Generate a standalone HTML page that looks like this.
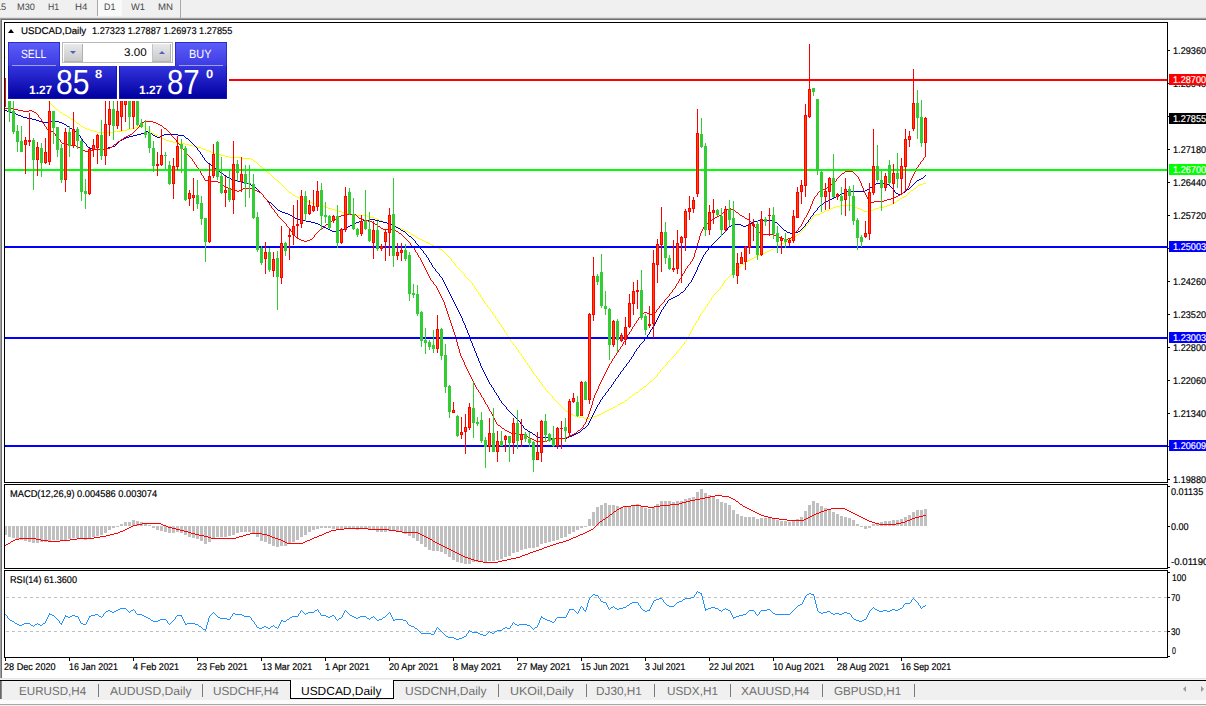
<!DOCTYPE html>
<html><head><meta charset="utf-8"><title>USDCAD,Daily</title>
<style>
html,body{margin:0;padding:0;background:#fff;}
body{width:1206px;height:706px;position:relative;overflow:hidden;font-family:"Liberation Sans",sans-serif;text-rendering:geometricPrecision;}
.t{position:absolute;white-space:nowrap;}
#toolbar{position:absolute;left:0;top:0;width:1206px;height:22px;background:#f0f0f0;}
#tabbar{position:absolute;left:0;top:681px;width:1206px;height:19px;background:#f0f0f0;}
svg{position:absolute;left:0;top:0;}
.a{position:absolute;}
</style></head><body>
<div id="toolbar"></div>
<div class="a" style="left:0;top:17px;width:1206px;height:1px;background:#dedede"></div>
<div class="a" style="left:0;top:18px;width:1206px;height:1px;background:#a0a0a0"></div>
<div class="a" style="left:1px;top:19px;width:1206px;height:1px;background:#6e6e6e"></div>
<div class="a" style="left:2px;top:20px;width:1206px;height:2px;background:#fff"></div>
<div class="a" style="left:98px;top:0;width:24px;height:16px;background:#f9f9f9"></div>
<div class="a" style="left:97px;top:0;width:1px;height:16px;background:#a8a8a8"></div>
<div class="a" style="left:180px;top:0;width:1px;height:18px;background:#a8a8a8"></div>
<div class="a" style="left:0;top:18px;width:1px;height:661px;background:#a0a0a0"></div>
<div class="a" style="left:1px;top:19px;width:1px;height:660px;background:#6e6e6e"></div>
<div class="a" style="left:2px;top:20px;width:2px;height:659px;background:#fff"></div>
<svg width="1206" height="706" viewBox="0 0 1206 706">
<defs><clipPath id="cmain"><rect x="5" y="23" width="1162" height="459"/></clipPath></defs>
<g clip-path="url(#cmain)">
<path d="M5 57h1v1h-1zM6 58h1v1h-1zM7 59h1v1h-1zM8 60h1v1h-1zM9 61h1v1h-1zM10 62h1v1h-1zM11 63h1v1h-1zM12 64h1v1h-1zM13 65h1v1h-1zM14 66h1v1h-1zM15 67h1v1h-1zM16 68h1v1h-1zM17 69h1v1h-1zM18 70h1v1h-1zM19 71h1v1h-1zM20 72h1v1h-1zM21 73h1v1h-1zM22 74h1v1h-1zM23 75h1v1h-1zM24 76h1v1h-1zM25 77h1v1h-1zM26 78h1v1h-1zM27 79h1v1h-1zM28 80h1v1h-1zM29 81h1v1h-1zM30 82h1v1h-1zM31 83h1v1h-1zM32 84h1v1h-1zM33 85h1v1h-1zM34 86h1v1h-1zM35 87h1v1h-1zM36 88h1v1h-1zM37 89h1v1h-1zM38 90h1v1h-1zM39 91h1v1h-1zM40 92h1v1h-1zM41 93h1v1h-1zM42 94h1v1h-1zM43 95h1v1h-1zM44 96h1v1h-1zM44 97h1v1h-1zM45 98h1v1h-1zM46 99h1v1h-1zM47 100h1v1h-1zM48 101h1v1h-1zM49 102h1v1h-1zM50 103h1v1h-1zM51 104h1v1h-1zM52 105h1v1h-1zM53 106h1v1h-1zM54 107h1v1h-1zM55 108h1v1h-1zM56 109h2v1h-2zM58 110h1v1h-1zM59 111h1v1h-1zM60 112h2v1h-2zM62 113h1v1h-1zM63 114h2v1h-2zM65 115h2v1h-2zM67 116h1v1h-1zM68 117h2v1h-2zM70 118h1v1h-1zM71 119h2v1h-2zM73 120h2v1h-2zM75 121h1v1h-1zM76 122h1v1h-1zM77 123h2v1h-2zM79 124h1v1h-1zM142 124h1v1h-1zM80 125h1v1h-1zM140 125h2v1h-2zM143 125h1v1h-1zM81 126h2v1h-2zM138 126h2v1h-2zM144 126h1v1h-1zM83 127h2v1h-2zM135 127h3v1h-3zM145 127h1v1h-1zM85 128h2v1h-2zM131 128h4v1h-4zM146 128h1v1h-1zM87 129h3v1h-3zM127 129h4v1h-4zM147 129h1v1h-1zM90 130h3v1h-3zM122 130h5v1h-5zM148 130h2v1h-2zM93 131h4v1h-4zM114 131h8v1h-8zM150 131h1v1h-1zM97 132h17v1h-17zM151 132h1v1h-1zM152 133h2v1h-2zM154 134h2v1h-2zM156 135h2v1h-2zM158 136h2v1h-2zM160 137h2v1h-2zM162 138h2v1h-2zM164 139h2v1h-2zM166 140h3v1h-3zM169 141h4v1h-4zM173 142h6v1h-6zM179 143h6v1h-6zM185 144h4v1h-4zM189 145h4v1h-4zM193 146h4v1h-4zM197 147h4v1h-4zM201 148h2v1h-2zM203 149h3v1h-3zM206 150h3v1h-3zM209 151h2v1h-2zM211 152h3v1h-3zM214 153h3v1h-3zM217 154h4v1h-4zM221 155h4v1h-4zM225 156h4v1h-4zM229 157h12v1h-12zM241 158h10v1h-10zM251 159h2v1h-2zM253 160h1v1h-1zM254 161h2v1h-2zM256 162h1v1h-1zM257 163h1v1h-1zM258 164h1v1h-1zM259 165h1v1h-1zM260 166h2v1h-2zM262 167h1v1h-1zM263 168h1v1h-1zM264 169h1v1h-1zM265 170h1v1h-1zM266 171h1v1h-1zM267 172h1v1h-1zM268 173h2v1h-2zM270 174h1v1h-1zM271 175h1v1h-1zM272 176h1v1h-1zM273 177h1v1h-1zM274 178h1v1h-1zM275 179h1v1h-1zM276 180h2v1h-2zM278 181h1v1h-1zM279 182h1v1h-1zM280 183h1v1h-1zM923 183h3v1h-3zM281 184h1v1h-1zM920 184h3v1h-3zM282 185h1v1h-1zM918 185h2v1h-2zM283 186h1v1h-1zM917 186h1v1h-1zM284 187h1v1h-1zM916 187h1v1h-1zM285 188h1v1h-1zM914 188h2v1h-2zM286 189h1v1h-1zM913 189h1v1h-1zM287 190h1v1h-1zM911 190h2v1h-2zM288 191h1v1h-1zM910 191h1v1h-1zM289 192h2v1h-2zM909 192h1v1h-1zM291 193h1v1h-1zM908 193h1v1h-1zM292 194h1v1h-1zM907 194h1v1h-1zM293 195h2v1h-2zM906 195h1v1h-1zM295 196h2v1h-2zM904 196h2v1h-2zM297 197h2v1h-2zM902 197h2v1h-2zM299 198h3v1h-3zM900 198h2v1h-2zM302 199h3v1h-3zM899 199h1v1h-1zM305 200h2v1h-2zM897 200h2v1h-2zM307 201h3v1h-3zM896 201h1v1h-1zM310 202h2v1h-2zM894 202h2v1h-2zM312 203h3v1h-3zM892 203h2v1h-2zM315 204h3v1h-3zM890 204h2v1h-2zM318 205h4v1h-4zM840 205h13v1h-13zM887 205h3v1h-3zM322 206h3v1h-3zM836 206h4v1h-4zM853 206h2v1h-2zM884 206h3v1h-3zM325 207h3v1h-3zM833 207h3v1h-3zM855 207h2v1h-2zM879 207h5v1h-5zM328 208h4v1h-4zM831 208h2v1h-2zM857 208h3v1h-3zM875 208h4v1h-4zM332 209h3v1h-3zM829 209h2v1h-2zM860 209h2v1h-2zM873 209h2v1h-2zM335 210h3v1h-3zM826 210h3v1h-3zM862 210h2v1h-2zM868 210h5v1h-5zM338 211h4v1h-4zM824 211h2v1h-2zM864 211h4v1h-4zM342 212h3v1h-3zM822 212h2v1h-2zM345 213h3v1h-3zM820 213h2v1h-2zM348 214h4v1h-4zM816 214h4v1h-4zM352 215h15v1h-15zM814 215h2v1h-2zM367 216h3v1h-3zM813 216h1v1h-1zM370 217h4v1h-4zM812 217h1v1h-1zM374 218h3v1h-3zM812 218h1v1h-1zM377 219h2v1h-2zM811 219h1v1h-1zM379 220h3v1h-3zM810 220h1v1h-1zM382 221h2v1h-2zM809 221h1v1h-1zM384 222h3v1h-3zM808 222h1v1h-1zM387 223h2v1h-2zM808 223h1v1h-1zM389 224h3v1h-3zM807 224h1v1h-1zM392 225h2v1h-2zM806 225h1v1h-1zM394 226h3v1h-3zM805 226h1v1h-1zM397 227h2v1h-2zM805 227h1v1h-1zM399 228h3v1h-3zM804 228h1v1h-1zM402 229h2v1h-2zM803 229h1v1h-1zM404 230h2v1h-2zM802 230h1v1h-1zM406 231h2v1h-2zM801 231h1v1h-1zM408 232h2v1h-2zM800 232h1v1h-1zM410 233h1v1h-1zM799 233h1v1h-1zM411 234h2v1h-2zM797 234h2v1h-2zM413 235h2v1h-2zM796 235h1v1h-1zM415 236h1v1h-1zM795 236h1v1h-1zM416 237h2v1h-2zM793 237h2v1h-2zM418 238h2v1h-2zM792 238h1v1h-1zM420 239h2v1h-2zM790 239h2v1h-2zM422 240h2v1h-2zM788 240h2v1h-2zM424 241h2v1h-2zM786 241h2v1h-2zM426 242h2v1h-2zM784 242h2v1h-2zM428 243h2v1h-2zM782 243h2v1h-2zM430 244h2v1h-2zM780 244h2v1h-2zM432 245h2v1h-2zM778 245h2v1h-2zM434 246h2v1h-2zM776 246h2v1h-2zM436 247h2v1h-2zM774 247h2v1h-2zM438 248h2v1h-2zM773 248h1v1h-1zM440 249h2v1h-2zM771 249h2v1h-2zM442 250h1v1h-1zM769 250h2v1h-2zM443 251h1v1h-1zM767 251h2v1h-2zM444 252h1v1h-1zM765 252h2v1h-2zM445 253h1v1h-1zM763 253h2v1h-2zM446 254h1v1h-1zM761 254h2v1h-2zM447 255h1v1h-1zM758 255h3v1h-3zM448 256h1v1h-1zM756 256h2v1h-2zM449 257h1v1h-1zM754 257h2v1h-2zM450 258h1v1h-1zM752 258h2v1h-2zM451 259h1v1h-1zM750 259h2v1h-2zM451 260h1v1h-1zM748 260h2v1h-2zM452 261h1v1h-1zM746 261h2v1h-2zM453 262h1v1h-1zM745 262h1v1h-1zM454 263h1v1h-1zM744 263h1v1h-1zM455 264h1v1h-1zM742 264h2v1h-2zM455 265h1v1h-1zM741 265h1v1h-1zM456 266h1v1h-1zM740 266h1v1h-1zM457 267h1v1h-1zM739 267h1v1h-1zM458 268h1v1h-1zM738 268h1v1h-1zM459 269h1v1h-1zM737 269h1v1h-1zM460 270h1v1h-1zM735 270h2v1h-2zM461 271h1v1h-1zM734 271h1v1h-1zM462 272h1v1h-1zM733 272h1v1h-1zM463 273h1v1h-1zM732 273h1v1h-1zM464 274h1v1h-1zM731 274h1v1h-1zM464 275h1v1h-1zM730 275h1v1h-1zM465 276h1v1h-1zM729 276h1v1h-1zM466 277h1v1h-1zM728 277h1v1h-1zM467 278h1v1h-1zM727 278h1v1h-1zM468 279h1v1h-1zM726 279h1v1h-1zM469 280h1v1h-1zM725 280h1v1h-1zM470 281h1v1h-1zM724 281h1v1h-1zM471 282h1v1h-1zM724 282h1v1h-1zM472 283h1v1h-1zM723 283h1v1h-1zM472 284h1v1h-1zM722 284h1v1h-1zM473 285h1v1h-1zM722 285h1v1h-1zM474 286h1v1h-1zM721 286h1v1h-1zM474 287h1v1h-1zM720 287h1v1h-1zM475 288h1v1h-1zM720 288h1v1h-1zM476 289h1v1h-1zM719 289h1v1h-1zM476 290h1v1h-1zM718 290h1v1h-1zM477 291h1v1h-1zM717 291h1v1h-1zM478 292h1v1h-1zM716 292h1v1h-1zM478 293h1v1h-1zM715 293h1v1h-1zM479 294h1v1h-1zM714 294h1v1h-1zM480 295h1v1h-1zM713 295h1v1h-1zM480 296h1v1h-1zM713 296h1v1h-1zM481 297h1v1h-1zM712 297h1v1h-1zM482 298h1v1h-1zM711 298h1v1h-1zM482 299h1v1h-1zM711 299h1v1h-1zM483 300h1v1h-1zM710 300h1v1h-1zM484 301h1v1h-1zM709 301h1v1h-1zM484 302h1v1h-1zM709 302h1v1h-1zM485 303h1v1h-1zM708 303h1v1h-1zM486 304h1v1h-1zM707 304h1v1h-1zM487 305h1v1h-1zM707 305h1v1h-1zM487 306h1v1h-1zM706 306h1v1h-1zM488 307h1v1h-1zM705 307h1v1h-1zM489 308h1v1h-1zM705 308h1v1h-1zM490 309h1v1h-1zM704 309h1v1h-1zM490 310h1v1h-1zM703 310h1v1h-1zM491 311h1v1h-1zM702 311h1v1h-1zM492 312h1v1h-1zM702 312h1v1h-1zM492 313h1v1h-1zM701 313h1v1h-1zM493 314h1v1h-1zM700 314h1v1h-1zM494 315h1v1h-1zM700 315h1v1h-1zM495 316h1v1h-1zM699 316h1v1h-1zM495 317h1v1h-1zM699 317h1v1h-1zM496 318h1v1h-1zM698 318h1v1h-1zM497 319h1v1h-1zM698 319h1v1h-1zM497 320h1v1h-1zM697 320h1v1h-1zM498 321h1v1h-1zM696 321h1v1h-1zM499 322h1v1h-1zM696 322h1v1h-1zM499 323h1v1h-1zM695 323h1v1h-1zM500 324h1v1h-1zM695 324h1v1h-1zM501 325h1v1h-1zM694 325h1v1h-1zM501 326h1v1h-1zM693 326h1v1h-1zM502 327h1v1h-1zM693 327h1v1h-1zM503 328h1v1h-1zM692 328h1v1h-1zM503 329h1v1h-1zM692 329h1v1h-1zM504 330h1v1h-1zM691 330h1v1h-1zM504 331h1v1h-1zM691 331h1v1h-1zM505 332h1v1h-1zM690 332h1v1h-1zM506 333h1v1h-1zM690 333h1v1h-1zM506 334h1v1h-1zM689 334h1v1h-1zM507 335h1v1h-1zM689 335h1v1h-1zM508 336h1v1h-1zM688 336h1v1h-1zM508 337h1v1h-1zM688 337h1v1h-1zM509 338h1v1h-1zM687 338h1v1h-1zM510 339h1v1h-1zM686 339h1v1h-1zM510 340h1v1h-1zM686 340h1v1h-1zM511 341h1v1h-1zM685 341h1v1h-1zM512 342h1v1h-1zM684 342h1v1h-1zM513 343h1v1h-1zM684 343h1v1h-1zM513 344h1v1h-1zM683 344h1v1h-1zM514 345h1v1h-1zM682 345h1v1h-1zM515 346h1v1h-1zM681 346h1v1h-1zM516 347h1v1h-1zM681 347h1v1h-1zM516 348h1v1h-1zM680 348h1v1h-1zM517 349h1v1h-1zM679 349h1v1h-1zM518 350h1v1h-1zM678 350h1v1h-1zM518 351h1v1h-1zM677 351h1v1h-1zM519 352h1v1h-1zM676 352h1v1h-1zM520 353h1v1h-1zM676 353h1v1h-1zM521 354h1v1h-1zM675 354h1v1h-1zM521 355h1v1h-1zM674 355h1v1h-1zM522 356h1v1h-1zM673 356h1v1h-1zM523 357h1v1h-1zM672 357h1v1h-1zM523 358h1v1h-1zM671 358h1v1h-1zM524 359h1v1h-1zM670 359h1v1h-1zM525 360h1v1h-1zM669 360h1v1h-1zM525 361h1v1h-1zM668 361h1v1h-1zM526 362h1v1h-1zM667 362h1v1h-1zM527 363h1v1h-1zM667 363h1v1h-1zM527 364h1v1h-1zM666 364h1v1h-1zM528 365h1v1h-1zM665 365h1v1h-1zM529 366h1v1h-1zM664 366h1v1h-1zM529 367h1v1h-1zM663 367h1v1h-1zM530 368h1v1h-1zM662 368h1v1h-1zM531 369h1v1h-1zM661 369h1v1h-1zM531 370h1v1h-1zM660 370h1v1h-1zM532 371h1v1h-1zM660 371h1v1h-1zM533 372h1v1h-1zM659 372h1v1h-1zM533 373h1v1h-1zM658 373h1v1h-1zM534 374h1v1h-1zM657 374h1v1h-1zM535 375h1v1h-1zM657 375h1v1h-1zM536 376h1v1h-1zM656 376h1v1h-1zM536 377h1v1h-1zM655 377h1v1h-1zM537 378h1v1h-1zM654 378h1v1h-1zM538 379h1v1h-1zM653 379h1v1h-1zM539 380h1v1h-1zM652 380h1v1h-1zM539 381h1v1h-1zM650 381h2v1h-2zM540 382h1v1h-1zM649 382h1v1h-1zM541 383h1v1h-1zM648 383h1v1h-1zM542 384h1v1h-1zM647 384h1v1h-1zM542 385h1v1h-1zM646 385h1v1h-1zM543 386h1v1h-1zM644 386h2v1h-2zM544 387h1v1h-1zM643 387h1v1h-1zM545 388h1v1h-1zM642 388h1v1h-1zM545 389h1v1h-1zM640 389h2v1h-2zM546 390h1v1h-1zM639 390h1v1h-1zM547 391h1v1h-1zM638 391h1v1h-1zM548 392h1v1h-1zM636 392h2v1h-2zM549 393h1v1h-1zM635 393h1v1h-1zM550 394h1v1h-1zM633 394h2v1h-2zM551 395h1v1h-1zM632 395h1v1h-1zM552 396h1v1h-1zM631 396h1v1h-1zM552 397h1v1h-1zM629 397h2v1h-2zM553 398h1v1h-1zM628 398h1v1h-1zM554 399h1v1h-1zM627 399h1v1h-1zM555 400h1v1h-1zM625 400h2v1h-2zM556 401h1v1h-1zM624 401h1v1h-1zM557 402h1v1h-1zM622 402h2v1h-2zM558 403h1v1h-1zM620 403h2v1h-2zM559 404h1v1h-1zM618 404h2v1h-2zM560 405h1v1h-1zM617 405h1v1h-1zM561 406h1v1h-1zM615 406h2v1h-2zM562 407h1v1h-1zM613 407h2v1h-2zM563 408h1v1h-1zM611 408h2v1h-2zM564 409h1v1h-1zM609 409h2v1h-2zM565 410h1v1h-1zM607 410h2v1h-2zM566 411h2v1h-2zM605 411h2v1h-2zM568 412h1v1h-1zM603 412h2v1h-2zM569 413h2v1h-2zM601 413h2v1h-2zM571 414h2v1h-2zM599 414h2v1h-2zM573 415h2v1h-2zM597 415h2v1h-2zM575 416h4v1h-4zM594 416h3v1h-3zM579 417h5v1h-5zM590 417h4v1h-4zM584 418h6v1h-6z" fill="#FFFF00" shape-rendering="crispEdges"/>
<path d="M5 110h2v1h-2zM7 111h3v1h-3zM10 112h3v1h-3zM13 113h3v1h-3zM16 114h2v1h-2zM18 115h3v1h-3zM21 116h2v1h-2zM23 117h4v1h-4zM27 118h5v1h-5zM32 119h4v1h-4zM36 120h3v1h-3zM39 121h4v1h-4zM48 121h11v1h-11zM43 122h5v1h-5zM59 122h3v1h-3zM62 123h2v1h-2zM64 124h2v1h-2zM66 125h1v1h-1zM67 126h2v1h-2zM69 127h1v1h-1zM70 128h2v1h-2zM72 129h1v1h-1zM73 130h2v1h-2zM75 131h1v1h-1zM146 131h2v1h-2zM76 132h1v1h-1zM144 132h2v1h-2zM148 132h2v1h-2zM77 133h1v1h-1zM141 133h3v1h-3zM150 133h2v1h-2zM78 134h1v1h-1zM137 134h4v1h-4zM152 134h1v1h-1zM164 134h14v1h-14zM79 135h1v1h-1zM133 135h4v1h-4zM153 135h2v1h-2zM162 135h2v1h-2zM178 135h6v1h-6zM80 136h1v1h-1zM129 136h4v1h-4zM155 136h2v1h-2zM160 136h2v1h-2zM184 136h1v1h-1zM80 137h1v1h-1zM126 137h3v1h-3zM157 137h3v1h-3zM185 137h1v1h-1zM81 138h1v1h-1zM124 138h2v1h-2zM186 138h2v1h-2zM82 139h1v1h-1zM122 139h2v1h-2zM188 139h1v1h-1zM82 140h1v1h-1zM120 140h2v1h-2zM189 140h1v1h-1zM83 141h1v1h-1zM119 141h1v1h-1zM190 141h1v1h-1zM84 142h1v1h-1zM118 142h1v1h-1zM191 142h1v1h-1zM85 143h1v1h-1zM117 143h1v1h-1zM192 143h1v1h-1zM86 144h1v1h-1zM116 144h1v1h-1zM193 144h1v1h-1zM86 145h1v1h-1zM115 145h1v1h-1zM194 145h1v1h-1zM87 146h1v1h-1zM112 146h3v1h-3zM195 146h1v1h-1zM88 147h2v1h-2zM108 147h4v1h-4zM196 147h1v1h-1zM90 148h4v1h-4zM105 148h3v1h-3zM197 148h1v1h-1zM94 149h11v1h-11zM197 149h1v1h-1zM198 150h1v1h-1zM199 151h1v1h-1zM200 152h1v1h-1zM200 153h1v1h-1zM201 154h1v1h-1zM202 155h1v1h-1zM202 156h1v1h-1zM203 157h1v1h-1zM204 158h1v1h-1zM204 159h1v1h-1zM205 160h1v1h-1zM206 161h1v1h-1zM207 162h1v1h-1zM208 163h2v1h-2zM210 164h1v1h-1zM211 165h1v1h-1zM212 166h1v1h-1zM213 167h1v1h-1zM214 168h2v1h-2zM216 169h1v1h-1zM217 170h1v1h-1zM218 171h2v1h-2zM220 172h1v1h-1zM221 173h2v1h-2zM223 174h1v1h-1zM224 175h2v1h-2zM925 175h1v1h-1zM226 176h1v1h-1zM924 176h1v1h-1zM227 177h2v1h-2zM923 177h1v1h-1zM229 178h2v1h-2zM921 178h2v1h-2zM231 179h3v1h-3zM919 179h2v1h-2zM234 180h3v1h-3zM917 180h2v1h-2zM237 181h4v1h-4zM916 181h1v1h-1zM241 182h5v1h-5zM915 182h1v1h-1zM246 183h3v1h-3zM876 183h9v1h-9zM914 183h1v1h-1zM249 184h2v1h-2zM874 184h2v1h-2zM885 184h4v1h-4zM913 184h1v1h-1zM251 185h2v1h-2zM873 185h1v1h-1zM889 185h1v1h-1zM912 185h1v1h-1zM253 186h2v1h-2zM872 186h1v1h-1zM890 186h1v1h-1zM911 186h1v1h-1zM255 187h1v1h-1zM870 187h2v1h-2zM891 187h1v1h-1zM910 187h1v1h-1zM256 188h1v1h-1zM869 188h1v1h-1zM892 188h1v1h-1zM909 188h1v1h-1zM257 189h1v1h-1zM867 189h2v1h-2zM893 189h1v1h-1zM907 189h2v1h-2zM258 190h1v1h-1zM865 190h2v1h-2zM894 190h1v1h-1zM906 190h1v1h-1zM259 191h1v1h-1zM846 191h19v1h-19zM894 191h1v1h-1zM905 191h1v1h-1zM260 192h1v1h-1zM844 192h2v1h-2zM895 192h1v1h-1zM903 192h2v1h-2zM261 193h1v1h-1zM842 193h2v1h-2zM896 193h2v1h-2zM901 193h2v1h-2zM262 194h1v1h-1zM840 194h2v1h-2zM898 194h3v1h-3zM263 195h1v1h-1zM838 195h2v1h-2zM263 196h1v1h-1zM836 196h2v1h-2zM264 197h1v1h-1zM834 197h2v1h-2zM265 198h1v1h-1zM832 198h2v1h-2zM266 199h1v1h-1zM830 199h2v1h-2zM267 200h1v1h-1zM828 200h2v1h-2zM268 201h1v1h-1zM826 201h2v1h-2zM269 202h2v1h-2zM824 202h2v1h-2zM271 203h1v1h-1zM823 203h1v1h-1zM272 204h1v1h-1zM822 204h1v1h-1zM273 205h1v1h-1zM820 205h2v1h-2zM274 206h1v1h-1zM819 206h1v1h-1zM275 207h1v1h-1zM818 207h1v1h-1zM276 208h1v1h-1zM817 208h1v1h-1zM277 209h1v1h-1zM817 209h1v1h-1zM278 210h2v1h-2zM816 210h1v1h-1zM280 211h2v1h-2zM815 211h1v1h-1zM282 212h3v1h-3zM814 212h1v1h-1zM285 213h3v1h-3zM813 213h1v1h-1zM288 214h2v1h-2zM813 214h1v1h-1zM290 215h2v1h-2zM812 215h1v1h-1zM292 216h1v1h-1zM811 216h1v1h-1zM293 217h2v1h-2zM810 217h1v1h-1zM295 218h2v1h-2zM810 218h1v1h-1zM297 219h4v1h-4zM369 219h6v1h-6zM809 219h1v1h-1zM301 220h5v1h-5zM363 220h6v1h-6zM375 220h4v1h-4zM758 220h15v1h-15zM808 220h1v1h-1zM306 221h5v1h-5zM359 221h4v1h-4zM379 221h4v1h-4zM754 221h4v1h-4zM773 221h2v1h-2zM808 221h1v1h-1zM311 222h4v1h-4zM356 222h3v1h-3zM383 222h4v1h-4zM752 222h2v1h-2zM775 222h2v1h-2zM807 222h1v1h-1zM315 223h3v1h-3zM354 223h2v1h-2zM387 223h3v1h-3zM750 223h2v1h-2zM777 223h1v1h-1zM806 223h1v1h-1zM318 224h2v1h-2zM352 224h2v1h-2zM390 224h2v1h-2zM733 224h8v1h-8zM748 224h2v1h-2zM778 224h1v1h-1zM805 224h1v1h-1zM320 225h2v1h-2zM350 225h2v1h-2zM392 225h2v1h-2zM731 225h2v1h-2zM741 225h2v1h-2zM746 225h2v1h-2zM779 225h1v1h-1zM805 225h1v1h-1zM322 226h2v1h-2zM348 226h2v1h-2zM394 226h2v1h-2zM729 226h2v1h-2zM743 226h3v1h-3zM780 226h1v1h-1zM804 226h1v1h-1zM324 227h2v1h-2zM346 227h2v1h-2zM396 227h2v1h-2zM728 227h1v1h-1zM781 227h1v1h-1zM803 227h1v1h-1zM326 228h2v1h-2zM344 228h2v1h-2zM398 228h2v1h-2zM727 228h1v1h-1zM782 228h1v1h-1zM802 228h1v1h-1zM328 229h2v1h-2zM342 229h2v1h-2zM400 229h1v1h-1zM727 229h1v1h-1zM783 229h1v1h-1zM801 229h1v1h-1zM330 230h2v1h-2zM337 230h5v1h-5zM401 230h2v1h-2zM726 230h1v1h-1zM784 230h2v1h-2zM800 230h1v1h-1zM332 231h5v1h-5zM403 231h2v1h-2zM725 231h1v1h-1zM786 231h1v1h-1zM798 231h2v1h-2zM405 232h1v1h-1zM724 232h1v1h-1zM787 232h3v1h-3zM794 232h4v1h-4zM406 233h1v1h-1zM723 233h1v1h-1zM790 233h4v1h-4zM407 234h1v1h-1zM722 234h1v1h-1zM408 235h1v1h-1zM721 235h1v1h-1zM409 236h2v1h-2zM720 236h1v1h-1zM411 237h1v1h-1zM719 237h1v1h-1zM412 238h1v1h-1zM718 238h1v1h-1zM413 239h1v1h-1zM717 239h1v1h-1zM414 240h1v1h-1zM716 240h1v1h-1zM415 241h1v1h-1zM715 241h1v1h-1zM415 242h1v1h-1zM714 242h1v1h-1zM416 243h1v1h-1zM713 243h1v1h-1zM417 244h1v1h-1zM712 244h1v1h-1zM418 245h1v1h-1zM711 245h1v1h-1zM419 246h1v1h-1zM710 246h1v1h-1zM419 247h1v1h-1zM709 247h1v1h-1zM420 248h1v1h-1zM708 248h1v1h-1zM421 249h1v1h-1zM708 249h1v1h-1zM422 250h1v1h-1zM707 250h1v1h-1zM423 251h1v1h-1zM706 251h1v1h-1zM423 252h1v1h-1zM705 252h1v1h-1zM424 253h1v1h-1zM705 253h1v1h-1zM425 254h1v1h-1zM704 254h1v1h-1zM426 255h1v1h-1zM703 255h1v1h-1zM426 256h1v1h-1zM703 256h1v1h-1zM427 257h1v1h-1zM702 257h1v1h-1zM428 258h1v1h-1zM702 258h1v1h-1zM428 259h1v1h-1zM701 259h1v1h-1zM429 260h1v1h-1zM701 260h1v1h-1zM429 261h1v1h-1zM700 261h1v1h-1zM430 262h1v1h-1zM700 262h1v1h-1zM431 263h1v1h-1zM699 263h1v1h-1zM431 264h1v1h-1zM699 264h1v1h-1zM432 265h1v1h-1zM698 265h1v1h-1zM432 266h1v1h-1zM698 266h1v1h-1zM433 267h1v1h-1zM697 267h1v1h-1zM434 268h1v1h-1zM697 268h1v1h-1zM435 269h1v1h-1zM697 269h1v1h-1zM435 270h1v1h-1zM696 270h1v1h-1zM436 271h1v1h-1zM696 271h1v1h-1zM437 272h1v1h-1zM695 272h1v1h-1zM438 273h1v1h-1zM695 273h1v1h-1zM439 274h1v1h-1zM694 274h1v1h-1zM439 275h1v1h-1zM694 275h1v1h-1zM440 276h1v1h-1zM693 276h1v1h-1zM441 277h1v1h-1zM693 277h1v1h-1zM442 278h1v1h-1zM692 278h1v1h-1zM442 279h1v1h-1zM692 279h1v1h-1zM443 280h1v1h-1zM691 280h1v1h-1zM443 281h1v1h-1zM691 281h1v1h-1zM444 282h1v1h-1zM690 282h1v1h-1zM444 283h1v1h-1zM689 283h1v1h-1zM445 284h1v1h-1zM688 284h1v1h-1zM445 285h1v1h-1zM688 285h1v1h-1zM446 286h1v1h-1zM687 286h1v1h-1zM446 287h1v1h-1zM686 287h1v1h-1zM447 288h1v1h-1zM685 288h1v1h-1zM447 289h1v1h-1zM685 289h1v1h-1zM448 290h1v1h-1zM684 290h1v1h-1zM448 291h1v1h-1zM683 291h1v1h-1zM449 292h1v1h-1zM681 292h2v1h-2zM449 293h1v1h-1zM680 293h1v1h-1zM450 294h1v1h-1zM679 294h1v1h-1zM450 295h1v1h-1zM677 295h2v1h-2zM451 296h1v1h-1zM675 296h2v1h-2zM451 297h1v1h-1zM673 297h2v1h-2zM452 298h1v1h-1zM671 298h2v1h-2zM452 299h1v1h-1zM669 299h2v1h-2zM453 300h1v1h-1zM668 300h1v1h-1zM453 301h1v1h-1zM667 301h1v1h-1zM454 302h1v1h-1zM667 302h1v1h-1zM454 303h1v1h-1zM666 303h1v1h-1zM455 304h1v1h-1zM665 304h1v1h-1zM455 305h1v1h-1zM665 305h1v1h-1zM456 306h1v1h-1zM664 306h1v1h-1zM456 307h1v1h-1zM663 307h1v1h-1zM457 308h1v1h-1zM663 308h1v1h-1zM457 309h1v1h-1zM662 309h1v1h-1zM458 310h1v1h-1zM661 310h1v1h-1zM458 311h1v1h-1zM661 311h1v1h-1zM459 312h1v1h-1zM660 312h1v1h-1zM459 313h1v1h-1zM660 313h1v1h-1zM460 314h1v1h-1zM659 314h1v1h-1zM460 315h1v1h-1zM659 315h1v1h-1zM461 316h1v1h-1zM658 316h1v1h-1zM461 317h1v1h-1zM658 317h1v1h-1zM462 318h1v1h-1zM657 318h1v1h-1zM462 319h1v1h-1zM657 319h1v1h-1zM462 320h1v1h-1zM656 320h1v1h-1zM463 321h1v1h-1zM656 321h1v1h-1zM463 322h1v1h-1zM655 322h1v1h-1zM464 323h1v1h-1zM655 323h1v1h-1zM464 324h1v1h-1zM654 324h1v1h-1zM465 325h1v1h-1zM654 325h1v1h-1zM465 326h1v1h-1zM653 326h1v1h-1zM465 327h1v1h-1zM652 327h1v1h-1zM466 328h1v1h-1zM652 328h1v1h-1zM466 329h1v1h-1zM651 329h1v1h-1zM467 330h1v1h-1zM650 330h1v1h-1zM467 331h1v1h-1zM650 331h1v1h-1zM467 332h1v1h-1zM649 332h1v1h-1zM468 333h1v1h-1zM649 333h1v1h-1zM468 334h1v1h-1zM648 334h1v1h-1zM469 335h1v1h-1zM647 335h1v1h-1zM469 336h1v1h-1zM647 336h1v1h-1zM469 337h1v1h-1zM646 337h1v1h-1zM470 338h1v1h-1zM645 338h1v1h-1zM470 339h1v1h-1zM644 339h1v1h-1zM470 340h1v1h-1zM644 340h1v1h-1zM471 341h1v1h-1zM643 341h1v1h-1zM471 342h1v1h-1zM642 342h1v1h-1zM472 343h1v1h-1zM641 343h1v1h-1zM472 344h1v1h-1zM640 344h1v1h-1zM472 345h1v1h-1zM639 345h1v1h-1zM473 346h1v1h-1zM639 346h1v1h-1zM473 347h1v1h-1zM638 347h1v1h-1zM474 348h1v1h-1zM637 348h1v1h-1zM474 349h1v1h-1zM636 349h1v1h-1zM474 350h1v1h-1zM636 350h1v1h-1zM475 351h1v1h-1zM635 351h1v1h-1zM475 352h1v1h-1zM634 352h1v1h-1zM476 353h1v1h-1zM634 353h1v1h-1zM476 354h1v1h-1zM633 354h1v1h-1zM476 355h1v1h-1zM633 355h1v1h-1zM477 356h1v1h-1zM632 356h1v1h-1zM477 357h1v1h-1zM631 357h1v1h-1zM478 358h1v1h-1zM631 358h1v1h-1zM478 359h1v1h-1zM630 359h1v1h-1zM478 360h1v1h-1zM629 360h1v1h-1zM479 361h1v1h-1zM629 361h1v1h-1zM479 362h1v1h-1zM628 362h1v1h-1zM480 363h1v1h-1zM627 363h1v1h-1zM480 364h1v1h-1zM626 364h1v1h-1zM480 365h1v1h-1zM626 365h1v1h-1zM481 366h1v1h-1zM625 366h1v1h-1zM481 367h1v1h-1zM624 367h1v1h-1zM482 368h1v1h-1zM623 368h1v1h-1zM482 369h1v1h-1zM623 369h1v1h-1zM483 370h1v1h-1zM622 370h1v1h-1zM483 371h1v1h-1zM621 371h1v1h-1zM484 372h1v1h-1zM620 372h1v1h-1zM484 373h1v1h-1zM620 373h1v1h-1zM485 374h1v1h-1zM619 374h1v1h-1zM485 375h1v1h-1zM618 375h1v1h-1zM486 376h1v1h-1zM618 376h1v1h-1zM486 377h1v1h-1zM617 377h1v1h-1zM487 378h1v1h-1zM616 378h1v1h-1zM487 379h1v1h-1zM615 379h1v1h-1zM488 380h1v1h-1zM615 380h1v1h-1zM488 381h1v1h-1zM614 381h1v1h-1zM489 382h1v1h-1zM613 382h1v1h-1zM489 383h1v1h-1zM613 383h1v1h-1zM490 384h1v1h-1zM612 384h1v1h-1zM491 385h1v1h-1zM611 385h1v1h-1zM491 386h1v1h-1zM611 386h1v1h-1zM492 387h1v1h-1zM610 387h1v1h-1zM493 388h1v1h-1zM609 388h1v1h-1zM493 389h1v1h-1zM608 389h1v1h-1zM494 390h1v1h-1zM608 390h1v1h-1zM494 391h1v1h-1zM607 391h1v1h-1zM495 392h1v1h-1zM606 392h1v1h-1zM496 393h1v1h-1zM605 393h1v1h-1zM496 394h1v1h-1zM605 394h1v1h-1zM497 395h1v1h-1zM604 395h1v1h-1zM498 396h1v1h-1zM603 396h1v1h-1zM498 397h1v1h-1zM602 397h1v1h-1zM499 398h1v1h-1zM602 398h1v1h-1zM499 399h1v1h-1zM601 399h1v1h-1zM500 400h1v1h-1zM600 400h1v1h-1zM501 401h1v1h-1zM600 401h1v1h-1zM501 402h1v1h-1zM599 402h1v1h-1zM502 403h1v1h-1zM599 403h1v1h-1zM503 404h1v1h-1zM598 404h1v1h-1zM504 405h1v1h-1zM597 405h1v1h-1zM505 406h1v1h-1zM597 406h1v1h-1zM506 407h1v1h-1zM596 407h1v1h-1zM506 408h1v1h-1zM596 408h1v1h-1zM507 409h1v1h-1zM595 409h1v1h-1zM508 410h1v1h-1zM595 410h1v1h-1zM509 411h1v1h-1zM594 411h1v1h-1zM510 412h1v1h-1zM594 412h1v1h-1zM511 413h1v1h-1zM593 413h1v1h-1zM512 414h1v1h-1zM593 414h1v1h-1zM513 415h1v1h-1zM592 415h1v1h-1zM514 416h1v1h-1zM592 416h1v1h-1zM515 417h1v1h-1zM591 417h1v1h-1zM516 418h1v1h-1zM591 418h1v1h-1zM517 419h1v1h-1zM590 419h1v1h-1zM518 420h1v1h-1zM590 420h1v1h-1zM519 421h1v1h-1zM589 421h1v1h-1zM520 422h1v1h-1zM589 422h1v1h-1zM520 423h1v1h-1zM588 423h1v1h-1zM521 424h1v1h-1zM588 424h1v1h-1zM522 425h1v1h-1zM587 425h1v1h-1zM523 426h1v1h-1zM586 426h1v1h-1zM523 427h1v1h-1zM585 427h1v1h-1zM524 428h1v1h-1zM583 428h2v1h-2zM525 429h2v1h-2zM582 429h1v1h-1zM527 430h1v1h-1zM581 430h1v1h-1zM528 431h2v1h-2zM580 431h1v1h-1zM530 432h2v1h-2zM578 432h2v1h-2zM532 433h1v1h-1zM576 433h2v1h-2zM533 434h2v1h-2zM574 434h2v1h-2zM535 435h1v1h-1zM572 435h2v1h-2zM536 436h2v1h-2zM569 436h3v1h-3zM538 437h13v1h-13zM567 437h2v1h-2zM551 438h16v1h-16z" fill="#0000CD" shape-rendering="crispEdges"/>
<path d="M5 108h9v1h-9zM14 109h4v1h-4zM18 110h5v1h-5zM29 110h3v1h-3zM23 111h6v1h-6zM32 111h2v1h-2zM34 112h2v1h-2zM36 113h1v1h-1zM37 114h1v1h-1zM38 115h1v1h-1zM38 116h1v1h-1zM39 117h1v1h-1zM40 118h1v1h-1zM41 119h1v1h-1zM41 120h1v1h-1zM42 121h1v1h-1zM144 121h9v1h-9zM42 122h1v1h-1zM142 122h2v1h-2zM153 122h3v1h-3zM43 123h1v1h-1zM141 123h1v1h-1zM156 123h2v1h-2zM44 124h1v1h-1zM140 124h1v1h-1zM158 124h2v1h-2zM44 125h1v1h-1zM139 125h1v1h-1zM160 125h2v1h-2zM45 126h1v1h-1zM139 126h1v1h-1zM162 126h1v1h-1zM46 127h1v1h-1zM138 127h1v1h-1zM163 127h1v1h-1zM46 128h1v1h-1zM137 128h1v1h-1zM164 128h2v1h-2zM47 129h2v1h-2zM136 129h1v1h-1zM166 129h1v1h-1zM49 130h2v1h-2zM135 130h1v1h-1zM167 130h1v1h-1zM51 131h2v1h-2zM134 131h1v1h-1zM168 131h1v1h-1zM53 132h1v1h-1zM133 132h1v1h-1zM169 132h1v1h-1zM54 133h1v1h-1zM132 133h1v1h-1zM170 133h1v1h-1zM55 134h1v1h-1zM130 134h2v1h-2zM170 134h1v1h-1zM55 135h1v1h-1zM128 135h2v1h-2zM171 135h1v1h-1zM56 136h1v1h-1zM126 136h2v1h-2zM172 136h1v1h-1zM57 137h1v1h-1zM124 137h2v1h-2zM173 137h1v1h-1zM58 138h1v1h-1zM123 138h1v1h-1zM174 138h1v1h-1zM59 139h1v1h-1zM121 139h2v1h-2zM175 139h1v1h-1zM60 140h1v1h-1zM120 140h1v1h-1zM176 140h1v1h-1zM60 141h1v1h-1zM118 141h2v1h-2zM176 141h1v1h-1zM61 142h1v1h-1zM117 142h1v1h-1zM177 142h1v1h-1zM62 143h3v1h-3zM116 143h1v1h-1zM178 143h1v1h-1zM65 144h6v1h-6zM114 144h2v1h-2zM179 144h1v1h-1zM71 145h5v1h-5zM113 145h1v1h-1zM180 145h1v1h-1zM76 146h2v1h-2zM112 146h1v1h-1zM181 146h1v1h-1zM78 147h2v1h-2zM110 147h2v1h-2zM181 147h1v1h-1zM80 148h2v1h-2zM107 148h3v1h-3zM182 148h1v1h-1zM82 149h1v1h-1zM94 149h13v1h-13zM183 149h1v1h-1zM83 150h2v1h-2zM88 150h6v1h-6zM184 150h1v1h-1zM85 151h3v1h-3zM184 151h1v1h-1zM185 152h1v1h-1zM186 153h1v1h-1zM187 154h1v1h-1zM188 155h1v1h-1zM189 156h1v1h-1zM925 156h1v1h-1zM190 157h1v1h-1zM924 157h1v1h-1zM191 158h1v1h-1zM923 158h1v1h-1zM192 159h1v1h-1zM923 159h1v1h-1zM192 160h1v1h-1zM922 160h1v1h-1zM193 161h1v1h-1zM921 161h1v1h-1zM194 162h1v1h-1zM920 162h1v1h-1zM194 163h1v1h-1zM920 163h1v1h-1zM195 164h1v1h-1zM919 164h1v1h-1zM196 165h1v1h-1zM918 165h1v1h-1zM196 166h1v1h-1zM918 166h1v1h-1zM197 167h1v1h-1zM917 167h1v1h-1zM198 168h1v1h-1zM916 168h1v1h-1zM198 169h1v1h-1zM916 169h1v1h-1zM199 170h1v1h-1zM915 170h1v1h-1zM200 171h1v1h-1zM845 171h8v1h-8zM915 171h1v1h-1zM200 172h1v1h-1zM844 172h1v1h-1zM853 172h1v1h-1zM914 172h1v1h-1zM201 173h1v1h-1zM842 173h2v1h-2zM854 173h1v1h-1zM914 173h1v1h-1zM201 174h1v1h-1zM841 174h1v1h-1zM855 174h1v1h-1zM913 174h1v1h-1zM202 175h1v1h-1zM840 175h1v1h-1zM856 175h1v1h-1zM913 175h1v1h-1zM203 176h1v1h-1zM839 176h1v1h-1zM857 176h1v1h-1zM912 176h1v1h-1zM203 177h1v1h-1zM838 177h1v1h-1zM858 177h1v1h-1zM912 177h1v1h-1zM204 178h1v1h-1zM837 178h1v1h-1zM858 178h1v1h-1zM911 178h1v1h-1zM204 179h1v1h-1zM836 179h1v1h-1zM859 179h1v1h-1zM911 179h1v1h-1zM205 180h3v1h-3zM836 180h1v1h-1zM859 180h1v1h-1zM910 180h1v1h-1zM208 181h10v1h-10zM835 181h1v1h-1zM860 181h1v1h-1zM910 181h1v1h-1zM218 182h2v1h-2zM834 182h1v1h-1zM860 182h1v1h-1zM910 182h1v1h-1zM220 183h1v1h-1zM833 183h1v1h-1zM861 183h1v1h-1zM909 183h1v1h-1zM221 184h2v1h-2zM831 184h2v1h-2zM861 184h1v1h-1zM909 184h1v1h-1zM223 185h1v1h-1zM830 185h1v1h-1zM861 185h1v1h-1zM909 185h1v1h-1zM224 186h2v1h-2zM829 186h1v1h-1zM862 186h1v1h-1zM908 186h1v1h-1zM226 187h2v1h-2zM827 187h2v1h-2zM862 187h1v1h-1zM908 187h1v1h-1zM228 188h3v1h-3zM243 188h10v1h-10zM825 188h2v1h-2zM863 188h1v1h-1zM907 188h1v1h-1zM231 189h3v1h-3zM241 189h2v1h-2zM253 189h2v1h-2zM823 189h2v1h-2zM863 189h1v1h-1zM906 189h1v1h-1zM234 190h3v1h-3zM239 190h2v1h-2zM255 190h2v1h-2zM821 190h2v1h-2zM863 190h1v1h-1zM905 190h1v1h-1zM237 191h2v1h-2zM257 191h2v1h-2zM819 191h2v1h-2zM864 191h1v1h-1zM904 191h1v1h-1zM259 192h2v1h-2zM818 192h1v1h-1zM864 192h1v1h-1zM903 192h1v1h-1zM261 193h1v1h-1zM817 193h1v1h-1zM865 193h1v1h-1zM901 193h2v1h-2zM262 194h1v1h-1zM817 194h1v1h-1zM865 194h1v1h-1zM900 194h1v1h-1zM263 195h1v1h-1zM816 195h1v1h-1zM866 195h1v1h-1zM898 195h2v1h-2zM263 196h1v1h-1zM815 196h1v1h-1zM866 196h1v1h-1zM896 196h2v1h-2zM264 197h1v1h-1zM814 197h1v1h-1zM867 197h1v1h-1zM894 197h2v1h-2zM265 198h1v1h-1zM814 198h1v1h-1zM867 198h1v1h-1zM891 198h3v1h-3zM266 199h1v1h-1zM813 199h1v1h-1zM868 199h1v1h-1zM887 199h4v1h-4zM267 200h1v1h-1zM813 200h1v1h-1zM868 200h1v1h-1zM884 200h3v1h-3zM267 201h1v1h-1zM812 201h1v1h-1zM869 201h2v1h-2zM874 201h10v1h-10zM268 202h1v1h-1zM812 202h1v1h-1zM871 202h3v1h-3zM269 203h1v1h-1zM812 203h1v1h-1zM269 204h1v1h-1zM811 204h1v1h-1zM270 205h1v1h-1zM811 205h1v1h-1zM271 206h1v1h-1zM810 206h1v1h-1zM271 207h1v1h-1zM810 207h1v1h-1zM272 208h1v1h-1zM729 208h2v1h-2zM810 208h1v1h-1zM273 209h1v1h-1zM727 209h2v1h-2zM731 209h2v1h-2zM809 209h1v1h-1zM274 210h1v1h-1zM725 210h2v1h-2zM733 210h2v1h-2zM809 210h1v1h-1zM274 211h1v1h-1zM724 211h1v1h-1zM735 211h1v1h-1zM808 211h1v1h-1zM275 212h1v1h-1zM723 212h1v1h-1zM736 212h2v1h-2zM808 212h1v1h-1zM276 213h1v1h-1zM722 213h1v1h-1zM738 213h1v1h-1zM807 213h1v1h-1zM277 214h1v1h-1zM345 214h11v1h-11zM721 214h1v1h-1zM739 214h1v1h-1zM807 214h1v1h-1zM277 215h1v1h-1zM341 215h4v1h-4zM356 215h1v1h-1zM719 215h2v1h-2zM740 215h2v1h-2zM806 215h1v1h-1zM278 216h1v1h-1zM339 216h2v1h-2zM357 216h1v1h-1zM717 216h2v1h-2zM742 216h2v1h-2zM806 216h1v1h-1zM279 217h1v1h-1zM338 217h1v1h-1zM358 217h1v1h-1zM715 217h2v1h-2zM744 217h1v1h-1zM805 217h1v1h-1zM280 218h1v1h-1zM336 218h2v1h-2zM359 218h2v1h-2zM714 218h1v1h-1zM745 218h2v1h-2zM804 218h1v1h-1zM281 219h1v1h-1zM334 219h2v1h-2zM361 219h3v1h-3zM712 219h2v1h-2zM747 219h2v1h-2zM804 219h1v1h-1zM282 220h1v1h-1zM332 220h2v1h-2zM364 220h4v1h-4zM711 220h1v1h-1zM749 220h1v1h-1zM803 220h1v1h-1zM283 221h1v1h-1zM330 221h2v1h-2zM368 221h4v1h-4zM709 221h2v1h-2zM750 221h1v1h-1zM803 221h1v1h-1zM284 222h1v1h-1zM329 222h1v1h-1zM372 222h2v1h-2zM708 222h1v1h-1zM751 222h1v1h-1zM802 222h1v1h-1zM285 223h1v1h-1zM328 223h1v1h-1zM374 223h1v1h-1zM707 223h1v1h-1zM752 223h1v1h-1zM802 223h1v1h-1zM286 224h1v1h-1zM326 224h2v1h-2zM375 224h2v1h-2zM706 224h1v1h-1zM753 224h1v1h-1zM801 224h1v1h-1zM286 225h1v1h-1zM325 225h1v1h-1zM377 225h1v1h-1zM705 225h1v1h-1zM754 225h1v1h-1zM801 225h1v1h-1zM287 226h1v1h-1zM324 226h1v1h-1zM378 226h2v1h-2zM704 226h1v1h-1zM754 226h1v1h-1zM800 226h1v1h-1zM288 227h1v1h-1zM323 227h1v1h-1zM380 227h1v1h-1zM703 227h1v1h-1zM755 227h1v1h-1zM799 227h1v1h-1zM289 228h1v1h-1zM322 228h1v1h-1zM381 228h2v1h-2zM703 228h1v1h-1zM756 228h1v1h-1zM798 228h1v1h-1zM290 229h1v1h-1zM320 229h2v1h-2zM383 229h9v1h-9zM702 229h1v1h-1zM757 229h1v1h-1zM798 229h1v1h-1zM290 230h1v1h-1zM319 230h1v1h-1zM392 230h4v1h-4zM702 230h1v1h-1zM757 230h1v1h-1zM797 230h1v1h-1zM291 231h1v1h-1zM318 231h1v1h-1zM396 231h2v1h-2zM701 231h1v1h-1zM758 231h1v1h-1zM796 231h1v1h-1zM292 232h1v1h-1zM317 232h1v1h-1zM398 232h1v1h-1zM701 232h1v1h-1zM759 232h2v1h-2zM795 232h1v1h-1zM292 233h1v1h-1zM316 233h1v1h-1zM399 233h2v1h-2zM700 233h1v1h-1zM761 233h2v1h-2zM794 233h1v1h-1zM293 234h1v1h-1zM315 234h1v1h-1zM401 234h1v1h-1zM700 234h1v1h-1zM763 234h10v1h-10zM793 234h1v1h-1zM294 235h1v1h-1zM314 235h1v1h-1zM402 235h1v1h-1zM700 235h1v1h-1zM773 235h4v1h-4zM793 235h1v1h-1zM295 236h1v1h-1zM314 236h1v1h-1zM403 236h1v1h-1zM699 236h1v1h-1zM777 236h2v1h-2zM792 236h1v1h-1zM296 237h1v1h-1zM313 237h1v1h-1zM404 237h1v1h-1zM699 237h1v1h-1zM779 237h3v1h-3zM791 237h1v1h-1zM297 238h2v1h-2zM312 238h1v1h-1zM405 238h1v1h-1zM699 238h1v1h-1zM782 238h2v1h-2zM788 238h3v1h-3zM299 239h2v1h-2zM310 239h2v1h-2zM406 239h1v1h-1zM699 239h1v1h-1zM784 239h4v1h-4zM301 240h3v1h-3zM307 240h3v1h-3zM407 240h1v1h-1zM698 240h1v1h-1zM304 241h3v1h-3zM408 241h1v1h-1zM698 241h1v1h-1zM409 242h1v1h-1zM698 242h1v1h-1zM410 243h1v1h-1zM697 243h1v1h-1zM410 244h1v1h-1zM697 244h1v1h-1zM411 245h1v1h-1zM697 245h1v1h-1zM412 246h1v1h-1zM696 246h1v1h-1zM413 247h1v1h-1zM696 247h1v1h-1zM414 248h1v1h-1zM696 248h1v1h-1zM414 249h1v1h-1zM696 249h1v1h-1zM415 250h1v1h-1zM695 250h1v1h-1zM415 251h1v1h-1zM695 251h1v1h-1zM416 252h1v1h-1zM695 252h1v1h-1zM417 253h1v1h-1zM694 253h1v1h-1zM417 254h1v1h-1zM694 254h1v1h-1zM418 255h1v1h-1zM694 255h1v1h-1zM418 256h1v1h-1zM694 256h1v1h-1zM419 257h1v1h-1zM693 257h1v1h-1zM420 258h1v1h-1zM693 258h1v1h-1zM420 259h1v1h-1zM692 259h1v1h-1zM421 260h1v1h-1zM692 260h1v1h-1zM421 261h1v1h-1zM691 261h1v1h-1zM422 262h1v1h-1zM690 262h1v1h-1zM422 263h1v1h-1zM690 263h1v1h-1zM423 264h1v1h-1zM689 264h1v1h-1zM423 265h1v1h-1zM688 265h1v1h-1zM424 266h1v1h-1zM687 266h1v1h-1zM424 267h1v1h-1zM687 267h1v1h-1zM425 268h1v1h-1zM686 268h1v1h-1zM425 269h1v1h-1zM685 269h1v1h-1zM426 270h1v1h-1zM685 270h1v1h-1zM426 271h1v1h-1zM684 271h1v1h-1zM427 272h1v1h-1zM684 272h1v1h-1zM427 273h1v1h-1zM683 273h1v1h-1zM428 274h1v1h-1zM682 274h1v1h-1zM428 275h1v1h-1zM682 275h1v1h-1zM429 276h1v1h-1zM681 276h1v1h-1zM429 277h1v1h-1zM681 277h1v1h-1zM430 278h1v1h-1zM680 278h1v1h-1zM430 279h1v1h-1zM679 279h1v1h-1zM431 280h1v1h-1zM679 280h1v1h-1zM432 281h1v1h-1zM678 281h1v1h-1zM433 282h1v1h-1zM678 282h1v1h-1zM433 283h1v1h-1zM677 283h1v1h-1zM434 284h1v1h-1zM676 284h1v1h-1zM435 285h1v1h-1zM676 285h1v1h-1zM436 286h1v1h-1zM675 286h1v1h-1zM436 287h1v1h-1zM675 287h1v1h-1zM437 288h1v1h-1zM674 288h1v1h-1zM437 289h1v1h-1zM673 289h1v1h-1zM438 290h1v1h-1zM672 290h1v1h-1zM438 291h1v1h-1zM672 291h1v1h-1zM439 292h1v1h-1zM671 292h1v1h-1zM439 293h1v1h-1zM670 293h1v1h-1zM440 294h1v1h-1zM669 294h1v1h-1zM440 295h1v1h-1zM669 295h1v1h-1zM441 296h1v1h-1zM668 296h1v1h-1zM441 297h1v1h-1zM667 297h1v1h-1zM442 298h1v1h-1zM666 298h1v1h-1zM442 299h1v1h-1zM665 299h1v1h-1zM443 300h1v1h-1zM664 300h1v1h-1zM443 301h1v1h-1zM664 301h1v1h-1zM444 302h1v1h-1zM663 302h1v1h-1zM444 303h1v1h-1zM662 303h1v1h-1zM444 304h1v1h-1zM661 304h1v1h-1zM445 305h1v1h-1zM660 305h1v1h-1zM445 306h1v1h-1zM659 306h1v1h-1zM445 307h1v1h-1zM659 307h1v1h-1zM446 308h1v1h-1zM658 308h1v1h-1zM446 309h1v1h-1zM657 309h1v1h-1zM446 310h1v1h-1zM656 310h1v1h-1zM447 311h1v1h-1zM656 311h1v1h-1zM447 312h1v1h-1zM644 312h3v1h-3zM655 312h1v1h-1zM447 313h1v1h-1zM642 313h2v1h-2zM647 313h2v1h-2zM652 313h3v1h-3zM448 314h1v1h-1zM641 314h1v1h-1zM649 314h3v1h-3zM448 315h1v1h-1zM640 315h1v1h-1zM448 316h1v1h-1zM640 316h1v1h-1zM449 317h1v1h-1zM639 317h1v1h-1zM449 318h1v1h-1zM638 318h1v1h-1zM449 319h1v1h-1zM638 319h1v1h-1zM450 320h1v1h-1zM637 320h1v1h-1zM450 321h1v1h-1zM636 321h1v1h-1zM450 322h1v1h-1zM636 322h1v1h-1zM451 323h1v1h-1zM635 323h1v1h-1zM451 324h1v1h-1zM634 324h1v1h-1zM451 325h1v1h-1zM634 325h1v1h-1zM452 326h1v1h-1zM633 326h1v1h-1zM452 327h1v1h-1zM632 327h1v1h-1zM452 328h1v1h-1zM632 328h1v1h-1zM453 329h1v1h-1zM631 329h1v1h-1zM453 330h1v1h-1zM631 330h1v1h-1zM453 331h1v1h-1zM630 331h1v1h-1zM454 332h1v1h-1zM629 332h1v1h-1zM454 333h1v1h-1zM629 333h1v1h-1zM454 334h1v1h-1zM628 334h1v1h-1zM455 335h1v1h-1zM627 335h1v1h-1zM455 336h1v1h-1zM627 336h1v1h-1zM455 337h1v1h-1zM626 337h1v1h-1zM455 338h1v1h-1zM626 338h1v1h-1zM456 339h1v1h-1zM625 339h1v1h-1zM456 340h1v1h-1zM625 340h1v1h-1zM456 341h1v1h-1zM624 341h1v1h-1zM457 342h1v1h-1zM623 342h1v1h-1zM457 343h1v1h-1zM623 343h1v1h-1zM457 344h1v1h-1zM622 344h1v1h-1zM457 345h1v1h-1zM622 345h1v1h-1zM458 346h1v1h-1zM621 346h1v1h-1zM458 347h1v1h-1zM620 347h1v1h-1zM458 348h1v1h-1zM620 348h1v1h-1zM459 349h1v1h-1zM619 349h1v1h-1zM459 350h1v1h-1zM618 350h1v1h-1zM459 351h1v1h-1zM618 351h1v1h-1zM459 352h1v1h-1zM617 352h1v1h-1zM460 353h1v1h-1zM616 353h1v1h-1zM460 354h1v1h-1zM616 354h1v1h-1zM460 355h1v1h-1zM615 355h1v1h-1zM461 356h1v1h-1zM614 356h1v1h-1zM461 357h1v1h-1zM614 357h1v1h-1zM462 358h1v1h-1zM613 358h1v1h-1zM462 359h1v1h-1zM612 359h1v1h-1zM463 360h1v1h-1zM612 360h1v1h-1zM463 361h1v1h-1zM611 361h1v1h-1zM464 362h1v1h-1zM611 362h1v1h-1zM464 363h1v1h-1zM610 363h1v1h-1zM464 364h1v1h-1zM609 364h1v1h-1zM465 365h1v1h-1zM609 365h1v1h-1zM465 366h1v1h-1zM608 366h1v1h-1zM466 367h1v1h-1zM608 367h1v1h-1zM466 368h1v1h-1zM607 368h1v1h-1zM467 369h1v1h-1zM607 369h1v1h-1zM467 370h1v1h-1zM606 370h1v1h-1zM468 371h1v1h-1zM606 371h1v1h-1zM468 372h1v1h-1zM605 372h1v1h-1zM469 373h1v1h-1zM605 373h1v1h-1zM469 374h1v1h-1zM604 374h1v1h-1zM470 375h1v1h-1zM604 375h1v1h-1zM470 376h1v1h-1zM603 376h1v1h-1zM471 377h1v1h-1zM603 377h1v1h-1zM471 378h1v1h-1zM602 378h1v1h-1zM472 379h1v1h-1zM602 379h1v1h-1zM472 380h1v1h-1zM601 380h1v1h-1zM473 381h1v1h-1zM601 381h1v1h-1zM473 382h1v1h-1zM600 382h1v1h-1zM474 383h1v1h-1zM600 383h1v1h-1zM474 384h1v1h-1zM599 384h1v1h-1zM475 385h1v1h-1zM599 385h1v1h-1zM475 386h1v1h-1zM598 386h1v1h-1zM476 387h1v1h-1zM598 387h1v1h-1zM476 388h1v1h-1zM598 388h1v1h-1zM477 389h1v1h-1zM597 389h1v1h-1zM478 390h1v1h-1zM597 390h1v1h-1zM478 391h1v1h-1zM596 391h1v1h-1zM479 392h1v1h-1zM596 392h1v1h-1zM480 393h1v1h-1zM595 393h1v1h-1zM480 394h1v1h-1zM595 394h1v1h-1zM481 395h1v1h-1zM594 395h1v1h-1zM481 396h1v1h-1zM594 396h1v1h-1zM482 397h1v1h-1zM594 397h1v1h-1zM483 398h1v1h-1zM593 398h1v1h-1zM483 399h1v1h-1zM593 399h1v1h-1zM484 400h1v1h-1zM593 400h1v1h-1zM484 401h1v1h-1zM592 401h1v1h-1zM485 402h1v1h-1zM592 402h1v1h-1zM485 403h1v1h-1zM592 403h1v1h-1zM486 404h1v1h-1zM592 404h1v1h-1zM487 405h1v1h-1zM591 405h1v1h-1zM487 406h1v1h-1zM591 406h1v1h-1zM488 407h1v1h-1zM591 407h1v1h-1zM488 408h1v1h-1zM590 408h1v1h-1zM489 409h1v1h-1zM590 409h1v1h-1zM489 410h1v1h-1zM590 410h1v1h-1zM490 411h1v1h-1zM589 411h1v1h-1zM491 412h1v1h-1zM589 412h1v1h-1zM491 413h1v1h-1zM589 413h1v1h-1zM492 414h1v1h-1zM588 414h1v1h-1zM492 415h1v1h-1zM588 415h1v1h-1zM493 416h1v1h-1zM588 416h1v1h-1zM493 417h1v1h-1zM587 417h1v1h-1zM494 418h1v1h-1zM587 418h1v1h-1zM494 419h1v1h-1zM586 419h1v1h-1zM495 420h1v1h-1zM586 420h1v1h-1zM495 421h1v1h-1zM586 421h1v1h-1zM496 422h1v1h-1zM585 422h1v1h-1zM496 423h1v1h-1zM585 423h1v1h-1zM497 424h1v1h-1zM584 424h1v1h-1zM498 425h2v1h-2zM583 425h1v1h-1zM500 426h1v1h-1zM583 426h1v1h-1zM501 427h1v1h-1zM582 427h1v1h-1zM502 428h2v1h-2zM581 428h1v1h-1zM504 429h1v1h-1zM580 429h1v1h-1zM505 430h2v1h-2zM578 430h2v1h-2zM507 431h2v1h-2zM577 431h1v1h-1zM509 432h2v1h-2zM576 432h1v1h-1zM511 433h6v1h-6zM574 433h2v1h-2zM517 434h7v1h-7zM572 434h2v1h-2zM524 435h2v1h-2zM570 435h2v1h-2zM526 436h2v1h-2zM568 436h2v1h-2zM528 437h2v1h-2zM566 437h2v1h-2zM530 438h2v1h-2zM554 438h12v1h-12zM532 439h2v1h-2zM550 439h4v1h-4zM534 440h2v1h-2zM547 440h3v1h-3zM536 441h11v1h-11z" fill="#FF0000" shape-rendering="crispEdges"/>
<g shape-rendering="crispEdges">
<rect x="5" y="79" width="1162" height="2" fill="#FF0000"/>
<rect x="5" y="169" width="1162" height="2" fill="#00FF00"/>
<rect x="5" y="246" width="1162" height="2" fill="#0000FF"/>
<rect x="5" y="337" width="1162" height="2" fill="#0000FF"/>
<rect x="5" y="445" width="1162" height="2" fill="#0000FF"/>
<rect x="5" y="78" width="1" height="29" fill="#FF0000"/>
<rect x="9" y="99" width="1" height="23" fill="#32CD32"/>
<rect x="8" y="99" width="3" height="13" fill="#32CD32"/>
<rect x="13" y="99" width="1" height="35" fill="#32CD32"/>
<rect x="12" y="111" width="3" height="21" fill="#32CD32"/>
<rect x="17" y="125" width="1" height="27" fill="#32CD32"/>
<rect x="16" y="131" width="3" height="11" fill="#32CD32"/>
<rect x="21" y="126" width="1" height="26" fill="#32CD32"/>
<rect x="20" y="141" width="3" height="11" fill="#32CD32"/>
<rect x="25" y="137" width="1" height="37" fill="#FF0000"/>
<rect x="24" y="140" width="3" height="5" fill="#FF0000"/>
<rect x="25" y="141" width="1" height="3" fill="#FF4500"/>
<rect x="29" y="113" width="1" height="33" fill="#FF0000"/>
<rect x="28" y="140" width="3" height="2" fill="#FF0000"/>
<rect x="33" y="138" width="1" height="52" fill="#32CD32"/>
<rect x="32" y="140" width="3" height="20" fill="#32CD32"/>
<rect x="37" y="142" width="1" height="34" fill="#FF0000"/>
<rect x="36" y="147" width="3" height="13" fill="#FF0000"/>
<rect x="37" y="148" width="1" height="11" fill="#FF4500"/>
<rect x="41" y="143" width="1" height="34" fill="#32CD32"/>
<rect x="40" y="148" width="3" height="15" fill="#32CD32"/>
<rect x="45" y="138" width="1" height="26" fill="#FF0000"/>
<rect x="44" y="152" width="3" height="11" fill="#FF0000"/>
<rect x="45" y="153" width="1" height="9" fill="#FF4500"/>
<rect x="49" y="101" width="1" height="64" fill="#FF0000"/>
<rect x="48" y="111" width="3" height="51" fill="#FF0000"/>
<rect x="49" y="112" width="1" height="49" fill="#FF4500"/>
<rect x="53" y="111" width="1" height="33" fill="#32CD32"/>
<rect x="52" y="111" width="3" height="17" fill="#32CD32"/>
<rect x="57" y="127" width="1" height="30" fill="#32CD32"/>
<rect x="56" y="127" width="3" height="23" fill="#32CD32"/>
<rect x="61" y="144" width="1" height="39" fill="#32CD32"/>
<rect x="60" y="148" width="3" height="32" fill="#32CD32"/>
<rect x="65" y="128" width="1" height="64" fill="#FF0000"/>
<rect x="64" y="132" width="3" height="48" fill="#FF0000"/>
<rect x="65" y="133" width="1" height="46" fill="#FF4500"/>
<rect x="69" y="126" width="1" height="31" fill="#32CD32"/>
<rect x="68" y="132" width="3" height="14" fill="#32CD32"/>
<rect x="73" y="112" width="1" height="36" fill="#FF0000"/>
<rect x="72" y="129" width="3" height="17" fill="#FF0000"/>
<rect x="73" y="130" width="1" height="15" fill="#FF4500"/>
<rect x="77" y="127" width="1" height="22" fill="#32CD32"/>
<rect x="76" y="129" width="3" height="12" fill="#32CD32"/>
<rect x="81" y="139" width="1" height="62" fill="#32CD32"/>
<rect x="80" y="141" width="3" height="51" fill="#32CD32"/>
<rect x="85" y="179" width="1" height="30" fill="#32CD32"/>
<rect x="84" y="191" width="3" height="3" fill="#32CD32"/>
<rect x="89" y="148" width="1" height="47" fill="#FF0000"/>
<rect x="88" y="149" width="3" height="45" fill="#FF0000"/>
<rect x="89" y="150" width="1" height="43" fill="#FF4500"/>
<rect x="93" y="139" width="1" height="18" fill="#FF0000"/>
<rect x="92" y="145" width="3" height="5" fill="#FF0000"/>
<rect x="93" y="146" width="1" height="3" fill="#FF4500"/>
<rect x="97" y="134" width="1" height="30" fill="#FF0000"/>
<rect x="96" y="135" width="3" height="13" fill="#FF0000"/>
<rect x="97" y="136" width="1" height="11" fill="#FF4500"/>
<rect x="101" y="120" width="1" height="40" fill="#32CD32"/>
<rect x="100" y="135" width="3" height="21" fill="#32CD32"/>
<rect x="105" y="99" width="1" height="66" fill="#FF0000"/>
<rect x="104" y="124" width="3" height="32" fill="#FF0000"/>
<rect x="105" y="125" width="1" height="30" fill="#FF4500"/>
<rect x="109" y="99" width="1" height="37" fill="#FF0000"/>
<rect x="108" y="109" width="3" height="16" fill="#FF0000"/>
<rect x="109" y="110" width="1" height="14" fill="#FF4500"/>
<rect x="113" y="99" width="1" height="41" fill="#32CD32"/>
<rect x="112" y="109" width="3" height="17" fill="#32CD32"/>
<rect x="117" y="99" width="1" height="30" fill="#FF0000"/>
<rect x="116" y="111" width="3" height="15" fill="#FF0000"/>
<rect x="117" y="112" width="1" height="13" fill="#FF4500"/>
<rect x="121" y="99" width="1" height="32" fill="#FF0000"/>
<rect x="120" y="99" width="3" height="18" fill="#FF0000"/>
<rect x="121" y="100" width="1" height="16" fill="#FF4500"/>
<rect x="125" y="99" width="1" height="23" fill="#FF0000"/>
<rect x="124" y="99" width="3" height="6" fill="#FF0000"/>
<rect x="125" y="100" width="1" height="4" fill="#FF4500"/>
<rect x="129" y="99" width="1" height="30" fill="#32CD32"/>
<rect x="128" y="99" width="3" height="18" fill="#32CD32"/>
<rect x="133" y="99" width="1" height="30" fill="#FF0000"/>
<rect x="132" y="99" width="3" height="18" fill="#FF0000"/>
<rect x="133" y="100" width="1" height="16" fill="#FF4500"/>
<rect x="137" y="99" width="1" height="27" fill="#32CD32"/>
<rect x="136" y="99" width="3" height="26" fill="#32CD32"/>
<rect x="141" y="119" width="1" height="9" fill="#32CD32"/>
<rect x="140" y="123" width="3" height="4" fill="#32CD32"/>
<rect x="145" y="120" width="1" height="18" fill="#32CD32"/>
<rect x="144" y="132" width="3" height="3" fill="#32CD32"/>
<rect x="149" y="126" width="1" height="27" fill="#32CD32"/>
<rect x="148" y="133" width="3" height="15" fill="#32CD32"/>
<rect x="153" y="141" width="1" height="31" fill="#32CD32"/>
<rect x="152" y="148" width="3" height="18" fill="#32CD32"/>
<rect x="157" y="152" width="1" height="24" fill="#FF0000"/>
<rect x="156" y="164" width="3" height="2" fill="#FF0000"/>
<rect x="161" y="129" width="1" height="37" fill="#FF0000"/>
<rect x="160" y="155" width="3" height="10" fill="#FF0000"/>
<rect x="161" y="156" width="1" height="8" fill="#FF4500"/>
<rect x="165" y="152" width="1" height="17" fill="#32CD32"/>
<rect x="164" y="155" width="3" height="1" fill="#32CD32"/>
<rect x="169" y="161" width="1" height="24" fill="#32CD32"/>
<rect x="168" y="165" width="3" height="19" fill="#32CD32"/>
<rect x="173" y="158" width="1" height="41" fill="#FF0000"/>
<rect x="172" y="166" width="3" height="18" fill="#FF0000"/>
<rect x="173" y="167" width="1" height="16" fill="#FF4500"/>
<rect x="177" y="136" width="1" height="34" fill="#FF0000"/>
<rect x="176" y="146" width="3" height="21" fill="#FF0000"/>
<rect x="177" y="147" width="1" height="19" fill="#FF4500"/>
<rect x="181" y="139" width="1" height="34" fill="#32CD32"/>
<rect x="180" y="144" width="3" height="5" fill="#32CD32"/>
<rect x="185" y="146" width="1" height="55" fill="#32CD32"/>
<rect x="184" y="148" width="3" height="52" fill="#32CD32"/>
<rect x="189" y="190" width="1" height="16" fill="#FF0000"/>
<rect x="188" y="193" width="3" height="6" fill="#FF0000"/>
<rect x="189" y="194" width="1" height="4" fill="#FF4500"/>
<rect x="193" y="178" width="1" height="33" fill="#FF0000"/>
<rect x="192" y="195" width="3" height="3" fill="#FF0000"/>
<rect x="193" y="196" width="1" height="1" fill="#FF4500"/>
<rect x="197" y="180" width="1" height="29" fill="#32CD32"/>
<rect x="196" y="195" width="3" height="9" fill="#32CD32"/>
<rect x="201" y="196" width="1" height="29" fill="#32CD32"/>
<rect x="200" y="203" width="3" height="16" fill="#32CD32"/>
<rect x="205" y="218" width="1" height="44" fill="#32CD32"/>
<rect x="204" y="218" width="3" height="24" fill="#32CD32"/>
<rect x="209" y="164" width="1" height="79" fill="#FF0000"/>
<rect x="208" y="176" width="3" height="66" fill="#FF0000"/>
<rect x="209" y="177" width="1" height="64" fill="#FF4500"/>
<rect x="213" y="144" width="1" height="34" fill="#FF0000"/>
<rect x="212" y="154" width="3" height="22" fill="#FF0000"/>
<rect x="213" y="155" width="1" height="20" fill="#FF4500"/>
<rect x="217" y="141" width="1" height="39" fill="#32CD32"/>
<rect x="216" y="142" width="3" height="35" fill="#32CD32"/>
<rect x="221" y="157" width="1" height="37" fill="#32CD32"/>
<rect x="220" y="176" width="3" height="17" fill="#32CD32"/>
<rect x="225" y="176" width="1" height="31" fill="#FF0000"/>
<rect x="224" y="190" width="3" height="3" fill="#FF0000"/>
<rect x="225" y="191" width="1" height="1" fill="#FF4500"/>
<rect x="229" y="170" width="1" height="32" fill="#32CD32"/>
<rect x="228" y="189" width="3" height="11" fill="#32CD32"/>
<rect x="233" y="141" width="1" height="73" fill="#FF0000"/>
<rect x="232" y="164" width="3" height="36" fill="#FF0000"/>
<rect x="233" y="165" width="1" height="34" fill="#FF4500"/>
<rect x="237" y="160" width="1" height="22" fill="#32CD32"/>
<rect x="236" y="164" width="3" height="9" fill="#32CD32"/>
<rect x="241" y="157" width="1" height="35" fill="#FF0000"/>
<rect x="240" y="174" width="3" height="8" fill="#FF0000"/>
<rect x="241" y="175" width="1" height="6" fill="#FF4500"/>
<rect x="245" y="165" width="1" height="42" fill="#32CD32"/>
<rect x="244" y="174" width="3" height="10" fill="#32CD32"/>
<rect x="249" y="165" width="1" height="33" fill="#32CD32"/>
<rect x="248" y="183" width="3" height="1" fill="#32CD32"/>
<rect x="253" y="174" width="1" height="45" fill="#32CD32"/>
<rect x="252" y="184" width="3" height="34" fill="#32CD32"/>
<rect x="257" y="212" width="1" height="40" fill="#32CD32"/>
<rect x="256" y="217" width="3" height="33" fill="#32CD32"/>
<rect x="261" y="246" width="1" height="19" fill="#32CD32"/>
<rect x="260" y="248" width="3" height="15" fill="#32CD32"/>
<rect x="265" y="242" width="1" height="32" fill="#FF0000"/>
<rect x="264" y="252" width="3" height="7" fill="#FF0000"/>
<rect x="265" y="253" width="1" height="5" fill="#FF4500"/>
<rect x="269" y="248" width="1" height="24" fill="#32CD32"/>
<rect x="268" y="252" width="3" height="18" fill="#32CD32"/>
<rect x="273" y="252" width="1" height="25" fill="#FF0000"/>
<rect x="272" y="259" width="3" height="12" fill="#FF0000"/>
<rect x="273" y="260" width="1" height="10" fill="#FF4500"/>
<rect x="277" y="251" width="1" height="59" fill="#32CD32"/>
<rect x="276" y="258" width="3" height="19" fill="#32CD32"/>
<rect x="281" y="226" width="1" height="58" fill="#FF0000"/>
<rect x="280" y="243" width="3" height="35" fill="#FF0000"/>
<rect x="281" y="244" width="1" height="33" fill="#FF4500"/>
<rect x="285" y="242" width="1" height="14" fill="#32CD32"/>
<rect x="284" y="243" width="3" height="8" fill="#32CD32"/>
<rect x="289" y="229" width="1" height="31" fill="#FF0000"/>
<rect x="288" y="235" width="3" height="2" fill="#FF0000"/>
<rect x="293" y="205" width="1" height="40" fill="#FF0000"/>
<rect x="292" y="226" width="3" height="9" fill="#FF0000"/>
<rect x="293" y="227" width="1" height="7" fill="#FF4500"/>
<rect x="297" y="200" width="1" height="38" fill="#FF0000"/>
<rect x="296" y="224" width="3" height="2" fill="#FF0000"/>
<rect x="301" y="190" width="1" height="38" fill="#FF0000"/>
<rect x="300" y="196" width="3" height="28" fill="#FF0000"/>
<rect x="301" y="197" width="1" height="26" fill="#FF4500"/>
<rect x="305" y="191" width="1" height="30" fill="#32CD32"/>
<rect x="304" y="196" width="3" height="18" fill="#32CD32"/>
<rect x="309" y="200" width="1" height="15" fill="#FF0000"/>
<rect x="308" y="205" width="3" height="9" fill="#FF0000"/>
<rect x="309" y="206" width="1" height="7" fill="#FF4500"/>
<rect x="313" y="190" width="1" height="22" fill="#FF0000"/>
<rect x="312" y="206" width="3" height="5" fill="#FF0000"/>
<rect x="313" y="207" width="1" height="3" fill="#FF4500"/>
<rect x="317" y="181" width="1" height="30" fill="#FF0000"/>
<rect x="316" y="191" width="3" height="16" fill="#FF0000"/>
<rect x="317" y="192" width="1" height="14" fill="#FF4500"/>
<rect x="321" y="183" width="1" height="47" fill="#32CD32"/>
<rect x="320" y="190" width="3" height="26" fill="#32CD32"/>
<rect x="325" y="202" width="1" height="21" fill="#32CD32"/>
<rect x="324" y="215" width="3" height="2" fill="#32CD32"/>
<rect x="329" y="215" width="1" height="14" fill="#32CD32"/>
<rect x="328" y="216" width="3" height="12" fill="#32CD32"/>
<rect x="333" y="215" width="1" height="8" fill="#FF0000"/>
<rect x="332" y="216" width="3" height="5" fill="#FF0000"/>
<rect x="333" y="217" width="1" height="3" fill="#FF4500"/>
<rect x="337" y="205" width="1" height="43" fill="#32CD32"/>
<rect x="336" y="216" width="3" height="27" fill="#32CD32"/>
<rect x="341" y="228" width="1" height="16" fill="#FF0000"/>
<rect x="340" y="229" width="3" height="14" fill="#FF0000"/>
<rect x="341" y="230" width="1" height="12" fill="#FF4500"/>
<rect x="345" y="187" width="1" height="45" fill="#FF0000"/>
<rect x="344" y="196" width="3" height="34" fill="#FF0000"/>
<rect x="345" y="197" width="1" height="32" fill="#FF4500"/>
<rect x="349" y="188" width="1" height="27" fill="#32CD32"/>
<rect x="348" y="192" width="3" height="22" fill="#32CD32"/>
<rect x="353" y="198" width="1" height="32" fill="#32CD32"/>
<rect x="352" y="214" width="3" height="15" fill="#32CD32"/>
<rect x="357" y="228" width="1" height="9" fill="#32CD32"/>
<rect x="356" y="229" width="3" height="6" fill="#32CD32"/>
<rect x="361" y="215" width="1" height="21" fill="#FF0000"/>
<rect x="360" y="221" width="3" height="13" fill="#FF0000"/>
<rect x="361" y="222" width="1" height="11" fill="#FF4500"/>
<rect x="365" y="190" width="1" height="40" fill="#32CD32"/>
<rect x="364" y="221" width="3" height="8" fill="#32CD32"/>
<rect x="369" y="212" width="1" height="30" fill="#32CD32"/>
<rect x="368" y="229" width="3" height="12" fill="#32CD32"/>
<rect x="373" y="221" width="1" height="38" fill="#FF0000"/>
<rect x="372" y="230" width="3" height="13" fill="#FF0000"/>
<rect x="373" y="231" width="1" height="11" fill="#FF4500"/>
<rect x="377" y="221" width="1" height="30" fill="#32CD32"/>
<rect x="376" y="230" width="3" height="19" fill="#32CD32"/>
<rect x="381" y="244" width="1" height="7" fill="#FF0000"/>
<rect x="380" y="246" width="3" height="3" fill="#FF0000"/>
<rect x="381" y="247" width="1" height="1" fill="#FF4500"/>
<rect x="385" y="230" width="1" height="31" fill="#FF0000"/>
<rect x="384" y="232" width="3" height="10" fill="#FF0000"/>
<rect x="385" y="233" width="1" height="8" fill="#FF4500"/>
<rect x="389" y="208" width="1" height="48" fill="#FF0000"/>
<rect x="388" y="215" width="3" height="18" fill="#FF0000"/>
<rect x="389" y="216" width="1" height="16" fill="#FF4500"/>
<rect x="393" y="178" width="1" height="89" fill="#32CD32"/>
<rect x="392" y="214" width="3" height="42" fill="#32CD32"/>
<rect x="397" y="243" width="1" height="17" fill="#FF0000"/>
<rect x="396" y="252" width="3" height="4" fill="#FF0000"/>
<rect x="397" y="253" width="1" height="2" fill="#FF4500"/>
<rect x="401" y="243" width="1" height="18" fill="#FF0000"/>
<rect x="400" y="250" width="3" height="3" fill="#FF0000"/>
<rect x="401" y="251" width="1" height="1" fill="#FF4500"/>
<rect x="405" y="244" width="1" height="17" fill="#32CD32"/>
<rect x="404" y="250" width="3" height="9" fill="#32CD32"/>
<rect x="409" y="252" width="1" height="49" fill="#32CD32"/>
<rect x="408" y="255" width="3" height="39" fill="#32CD32"/>
<rect x="413" y="284" width="1" height="14" fill="#32CD32"/>
<rect x="412" y="293" width="3" height="2" fill="#32CD32"/>
<rect x="417" y="285" width="1" height="31" fill="#32CD32"/>
<rect x="416" y="294" width="3" height="20" fill="#32CD32"/>
<rect x="421" y="311" width="1" height="36" fill="#32CD32"/>
<rect x="420" y="312" width="3" height="29" fill="#32CD32"/>
<rect x="425" y="328" width="1" height="26" fill="#32CD32"/>
<rect x="424" y="340" width="3" height="3" fill="#32CD32"/>
<rect x="429" y="340" width="1" height="10" fill="#32CD32"/>
<rect x="428" y="342" width="3" height="5" fill="#32CD32"/>
<rect x="433" y="330" width="1" height="23" fill="#32CD32"/>
<rect x="432" y="345" width="3" height="4" fill="#32CD32"/>
<rect x="437" y="315" width="1" height="38" fill="#FF0000"/>
<rect x="436" y="329" width="3" height="20" fill="#FF0000"/>
<rect x="437" y="330" width="1" height="18" fill="#FF4500"/>
<rect x="441" y="328" width="1" height="32" fill="#32CD32"/>
<rect x="440" y="329" width="3" height="27" fill="#32CD32"/>
<rect x="445" y="344" width="1" height="49" fill="#32CD32"/>
<rect x="444" y="355" width="3" height="32" fill="#32CD32"/>
<rect x="449" y="385" width="1" height="33" fill="#32CD32"/>
<rect x="448" y="386" width="3" height="26" fill="#32CD32"/>
<rect x="453" y="402" width="1" height="11" fill="#FF0000"/>
<rect x="452" y="410" width="3" height="3" fill="#FF0000"/>
<rect x="453" y="411" width="1" height="1" fill="#FF4500"/>
<rect x="457" y="415" width="1" height="22" fill="#32CD32"/>
<rect x="456" y="416" width="3" height="20" fill="#32CD32"/>
<rect x="461" y="417" width="1" height="22" fill="#FF0000"/>
<rect x="460" y="432" width="3" height="3" fill="#FF0000"/>
<rect x="461" y="433" width="1" height="1" fill="#FF4500"/>
<rect x="465" y="414" width="1" height="40" fill="#FF0000"/>
<rect x="464" y="427" width="3" height="5" fill="#FF0000"/>
<rect x="465" y="428" width="1" height="3" fill="#FF4500"/>
<rect x="469" y="403" width="1" height="27" fill="#FF0000"/>
<rect x="468" y="407" width="3" height="21" fill="#FF0000"/>
<rect x="469" y="408" width="1" height="19" fill="#FF4500"/>
<rect x="473" y="382" width="1" height="56" fill="#32CD32"/>
<rect x="472" y="408" width="3" height="15" fill="#32CD32"/>
<rect x="477" y="417" width="1" height="9" fill="#32CD32"/>
<rect x="476" y="422" width="3" height="2" fill="#32CD32"/>
<rect x="481" y="412" width="1" height="31" fill="#32CD32"/>
<rect x="480" y="420" width="3" height="21" fill="#32CD32"/>
<rect x="485" y="437" width="1" height="31" fill="#32CD32"/>
<rect x="484" y="440" width="3" height="7" fill="#32CD32"/>
<rect x="489" y="418" width="1" height="34" fill="#FF0000"/>
<rect x="488" y="433" width="3" height="14" fill="#FF0000"/>
<rect x="489" y="434" width="1" height="12" fill="#FF4500"/>
<rect x="493" y="408" width="1" height="44" fill="#32CD32"/>
<rect x="492" y="433" width="3" height="19" fill="#32CD32"/>
<rect x="497" y="431" width="1" height="31" fill="#FF0000"/>
<rect x="496" y="441" width="3" height="11" fill="#FF0000"/>
<rect x="497" y="442" width="1" height="9" fill="#FF4500"/>
<rect x="501" y="431" width="1" height="15" fill="#32CD32"/>
<rect x="500" y="441" width="3" height="5" fill="#32CD32"/>
<rect x="505" y="435" width="1" height="17" fill="#FF0000"/>
<rect x="504" y="436" width="3" height="4" fill="#FF0000"/>
<rect x="505" y="437" width="1" height="2" fill="#FF4500"/>
<rect x="509" y="436" width="1" height="26" fill="#32CD32"/>
<rect x="508" y="436" width="3" height="7" fill="#32CD32"/>
<rect x="513" y="418" width="1" height="36" fill="#FF0000"/>
<rect x="512" y="423" width="3" height="20" fill="#FF0000"/>
<rect x="513" y="424" width="1" height="18" fill="#FF4500"/>
<rect x="517" y="410" width="1" height="39" fill="#32CD32"/>
<rect x="516" y="423" width="3" height="18" fill="#32CD32"/>
<rect x="521" y="419" width="1" height="28" fill="#FF0000"/>
<rect x="520" y="434" width="3" height="6" fill="#FF0000"/>
<rect x="521" y="435" width="1" height="4" fill="#FF4500"/>
<rect x="525" y="432" width="1" height="10" fill="#32CD32"/>
<rect x="524" y="434" width="3" height="5" fill="#32CD32"/>
<rect x="529" y="432" width="1" height="15" fill="#32CD32"/>
<rect x="528" y="439" width="3" height="4" fill="#32CD32"/>
<rect x="533" y="441" width="1" height="31" fill="#32CD32"/>
<rect x="532" y="442" width="3" height="18" fill="#32CD32"/>
<rect x="537" y="432" width="1" height="28" fill="#FF0000"/>
<rect x="536" y="452" width="3" height="8" fill="#FF0000"/>
<rect x="537" y="453" width="1" height="6" fill="#FF4500"/>
<rect x="541" y="420" width="1" height="42" fill="#FF0000"/>
<rect x="540" y="421" width="3" height="32" fill="#FF0000"/>
<rect x="541" y="422" width="1" height="30" fill="#FF4500"/>
<rect x="545" y="414" width="1" height="28" fill="#32CD32"/>
<rect x="544" y="421" width="3" height="14" fill="#32CD32"/>
<rect x="549" y="433" width="1" height="9" fill="#32CD32"/>
<rect x="548" y="434" width="3" height="7" fill="#32CD32"/>
<rect x="553" y="426" width="1" height="21" fill="#32CD32"/>
<rect x="552" y="438" width="3" height="8" fill="#32CD32"/>
<rect x="557" y="427" width="1" height="22" fill="#FF0000"/>
<rect x="556" y="428" width="3" height="18" fill="#FF0000"/>
<rect x="557" y="429" width="1" height="16" fill="#FF4500"/>
<rect x="561" y="421" width="1" height="28" fill="#FF0000"/>
<rect x="560" y="428" width="3" height="1" fill="#FF0000"/>
<rect x="565" y="418" width="1" height="24" fill="#32CD32"/>
<rect x="564" y="427" width="3" height="4" fill="#32CD32"/>
<rect x="569" y="399" width="1" height="37" fill="#FF0000"/>
<rect x="568" y="401" width="3" height="32" fill="#FF0000"/>
<rect x="569" y="402" width="1" height="30" fill="#FF4500"/>
<rect x="573" y="393" width="1" height="10" fill="#FF0000"/>
<rect x="572" y="398" width="3" height="4" fill="#FF0000"/>
<rect x="573" y="399" width="1" height="2" fill="#FF4500"/>
<rect x="577" y="396" width="1" height="21" fill="#32CD32"/>
<rect x="576" y="402" width="3" height="14" fill="#32CD32"/>
<rect x="581" y="381" width="1" height="35" fill="#FF0000"/>
<rect x="580" y="382" width="3" height="34" fill="#FF0000"/>
<rect x="581" y="383" width="1" height="32" fill="#FF4500"/>
<rect x="585" y="381" width="1" height="19" fill="#32CD32"/>
<rect x="584" y="382" width="3" height="18" fill="#32CD32"/>
<rect x="589" y="313" width="1" height="91" fill="#FF0000"/>
<rect x="588" y="314" width="3" height="86" fill="#FF0000"/>
<rect x="589" y="315" width="1" height="84" fill="#FF4500"/>
<rect x="593" y="257" width="1" height="64" fill="#FF0000"/>
<rect x="592" y="276" width="3" height="39" fill="#FF0000"/>
<rect x="593" y="277" width="1" height="37" fill="#FF4500"/>
<rect x="597" y="274" width="1" height="11" fill="#32CD32"/>
<rect x="596" y="276" width="3" height="6" fill="#32CD32"/>
<rect x="601" y="254" width="1" height="54" fill="#32CD32"/>
<rect x="600" y="272" width="3" height="34" fill="#32CD32"/>
<rect x="605" y="291" width="1" height="24" fill="#32CD32"/>
<rect x="604" y="306" width="3" height="3" fill="#32CD32"/>
<rect x="609" y="308" width="1" height="52" fill="#32CD32"/>
<rect x="608" y="309" width="3" height="36" fill="#32CD32"/>
<rect x="613" y="320" width="1" height="27" fill="#FF0000"/>
<rect x="612" y="321" width="3" height="24" fill="#FF0000"/>
<rect x="613" y="322" width="1" height="22" fill="#FF4500"/>
<rect x="617" y="319" width="1" height="33" fill="#32CD32"/>
<rect x="616" y="321" width="3" height="19" fill="#32CD32"/>
<rect x="621" y="333" width="1" height="9" fill="#FF0000"/>
<rect x="620" y="335" width="3" height="6" fill="#FF0000"/>
<rect x="621" y="336" width="1" height="4" fill="#FF4500"/>
<rect x="625" y="317" width="1" height="28" fill="#FF0000"/>
<rect x="624" y="327" width="3" height="13" fill="#FF0000"/>
<rect x="625" y="328" width="1" height="11" fill="#FF4500"/>
<rect x="629" y="294" width="1" height="34" fill="#FF0000"/>
<rect x="628" y="303" width="3" height="24" fill="#FF0000"/>
<rect x="629" y="304" width="1" height="22" fill="#FF4500"/>
<rect x="633" y="282" width="1" height="33" fill="#FF0000"/>
<rect x="632" y="291" width="3" height="13" fill="#FF0000"/>
<rect x="633" y="292" width="1" height="11" fill="#FF4500"/>
<rect x="637" y="280" width="1" height="29" fill="#FF0000"/>
<rect x="636" y="290" width="3" height="2" fill="#FF0000"/>
<rect x="641" y="270" width="1" height="50" fill="#32CD32"/>
<rect x="640" y="290" width="3" height="28" fill="#32CD32"/>
<rect x="645" y="314" width="1" height="21" fill="#32CD32"/>
<rect x="644" y="316" width="3" height="14" fill="#32CD32"/>
<rect x="649" y="306" width="1" height="22" fill="#FF0000"/>
<rect x="648" y="324" width="3" height="2" fill="#FF0000"/>
<rect x="653" y="250" width="1" height="88" fill="#FF0000"/>
<rect x="652" y="263" width="3" height="61" fill="#FF0000"/>
<rect x="653" y="264" width="1" height="59" fill="#FF4500"/>
<rect x="657" y="239" width="1" height="44" fill="#FF0000"/>
<rect x="656" y="244" width="3" height="21" fill="#FF0000"/>
<rect x="657" y="245" width="1" height="19" fill="#FF4500"/>
<rect x="661" y="207" width="1" height="65" fill="#FF0000"/>
<rect x="660" y="232" width="3" height="13" fill="#FF0000"/>
<rect x="661" y="233" width="1" height="11" fill="#FF4500"/>
<rect x="665" y="222" width="1" height="42" fill="#32CD32"/>
<rect x="664" y="232" width="3" height="26" fill="#32CD32"/>
<rect x="669" y="255" width="1" height="15" fill="#32CD32"/>
<rect x="668" y="258" width="3" height="11" fill="#32CD32"/>
<rect x="673" y="240" width="1" height="32" fill="#FF0000"/>
<rect x="672" y="268" width="3" height="2" fill="#FF0000"/>
<rect x="677" y="230" width="1" height="44" fill="#FF0000"/>
<rect x="676" y="243" width="3" height="26" fill="#FF0000"/>
<rect x="677" y="244" width="1" height="24" fill="#FF4500"/>
<rect x="681" y="236" width="1" height="47" fill="#FF0000"/>
<rect x="680" y="237" width="3" height="6" fill="#FF0000"/>
<rect x="681" y="238" width="1" height="4" fill="#FF4500"/>
<rect x="685" y="209" width="1" height="42" fill="#FF0000"/>
<rect x="684" y="211" width="3" height="27" fill="#FF0000"/>
<rect x="685" y="212" width="1" height="25" fill="#FF4500"/>
<rect x="689" y="196" width="1" height="24" fill="#FF0000"/>
<rect x="688" y="208" width="3" height="4" fill="#FF0000"/>
<rect x="689" y="209" width="1" height="2" fill="#FF4500"/>
<rect x="693" y="197" width="1" height="16" fill="#FF0000"/>
<rect x="692" y="200" width="3" height="9" fill="#FF0000"/>
<rect x="693" y="201" width="1" height="7" fill="#FF4500"/>
<rect x="697" y="109" width="1" height="88" fill="#FF0000"/>
<rect x="696" y="133" width="3" height="61" fill="#FF0000"/>
<rect x="697" y="134" width="1" height="59" fill="#FF4500"/>
<rect x="701" y="118" width="1" height="30" fill="#32CD32"/>
<rect x="700" y="134" width="3" height="13" fill="#32CD32"/>
<rect x="705" y="143" width="1" height="93" fill="#32CD32"/>
<rect x="704" y="146" width="3" height="84" fill="#32CD32"/>
<rect x="709" y="205" width="1" height="30" fill="#FF0000"/>
<rect x="708" y="212" width="3" height="18" fill="#FF0000"/>
<rect x="709" y="213" width="1" height="16" fill="#FF4500"/>
<rect x="713" y="199" width="1" height="25" fill="#FF0000"/>
<rect x="712" y="210" width="3" height="3" fill="#FF0000"/>
<rect x="713" y="211" width="1" height="1" fill="#FF4500"/>
<rect x="717" y="209" width="1" height="7" fill="#32CD32"/>
<rect x="716" y="210" width="3" height="5" fill="#32CD32"/>
<rect x="721" y="208" width="1" height="28" fill="#32CD32"/>
<rect x="720" y="216" width="3" height="14" fill="#32CD32"/>
<rect x="725" y="206" width="1" height="26" fill="#FF0000"/>
<rect x="724" y="209" width="3" height="21" fill="#FF0000"/>
<rect x="725" y="210" width="1" height="19" fill="#FF4500"/>
<rect x="729" y="200" width="1" height="26" fill="#32CD32"/>
<rect x="728" y="209" width="3" height="11" fill="#32CD32"/>
<rect x="733" y="201" width="1" height="77" fill="#32CD32"/>
<rect x="732" y="218" width="3" height="57" fill="#32CD32"/>
<rect x="737" y="253" width="1" height="31" fill="#FF0000"/>
<rect x="736" y="263" width="3" height="13" fill="#FF0000"/>
<rect x="737" y="264" width="1" height="11" fill="#FF4500"/>
<rect x="741" y="252" width="1" height="12" fill="#FF0000"/>
<rect x="740" y="257" width="3" height="7" fill="#FF0000"/>
<rect x="741" y="258" width="1" height="5" fill="#FF4500"/>
<rect x="745" y="246" width="1" height="24" fill="#FF0000"/>
<rect x="744" y="247" width="3" height="15" fill="#FF0000"/>
<rect x="745" y="248" width="1" height="13" fill="#FF4500"/>
<rect x="749" y="213" width="1" height="41" fill="#FF0000"/>
<rect x="748" y="224" width="3" height="24" fill="#FF0000"/>
<rect x="749" y="225" width="1" height="22" fill="#FF4500"/>
<rect x="753" y="219" width="1" height="22" fill="#FF0000"/>
<rect x="752" y="224" width="3" height="2" fill="#FF0000"/>
<rect x="757" y="221" width="1" height="39" fill="#32CD32"/>
<rect x="756" y="224" width="3" height="31" fill="#32CD32"/>
<rect x="761" y="211" width="1" height="45" fill="#FF0000"/>
<rect x="760" y="219" width="3" height="36" fill="#FF0000"/>
<rect x="761" y="220" width="1" height="34" fill="#FF4500"/>
<rect x="765" y="217" width="1" height="9" fill="#32CD32"/>
<rect x="764" y="219" width="3" height="3" fill="#32CD32"/>
<rect x="769" y="208" width="1" height="28" fill="#FF0000"/>
<rect x="768" y="215" width="3" height="1" fill="#FF0000"/>
<rect x="773" y="207" width="1" height="32" fill="#32CD32"/>
<rect x="772" y="215" width="3" height="19" fill="#32CD32"/>
<rect x="777" y="226" width="1" height="27" fill="#32CD32"/>
<rect x="776" y="233" width="3" height="9" fill="#32CD32"/>
<rect x="781" y="236" width="1" height="18" fill="#FF0000"/>
<rect x="780" y="238" width="3" height="3" fill="#FF0000"/>
<rect x="781" y="239" width="1" height="1" fill="#FF4500"/>
<rect x="785" y="233" width="1" height="15" fill="#32CD32"/>
<rect x="784" y="239" width="3" height="3" fill="#32CD32"/>
<rect x="789" y="239" width="1" height="7" fill="#FF0000"/>
<rect x="788" y="240" width="3" height="3" fill="#FF0000"/>
<rect x="789" y="241" width="1" height="1" fill="#FF4500"/>
<rect x="793" y="210" width="1" height="33" fill="#FF0000"/>
<rect x="792" y="216" width="3" height="25" fill="#FF0000"/>
<rect x="793" y="217" width="1" height="23" fill="#FF4500"/>
<rect x="797" y="187" width="1" height="31" fill="#FF0000"/>
<rect x="796" y="192" width="3" height="26" fill="#FF0000"/>
<rect x="797" y="193" width="1" height="24" fill="#FF4500"/>
<rect x="801" y="180" width="1" height="24" fill="#FF0000"/>
<rect x="800" y="185" width="3" height="7" fill="#FF0000"/>
<rect x="801" y="186" width="1" height="5" fill="#FF4500"/>
<rect x="805" y="104" width="1" height="93" fill="#FF0000"/>
<rect x="804" y="115" width="3" height="71" fill="#FF0000"/>
<rect x="805" y="116" width="1" height="69" fill="#FF4500"/>
<rect x="809" y="44" width="1" height="74" fill="#FF0000"/>
<rect x="808" y="89" width="3" height="28" fill="#FF0000"/>
<rect x="809" y="90" width="1" height="26" fill="#FF4500"/>
<rect x="813" y="88" width="1" height="8" fill="#32CD32"/>
<rect x="812" y="88" width="3" height="4" fill="#32CD32"/>
<rect x="817" y="99" width="1" height="76" fill="#32CD32"/>
<rect x="816" y="99" width="3" height="72" fill="#32CD32"/>
<rect x="821" y="170" width="1" height="42" fill="#32CD32"/>
<rect x="820" y="172" width="3" height="25" fill="#32CD32"/>
<rect x="825" y="183" width="1" height="27" fill="#FF0000"/>
<rect x="824" y="191" width="3" height="6" fill="#FF0000"/>
<rect x="825" y="192" width="1" height="4" fill="#FF4500"/>
<rect x="829" y="177" width="1" height="32" fill="#FF0000"/>
<rect x="828" y="178" width="3" height="14" fill="#FF0000"/>
<rect x="829" y="179" width="1" height="12" fill="#FF4500"/>
<rect x="833" y="154" width="1" height="44" fill="#32CD32"/>
<rect x="832" y="178" width="3" height="19" fill="#32CD32"/>
<rect x="837" y="193" width="1" height="7" fill="#FF0000"/>
<rect x="836" y="194" width="3" height="3" fill="#FF0000"/>
<rect x="837" y="195" width="1" height="1" fill="#FF4500"/>
<rect x="841" y="187" width="1" height="28" fill="#32CD32"/>
<rect x="840" y="196" width="3" height="5" fill="#32CD32"/>
<rect x="845" y="178" width="1" height="38" fill="#FF0000"/>
<rect x="844" y="189" width="3" height="11" fill="#FF0000"/>
<rect x="845" y="190" width="1" height="9" fill="#FF4500"/>
<rect x="849" y="186" width="1" height="25" fill="#32CD32"/>
<rect x="848" y="189" width="3" height="7" fill="#32CD32"/>
<rect x="853" y="185" width="1" height="40" fill="#32CD32"/>
<rect x="852" y="196" width="3" height="25" fill="#32CD32"/>
<rect x="857" y="218" width="1" height="32" fill="#32CD32"/>
<rect x="856" y="220" width="3" height="18" fill="#32CD32"/>
<rect x="861" y="235" width="1" height="12" fill="#32CD32"/>
<rect x="860" y="237" width="3" height="5" fill="#32CD32"/>
<rect x="865" y="221" width="1" height="17" fill="#FF0000"/>
<rect x="864" y="233" width="3" height="4" fill="#FF0000"/>
<rect x="865" y="234" width="1" height="2" fill="#FF4500"/>
<rect x="869" y="183" width="1" height="57" fill="#FF0000"/>
<rect x="868" y="192" width="3" height="42" fill="#FF0000"/>
<rect x="869" y="193" width="1" height="40" fill="#FF4500"/>
<rect x="873" y="129" width="1" height="66" fill="#FF0000"/>
<rect x="872" y="166" width="3" height="27" fill="#FF0000"/>
<rect x="873" y="167" width="1" height="25" fill="#FF4500"/>
<rect x="877" y="145" width="1" height="37" fill="#32CD32"/>
<rect x="876" y="166" width="3" height="14" fill="#32CD32"/>
<rect x="881" y="171" width="1" height="40" fill="#32CD32"/>
<rect x="880" y="180" width="3" height="8" fill="#32CD32"/>
<rect x="885" y="173" width="1" height="18" fill="#FF0000"/>
<rect x="884" y="176" width="3" height="12" fill="#FF0000"/>
<rect x="885" y="177" width="1" height="10" fill="#FF4500"/>
<rect x="889" y="160" width="1" height="25" fill="#32CD32"/>
<rect x="888" y="165" width="3" height="18" fill="#32CD32"/>
<rect x="893" y="164" width="1" height="40" fill="#FF0000"/>
<rect x="892" y="173" width="3" height="11" fill="#FF0000"/>
<rect x="893" y="174" width="1" height="9" fill="#FF4500"/>
<rect x="897" y="153" width="1" height="35" fill="#32CD32"/>
<rect x="896" y="173" width="3" height="6" fill="#32CD32"/>
<rect x="901" y="158" width="1" height="37" fill="#FF0000"/>
<rect x="900" y="166" width="3" height="13" fill="#FF0000"/>
<rect x="901" y="167" width="1" height="11" fill="#FF4500"/>
<rect x="905" y="129" width="1" height="62" fill="#FF0000"/>
<rect x="904" y="139" width="3" height="28" fill="#FF0000"/>
<rect x="905" y="140" width="1" height="26" fill="#FF4500"/>
<rect x="909" y="131" width="1" height="16" fill="#FF0000"/>
<rect x="908" y="136" width="3" height="4" fill="#FF0000"/>
<rect x="909" y="137" width="1" height="2" fill="#FF4500"/>
<rect x="913" y="69" width="1" height="62" fill="#FF0000"/>
<rect x="912" y="103" width="3" height="26" fill="#FF0000"/>
<rect x="913" y="104" width="1" height="24" fill="#FF4500"/>
<rect x="917" y="90" width="1" height="49" fill="#32CD32"/>
<rect x="916" y="103" width="3" height="15" fill="#32CD32"/>
<rect x="921" y="100" width="1" height="47" fill="#32CD32"/>
<rect x="920" y="117" width="3" height="26" fill="#32CD32"/>
<rect x="925" y="117" width="1" height="40" fill="#FF0000"/>
<rect x="924" y="118" width="3" height="25" fill="#FF0000"/>
<rect x="925" y="119" width="1" height="23" fill="#FF4500"/>
</g>
</g>
<g shape-rendering="crispEdges">
<rect x="5" y="526" width="2" height="9" fill="#C0C0C0"/>
<rect x="8" y="526" width="3" height="11" fill="#C0C0C0"/>
<rect x="12" y="526" width="3" height="12" fill="#C0C0C0"/>
<rect x="16" y="526" width="3" height="13" fill="#C0C0C0"/>
<rect x="20" y="526" width="3" height="14" fill="#C0C0C0"/>
<rect x="24" y="526" width="3" height="15" fill="#C0C0C0"/>
<rect x="28" y="526" width="3" height="16" fill="#C0C0C0"/>
<rect x="32" y="526" width="3" height="17" fill="#C0C0C0"/>
<rect x="36" y="526" width="3" height="17" fill="#C0C0C0"/>
<rect x="40" y="526" width="3" height="16" fill="#C0C0C0"/>
<rect x="44" y="526" width="3" height="16" fill="#C0C0C0"/>
<rect x="48" y="526" width="3" height="15" fill="#C0C0C0"/>
<rect x="52" y="526" width="3" height="14" fill="#C0C0C0"/>
<rect x="56" y="526" width="3" height="14" fill="#C0C0C0"/>
<rect x="60" y="526" width="3" height="14" fill="#C0C0C0"/>
<rect x="64" y="526" width="3" height="14" fill="#C0C0C0"/>
<rect x="68" y="526" width="3" height="13" fill="#C0C0C0"/>
<rect x="72" y="526" width="3" height="12" fill="#C0C0C0"/>
<rect x="76" y="526" width="3" height="12" fill="#C0C0C0"/>
<rect x="80" y="526" width="3" height="13" fill="#C0C0C0"/>
<rect x="84" y="526" width="3" height="14" fill="#C0C0C0"/>
<rect x="88" y="526" width="3" height="13" fill="#C0C0C0"/>
<rect x="92" y="526" width="3" height="11" fill="#C0C0C0"/>
<rect x="96" y="526" width="3" height="10" fill="#C0C0C0"/>
<rect x="100" y="526" width="3" height="9" fill="#C0C0C0"/>
<rect x="104" y="526" width="3" height="7" fill="#C0C0C0"/>
<rect x="108" y="526" width="3" height="4" fill="#C0C0C0"/>
<rect x="112" y="526" width="3" height="2" fill="#C0C0C0"/>
<rect x="116" y="526" width="3" height="1" fill="#C0C0C0"/>
<rect x="120" y="524" width="3" height="2" fill="#C0C0C0"/>
<rect x="124" y="522" width="3" height="4" fill="#C0C0C0"/>
<rect x="128" y="522" width="3" height="4" fill="#C0C0C0"/>
<rect x="132" y="520" width="3" height="6" fill="#C0C0C0"/>
<rect x="136" y="521" width="3" height="5" fill="#C0C0C0"/>
<rect x="140" y="522" width="3" height="4" fill="#C0C0C0"/>
<rect x="144" y="524" width="3" height="2" fill="#C0C0C0"/>
<rect x="148" y="525" width="3" height="1" fill="#C0C0C0"/>
<rect x="152" y="526" width="3" height="2" fill="#C0C0C0"/>
<rect x="156" y="526" width="3" height="4" fill="#C0C0C0"/>
<rect x="160" y="526" width="3" height="5" fill="#C0C0C0"/>
<rect x="164" y="526" width="3" height="6" fill="#C0C0C0"/>
<rect x="168" y="526" width="3" height="7" fill="#C0C0C0"/>
<rect x="172" y="526" width="3" height="7" fill="#C0C0C0"/>
<rect x="176" y="526" width="3" height="6" fill="#C0C0C0"/>
<rect x="180" y="526" width="3" height="7" fill="#C0C0C0"/>
<rect x="184" y="526" width="3" height="9" fill="#C0C0C0"/>
<rect x="188" y="526" width="3" height="11" fill="#C0C0C0"/>
<rect x="192" y="526" width="3" height="12" fill="#C0C0C0"/>
<rect x="196" y="526" width="3" height="13" fill="#C0C0C0"/>
<rect x="200" y="526" width="3" height="15" fill="#C0C0C0"/>
<rect x="204" y="526" width="3" height="18" fill="#C0C0C0"/>
<rect x="208" y="526" width="3" height="16" fill="#C0C0C0"/>
<rect x="212" y="526" width="3" height="13" fill="#C0C0C0"/>
<rect x="216" y="526" width="3" height="11" fill="#C0C0C0"/>
<rect x="220" y="526" width="3" height="11" fill="#C0C0C0"/>
<rect x="224" y="526" width="3" height="11" fill="#C0C0C0"/>
<rect x="228" y="526" width="3" height="10" fill="#C0C0C0"/>
<rect x="232" y="526" width="3" height="9" fill="#C0C0C0"/>
<rect x="236" y="526" width="3" height="7" fill="#C0C0C0"/>
<rect x="240" y="526" width="3" height="6" fill="#C0C0C0"/>
<rect x="244" y="526" width="3" height="6" fill="#C0C0C0"/>
<rect x="248" y="526" width="3" height="6" fill="#C0C0C0"/>
<rect x="252" y="526" width="3" height="8" fill="#C0C0C0"/>
<rect x="256" y="526" width="3" height="11" fill="#C0C0C0"/>
<rect x="260" y="526" width="3" height="15" fill="#C0C0C0"/>
<rect x="264" y="526" width="3" height="16" fill="#C0C0C0"/>
<rect x="268" y="526" width="3" height="18" fill="#C0C0C0"/>
<rect x="272" y="526" width="3" height="20" fill="#C0C0C0"/>
<rect x="276" y="526" width="3" height="21" fill="#C0C0C0"/>
<rect x="280" y="526" width="3" height="20" fill="#C0C0C0"/>
<rect x="284" y="526" width="3" height="20" fill="#C0C0C0"/>
<rect x="288" y="526" width="3" height="18" fill="#C0C0C0"/>
<rect x="292" y="526" width="3" height="16" fill="#C0C0C0"/>
<rect x="296" y="526" width="3" height="14" fill="#C0C0C0"/>
<rect x="300" y="526" width="3" height="11" fill="#C0C0C0"/>
<rect x="304" y="526" width="3" height="9" fill="#C0C0C0"/>
<rect x="308" y="526" width="3" height="6" fill="#C0C0C0"/>
<rect x="312" y="526" width="3" height="4" fill="#C0C0C0"/>
<rect x="316" y="526" width="3" height="3" fill="#C0C0C0"/>
<rect x="320" y="526" width="3" height="2" fill="#C0C0C0"/>
<rect x="324" y="526" width="3" height="2" fill="#C0C0C0"/>
<rect x="328" y="526" width="3" height="2" fill="#C0C0C0"/>
<rect x="332" y="526" width="3" height="3" fill="#C0C0C0"/>
<rect x="336" y="526" width="3" height="4" fill="#C0C0C0"/>
<rect x="340" y="526" width="3" height="4" fill="#C0C0C0"/>
<rect x="344" y="526" width="3" height="3" fill="#C0C0C0"/>
<rect x="348" y="526" width="3" height="2" fill="#C0C0C0"/>
<rect x="352" y="526" width="3" height="3" fill="#C0C0C0"/>
<rect x="356" y="526" width="3" height="4" fill="#C0C0C0"/>
<rect x="360" y="526" width="3" height="3" fill="#C0C0C0"/>
<rect x="364" y="526" width="3" height="3" fill="#C0C0C0"/>
<rect x="368" y="526" width="3" height="4" fill="#C0C0C0"/>
<rect x="372" y="526" width="3" height="4" fill="#C0C0C0"/>
<rect x="376" y="526" width="3" height="6" fill="#C0C0C0"/>
<rect x="380" y="526" width="3" height="6" fill="#C0C0C0"/>
<rect x="384" y="526" width="3" height="6" fill="#C0C0C0"/>
<rect x="388" y="526" width="3" height="5" fill="#C0C0C0"/>
<rect x="392" y="526" width="3" height="5" fill="#C0C0C0"/>
<rect x="396" y="526" width="3" height="5" fill="#C0C0C0"/>
<rect x="400" y="526" width="3" height="6" fill="#C0C0C0"/>
<rect x="404" y="526" width="3" height="8" fill="#C0C0C0"/>
<rect x="408" y="526" width="3" height="10" fill="#C0C0C0"/>
<rect x="412" y="526" width="3" height="12" fill="#C0C0C0"/>
<rect x="416" y="526" width="3" height="15" fill="#C0C0C0"/>
<rect x="420" y="526" width="3" height="18" fill="#C0C0C0"/>
<rect x="424" y="526" width="3" height="21" fill="#C0C0C0"/>
<rect x="428" y="526" width="3" height="24" fill="#C0C0C0"/>
<rect x="432" y="526" width="3" height="25" fill="#C0C0C0"/>
<rect x="436" y="526" width="3" height="25" fill="#C0C0C0"/>
<rect x="440" y="526" width="3" height="26" fill="#C0C0C0"/>
<rect x="444" y="526" width="3" height="28" fill="#C0C0C0"/>
<rect x="448" y="526" width="3" height="31" fill="#C0C0C0"/>
<rect x="452" y="526" width="3" height="34" fill="#C0C0C0"/>
<rect x="456" y="526" width="3" height="36" fill="#C0C0C0"/>
<rect x="460" y="526" width="3" height="37" fill="#C0C0C0"/>
<rect x="464" y="526" width="3" height="38" fill="#C0C0C0"/>
<rect x="468" y="526" width="3" height="38" fill="#C0C0C0"/>
<rect x="472" y="526" width="3" height="36" fill="#C0C0C0"/>
<rect x="476" y="526" width="3" height="36" fill="#C0C0C0"/>
<rect x="480" y="526" width="3" height="36" fill="#C0C0C0"/>
<rect x="484" y="526" width="3" height="36" fill="#C0C0C0"/>
<rect x="488" y="526" width="3" height="35" fill="#C0C0C0"/>
<rect x="492" y="526" width="3" height="35" fill="#C0C0C0"/>
<rect x="496" y="526" width="3" height="34" fill="#C0C0C0"/>
<rect x="500" y="526" width="3" height="33" fill="#C0C0C0"/>
<rect x="504" y="526" width="3" height="31" fill="#C0C0C0"/>
<rect x="508" y="526" width="3" height="30" fill="#C0C0C0"/>
<rect x="512" y="526" width="3" height="27" fill="#C0C0C0"/>
<rect x="516" y="526" width="3" height="26" fill="#C0C0C0"/>
<rect x="520" y="526" width="3" height="24" fill="#C0C0C0"/>
<rect x="524" y="526" width="3" height="23" fill="#C0C0C0"/>
<rect x="528" y="526" width="3" height="22" fill="#C0C0C0"/>
<rect x="532" y="526" width="3" height="22" fill="#C0C0C0"/>
<rect x="536" y="526" width="3" height="21" fill="#C0C0C0"/>
<rect x="540" y="526" width="3" height="18" fill="#C0C0C0"/>
<rect x="544" y="526" width="3" height="17" fill="#C0C0C0"/>
<rect x="548" y="526" width="3" height="16" fill="#C0C0C0"/>
<rect x="552" y="526" width="3" height="15" fill="#C0C0C0"/>
<rect x="556" y="526" width="3" height="14" fill="#C0C0C0"/>
<rect x="560" y="526" width="3" height="12" fill="#C0C0C0"/>
<rect x="564" y="526" width="3" height="11" fill="#C0C0C0"/>
<rect x="568" y="526" width="3" height="8" fill="#C0C0C0"/>
<rect x="572" y="526" width="3" height="6" fill="#C0C0C0"/>
<rect x="576" y="526" width="3" height="4" fill="#C0C0C0"/>
<rect x="580" y="526" width="3" height="2" fill="#C0C0C0"/>
<rect x="584" y="526" width="3" height="1" fill="#C0C0C0"/>
<rect x="588" y="519" width="3" height="7" fill="#C0C0C0"/>
<rect x="592" y="512" width="3" height="14" fill="#C0C0C0"/>
<rect x="596" y="507" width="3" height="19" fill="#C0C0C0"/>
<rect x="600" y="505" width="3" height="21" fill="#C0C0C0"/>
<rect x="604" y="503" width="3" height="23" fill="#C0C0C0"/>
<rect x="608" y="505" width="3" height="21" fill="#C0C0C0"/>
<rect x="612" y="505" width="3" height="21" fill="#C0C0C0"/>
<rect x="616" y="506" width="3" height="20" fill="#C0C0C0"/>
<rect x="620" y="507" width="3" height="19" fill="#C0C0C0"/>
<rect x="624" y="507" width="3" height="19" fill="#C0C0C0"/>
<rect x="628" y="506" width="3" height="20" fill="#C0C0C0"/>
<rect x="632" y="505" width="3" height="21" fill="#C0C0C0"/>
<rect x="636" y="504" width="3" height="22" fill="#C0C0C0"/>
<rect x="640" y="506" width="3" height="20" fill="#C0C0C0"/>
<rect x="644" y="508" width="3" height="18" fill="#C0C0C0"/>
<rect x="648" y="509" width="3" height="17" fill="#C0C0C0"/>
<rect x="652" y="507" width="3" height="19" fill="#C0C0C0"/>
<rect x="656" y="504" width="3" height="22" fill="#C0C0C0"/>
<rect x="660" y="501" width="3" height="25" fill="#C0C0C0"/>
<rect x="664" y="501" width="3" height="25" fill="#C0C0C0"/>
<rect x="668" y="501" width="3" height="25" fill="#C0C0C0"/>
<rect x="672" y="502" width="3" height="24" fill="#C0C0C0"/>
<rect x="676" y="501" width="3" height="25" fill="#C0C0C0"/>
<rect x="680" y="501" width="3" height="25" fill="#C0C0C0"/>
<rect x="684" y="499" width="3" height="27" fill="#C0C0C0"/>
<rect x="688" y="498" width="3" height="28" fill="#C0C0C0"/>
<rect x="692" y="497" width="3" height="29" fill="#C0C0C0"/>
<rect x="696" y="492" width="3" height="34" fill="#C0C0C0"/>
<rect x="700" y="489" width="3" height="37" fill="#C0C0C0"/>
<rect x="704" y="493" width="3" height="33" fill="#C0C0C0"/>
<rect x="708" y="495" width="3" height="31" fill="#C0C0C0"/>
<rect x="712" y="497" width="3" height="29" fill="#C0C0C0"/>
<rect x="716" y="499" width="3" height="27" fill="#C0C0C0"/>
<rect x="720" y="502" width="3" height="24" fill="#C0C0C0"/>
<rect x="724" y="503" width="3" height="23" fill="#C0C0C0"/>
<rect x="728" y="505" width="3" height="21" fill="#C0C0C0"/>
<rect x="732" y="510" width="3" height="16" fill="#C0C0C0"/>
<rect x="736" y="514" width="3" height="12" fill="#C0C0C0"/>
<rect x="740" y="516" width="3" height="10" fill="#C0C0C0"/>
<rect x="744" y="517" width="3" height="9" fill="#C0C0C0"/>
<rect x="748" y="517" width="3" height="9" fill="#C0C0C0"/>
<rect x="752" y="517" width="3" height="9" fill="#C0C0C0"/>
<rect x="756" y="519" width="3" height="7" fill="#C0C0C0"/>
<rect x="760" y="518" width="3" height="8" fill="#C0C0C0"/>
<rect x="764" y="518" width="3" height="8" fill="#C0C0C0"/>
<rect x="768" y="518" width="3" height="8" fill="#C0C0C0"/>
<rect x="772" y="519" width="3" height="7" fill="#C0C0C0"/>
<rect x="776" y="520" width="3" height="6" fill="#C0C0C0"/>
<rect x="780" y="521" width="3" height="5" fill="#C0C0C0"/>
<rect x="784" y="521" width="3" height="5" fill="#C0C0C0"/>
<rect x="788" y="522" width="3" height="4" fill="#C0C0C0"/>
<rect x="792" y="521" width="3" height="5" fill="#C0C0C0"/>
<rect x="796" y="519" width="3" height="7" fill="#C0C0C0"/>
<rect x="800" y="517" width="3" height="9" fill="#C0C0C0"/>
<rect x="804" y="511" width="3" height="15" fill="#C0C0C0"/>
<rect x="808" y="505" width="3" height="21" fill="#C0C0C0"/>
<rect x="812" y="501" width="3" height="25" fill="#C0C0C0"/>
<rect x="816" y="503" width="3" height="23" fill="#C0C0C0"/>
<rect x="820" y="506" width="3" height="20" fill="#C0C0C0"/>
<rect x="824" y="508" width="3" height="18" fill="#C0C0C0"/>
<rect x="828" y="510" width="3" height="16" fill="#C0C0C0"/>
<rect x="832" y="512" width="3" height="14" fill="#C0C0C0"/>
<rect x="836" y="514" width="3" height="12" fill="#C0C0C0"/>
<rect x="840" y="516" width="3" height="10" fill="#C0C0C0"/>
<rect x="844" y="517" width="3" height="9" fill="#C0C0C0"/>
<rect x="848" y="518" width="3" height="8" fill="#C0C0C0"/>
<rect x="852" y="520" width="3" height="6" fill="#C0C0C0"/>
<rect x="856" y="524" width="3" height="2" fill="#C0C0C0"/>
<rect x="860" y="526" width="3" height="1" fill="#C0C0C0"/>
<rect x="864" y="526" width="3" height="3" fill="#C0C0C0"/>
<rect x="868" y="526" width="3" height="2" fill="#C0C0C0"/>
<rect x="872" y="524" width="3" height="2" fill="#C0C0C0"/>
<rect x="876" y="524" width="3" height="2" fill="#C0C0C0"/>
<rect x="880" y="522" width="3" height="4" fill="#C0C0C0"/>
<rect x="884" y="521" width="3" height="5" fill="#C0C0C0"/>
<rect x="888" y="521" width="3" height="5" fill="#C0C0C0"/>
<rect x="892" y="520" width="3" height="6" fill="#C0C0C0"/>
<rect x="896" y="520" width="3" height="6" fill="#C0C0C0"/>
<rect x="900" y="519" width="3" height="7" fill="#C0C0C0"/>
<rect x="904" y="517" width="3" height="9" fill="#C0C0C0"/>
<rect x="908" y="515" width="3" height="11" fill="#C0C0C0"/>
<rect x="912" y="512" width="3" height="14" fill="#C0C0C0"/>
<rect x="916" y="510" width="3" height="16" fill="#C0C0C0"/>
<rect x="920" y="510" width="3" height="16" fill="#C0C0C0"/>
<rect x="924" y="509" width="3" height="17" fill="#C0C0C0"/>
</g>
<path d="M715 495h7v1h-7zM710 496h5v1h-5zM722 496h7v1h-7zM705 497h5v1h-5zM729 497h2v1h-2zM700 498h5v1h-5zM731 498h2v1h-2zM695 499h5v1h-5zM733 499h2v1h-2zM690 500h5v1h-5zM735 500h1v1h-1zM686 501h4v1h-4zM736 501h2v1h-2zM682 502h4v1h-4zM738 502h1v1h-1zM679 503h3v1h-3zM739 503h1v1h-1zM670 504h9v1h-9zM740 504h2v1h-2zM631 505h10v1h-10zM660 505h10v1h-10zM742 505h1v1h-1zM623 506h8v1h-8zM641 506h7v1h-7zM654 506h6v1h-6zM743 506h2v1h-2zM621 507h2v1h-2zM648 507h6v1h-6zM745 507h2v1h-2zM619 508h2v1h-2zM747 508h2v1h-2zM831 508h14v1h-14zM617 509h2v1h-2zM749 509h2v1h-2zM827 509h4v1h-4zM845 509h2v1h-2zM616 510h1v1h-1zM751 510h2v1h-2zM824 510h3v1h-3zM847 510h2v1h-2zM614 511h2v1h-2zM753 511h2v1h-2zM821 511h3v1h-3zM849 511h2v1h-2zM613 512h1v1h-1zM755 512h2v1h-2zM819 512h2v1h-2zM851 512h2v1h-2zM612 513h1v1h-1zM757 513h2v1h-2zM816 513h3v1h-3zM853 513h2v1h-2zM610 514h2v1h-2zM759 514h2v1h-2zM814 514h2v1h-2zM855 514h2v1h-2zM609 515h1v1h-1zM761 515h3v1h-3zM812 515h2v1h-2zM857 515h2v1h-2zM923 515h3v1h-3zM608 516h1v1h-1zM764 516h4v1h-4zM810 516h2v1h-2zM859 516h2v1h-2zM919 516h4v1h-4zM606 517h2v1h-2zM768 517h4v1h-4zM808 517h2v1h-2zM861 517h2v1h-2zM915 517h4v1h-4zM605 518h1v1h-1zM772 518h7v1h-7zM806 518h2v1h-2zM863 518h2v1h-2zM912 518h3v1h-3zM603 519h2v1h-2zM779 519h8v1h-8zM804 519h2v1h-2zM865 519h2v1h-2zM910 519h2v1h-2zM602 520h1v1h-1zM787 520h17v1h-17zM867 520h2v1h-2zM907 520h3v1h-3zM600 521h2v1h-2zM869 521h3v1h-3zM905 521h2v1h-2zM599 522h1v1h-1zM872 522h3v1h-3zM901 522h4v1h-4zM142 523h19v1h-19zM598 523h1v1h-1zM875 523h4v1h-4zM896 523h5v1h-5zM137 524h5v1h-5zM161 524h2v1h-2zM597 524h1v1h-1zM879 524h17v1h-17zM133 525h4v1h-4zM163 525h3v1h-3zM596 525h1v1h-1zM131 526h2v1h-2zM166 526h2v1h-2zM595 526h1v1h-1zM129 527h2v1h-2zM168 527h4v1h-4zM594 527h1v1h-1zM127 528h2v1h-2zM172 528h4v1h-4zM344 528h24v1h-24zM593 528h1v1h-1zM125 529h2v1h-2zM176 529h4v1h-4zM336 529h8v1h-8zM368 529h21v1h-21zM591 529h2v1h-2zM123 530h2v1h-2zM180 530h4v1h-4zM331 530h5v1h-5zM389 530h7v1h-7zM589 530h2v1h-2zM120 531h3v1h-3zM184 531h4v1h-4zM329 531h2v1h-2zM396 531h6v1h-6zM587 531h2v1h-2zM118 532h2v1h-2zM188 532h3v1h-3zM326 532h3v1h-3zM402 532h16v1h-16zM585 532h2v1h-2zM114 533h4v1h-4zM191 533h4v1h-4zM250 533h12v1h-12zM324 533h2v1h-2zM418 533h2v1h-2zM583 533h2v1h-2zM110 534h4v1h-4zM195 534h4v1h-4zM246 534h4v1h-4zM262 534h5v1h-5zM322 534h2v1h-2zM420 534h2v1h-2zM580 534h3v1h-3zM106 535h4v1h-4zM199 535h5v1h-5zM243 535h3v1h-3zM267 535h3v1h-3zM319 535h3v1h-3zM422 535h2v1h-2zM578 535h2v1h-2zM100 536h6v1h-6zM204 536h4v1h-4zM239 536h4v1h-4zM270 536h2v1h-2zM317 536h2v1h-2zM424 536h2v1h-2zM576 536h2v1h-2zM94 537h6v1h-6zM208 537h3v1h-3zM236 537h3v1h-3zM272 537h3v1h-3zM314 537h3v1h-3zM426 537h2v1h-2zM573 537h3v1h-3zM19 538h17v1h-17zM77 538h17v1h-17zM211 538h25v1h-25zM275 538h3v1h-3zM312 538h2v1h-2zM428 538h2v1h-2zM571 538h2v1h-2zM15 539h4v1h-4zM36 539h5v1h-5zM70 539h7v1h-7zM278 539h3v1h-3zM310 539h2v1h-2zM430 539h2v1h-2zM569 539h2v1h-2zM13 540h2v1h-2zM41 540h7v1h-7zM60 540h10v1h-10zM281 540h2v1h-2zM307 540h3v1h-3zM432 540h1v1h-1zM566 540h3v1h-3zM11 541h2v1h-2zM48 541h12v1h-12zM283 541h2v1h-2zM305 541h2v1h-2zM433 541h2v1h-2zM563 541h3v1h-3zM10 542h1v1h-1zM285 542h2v1h-2zM303 542h2v1h-2zM435 542h2v1h-2zM559 542h4v1h-4zM8 543h2v1h-2zM287 543h16v1h-16zM437 543h2v1h-2zM556 543h3v1h-3zM6 544h2v1h-2zM439 544h2v1h-2zM553 544h3v1h-3zM5 545h1v1h-1zM441 545h2v1h-2zM550 545h3v1h-3zM443 546h2v1h-2zM547 546h3v1h-3zM445 547h2v1h-2zM544 547h3v1h-3zM447 548h2v1h-2zM542 548h2v1h-2zM449 549h2v1h-2zM539 549h3v1h-3zM451 550h2v1h-2zM536 550h3v1h-3zM453 551h2v1h-2zM533 551h3v1h-3zM455 552h2v1h-2zM530 552h3v1h-3zM457 553h2v1h-2zM528 553h2v1h-2zM459 554h2v1h-2zM525 554h3v1h-3zM461 555h2v1h-2zM522 555h3v1h-3zM463 556h2v1h-2zM520 556h2v1h-2zM465 557h3v1h-3zM516 557h4v1h-4zM468 558h3v1h-3zM511 558h5v1h-5zM471 559h3v1h-3zM507 559h4v1h-4zM474 560h4v1h-4zM502 560h5v1h-5zM478 561h5v1h-5zM498 561h4v1h-4zM483 562h15v1h-15z" fill="#FF0000" shape-rendering="crispEdges"/>
<g shape-rendering="crispEdges">
<rect x="6" y="597" width="3" height="1" fill="#C0C0C0"/>
<rect x="12" y="597" width="3" height="1" fill="#C0C0C0"/>
<rect x="18" y="597" width="3" height="1" fill="#C0C0C0"/>
<rect x="24" y="597" width="3" height="1" fill="#C0C0C0"/>
<rect x="30" y="597" width="3" height="1" fill="#C0C0C0"/>
<rect x="36" y="597" width="3" height="1" fill="#C0C0C0"/>
<rect x="42" y="597" width="3" height="1" fill="#C0C0C0"/>
<rect x="48" y="597" width="3" height="1" fill="#C0C0C0"/>
<rect x="54" y="597" width="3" height="1" fill="#C0C0C0"/>
<rect x="60" y="597" width="3" height="1" fill="#C0C0C0"/>
<rect x="66" y="597" width="3" height="1" fill="#C0C0C0"/>
<rect x="72" y="597" width="3" height="1" fill="#C0C0C0"/>
<rect x="78" y="597" width="3" height="1" fill="#C0C0C0"/>
<rect x="84" y="597" width="3" height="1" fill="#C0C0C0"/>
<rect x="90" y="597" width="3" height="1" fill="#C0C0C0"/>
<rect x="96" y="597" width="3" height="1" fill="#C0C0C0"/>
<rect x="102" y="597" width="3" height="1" fill="#C0C0C0"/>
<rect x="108" y="597" width="3" height="1" fill="#C0C0C0"/>
<rect x="114" y="597" width="3" height="1" fill="#C0C0C0"/>
<rect x="120" y="597" width="3" height="1" fill="#C0C0C0"/>
<rect x="126" y="597" width="3" height="1" fill="#C0C0C0"/>
<rect x="132" y="597" width="3" height="1" fill="#C0C0C0"/>
<rect x="138" y="597" width="3" height="1" fill="#C0C0C0"/>
<rect x="144" y="597" width="3" height="1" fill="#C0C0C0"/>
<rect x="150" y="597" width="3" height="1" fill="#C0C0C0"/>
<rect x="156" y="597" width="3" height="1" fill="#C0C0C0"/>
<rect x="162" y="597" width="3" height="1" fill="#C0C0C0"/>
<rect x="168" y="597" width="3" height="1" fill="#C0C0C0"/>
<rect x="174" y="597" width="3" height="1" fill="#C0C0C0"/>
<rect x="180" y="597" width="3" height="1" fill="#C0C0C0"/>
<rect x="186" y="597" width="3" height="1" fill="#C0C0C0"/>
<rect x="192" y="597" width="3" height="1" fill="#C0C0C0"/>
<rect x="198" y="597" width="3" height="1" fill="#C0C0C0"/>
<rect x="204" y="597" width="3" height="1" fill="#C0C0C0"/>
<rect x="210" y="597" width="3" height="1" fill="#C0C0C0"/>
<rect x="216" y="597" width="3" height="1" fill="#C0C0C0"/>
<rect x="222" y="597" width="3" height="1" fill="#C0C0C0"/>
<rect x="228" y="597" width="3" height="1" fill="#C0C0C0"/>
<rect x="234" y="597" width="3" height="1" fill="#C0C0C0"/>
<rect x="240" y="597" width="3" height="1" fill="#C0C0C0"/>
<rect x="246" y="597" width="3" height="1" fill="#C0C0C0"/>
<rect x="252" y="597" width="3" height="1" fill="#C0C0C0"/>
<rect x="258" y="597" width="3" height="1" fill="#C0C0C0"/>
<rect x="264" y="597" width="3" height="1" fill="#C0C0C0"/>
<rect x="270" y="597" width="3" height="1" fill="#C0C0C0"/>
<rect x="276" y="597" width="3" height="1" fill="#C0C0C0"/>
<rect x="282" y="597" width="3" height="1" fill="#C0C0C0"/>
<rect x="288" y="597" width="3" height="1" fill="#C0C0C0"/>
<rect x="294" y="597" width="3" height="1" fill="#C0C0C0"/>
<rect x="300" y="597" width="3" height="1" fill="#C0C0C0"/>
<rect x="306" y="597" width="3" height="1" fill="#C0C0C0"/>
<rect x="312" y="597" width="3" height="1" fill="#C0C0C0"/>
<rect x="318" y="597" width="3" height="1" fill="#C0C0C0"/>
<rect x="324" y="597" width="3" height="1" fill="#C0C0C0"/>
<rect x="330" y="597" width="3" height="1" fill="#C0C0C0"/>
<rect x="336" y="597" width="3" height="1" fill="#C0C0C0"/>
<rect x="342" y="597" width="3" height="1" fill="#C0C0C0"/>
<rect x="348" y="597" width="3" height="1" fill="#C0C0C0"/>
<rect x="354" y="597" width="3" height="1" fill="#C0C0C0"/>
<rect x="360" y="597" width="3" height="1" fill="#C0C0C0"/>
<rect x="366" y="597" width="3" height="1" fill="#C0C0C0"/>
<rect x="372" y="597" width="3" height="1" fill="#C0C0C0"/>
<rect x="378" y="597" width="3" height="1" fill="#C0C0C0"/>
<rect x="384" y="597" width="3" height="1" fill="#C0C0C0"/>
<rect x="390" y="597" width="3" height="1" fill="#C0C0C0"/>
<rect x="396" y="597" width="3" height="1" fill="#C0C0C0"/>
<rect x="402" y="597" width="3" height="1" fill="#C0C0C0"/>
<rect x="408" y="597" width="3" height="1" fill="#C0C0C0"/>
<rect x="414" y="597" width="3" height="1" fill="#C0C0C0"/>
<rect x="420" y="597" width="3" height="1" fill="#C0C0C0"/>
<rect x="426" y="597" width="3" height="1" fill="#C0C0C0"/>
<rect x="432" y="597" width="3" height="1" fill="#C0C0C0"/>
<rect x="438" y="597" width="3" height="1" fill="#C0C0C0"/>
<rect x="444" y="597" width="3" height="1" fill="#C0C0C0"/>
<rect x="450" y="597" width="3" height="1" fill="#C0C0C0"/>
<rect x="456" y="597" width="3" height="1" fill="#C0C0C0"/>
<rect x="462" y="597" width="3" height="1" fill="#C0C0C0"/>
<rect x="468" y="597" width="3" height="1" fill="#C0C0C0"/>
<rect x="474" y="597" width="3" height="1" fill="#C0C0C0"/>
<rect x="480" y="597" width="3" height="1" fill="#C0C0C0"/>
<rect x="486" y="597" width="3" height="1" fill="#C0C0C0"/>
<rect x="492" y="597" width="3" height="1" fill="#C0C0C0"/>
<rect x="498" y="597" width="3" height="1" fill="#C0C0C0"/>
<rect x="504" y="597" width="3" height="1" fill="#C0C0C0"/>
<rect x="510" y="597" width="3" height="1" fill="#C0C0C0"/>
<rect x="516" y="597" width="3" height="1" fill="#C0C0C0"/>
<rect x="522" y="597" width="3" height="1" fill="#C0C0C0"/>
<rect x="528" y="597" width="3" height="1" fill="#C0C0C0"/>
<rect x="534" y="597" width="3" height="1" fill="#C0C0C0"/>
<rect x="540" y="597" width="3" height="1" fill="#C0C0C0"/>
<rect x="546" y="597" width="3" height="1" fill="#C0C0C0"/>
<rect x="552" y="597" width="3" height="1" fill="#C0C0C0"/>
<rect x="558" y="597" width="3" height="1" fill="#C0C0C0"/>
<rect x="564" y="597" width="3" height="1" fill="#C0C0C0"/>
<rect x="570" y="597" width="3" height="1" fill="#C0C0C0"/>
<rect x="576" y="597" width="3" height="1" fill="#C0C0C0"/>
<rect x="582" y="597" width="3" height="1" fill="#C0C0C0"/>
<rect x="588" y="597" width="3" height="1" fill="#C0C0C0"/>
<rect x="594" y="597" width="3" height="1" fill="#C0C0C0"/>
<rect x="600" y="597" width="3" height="1" fill="#C0C0C0"/>
<rect x="606" y="597" width="3" height="1" fill="#C0C0C0"/>
<rect x="612" y="597" width="3" height="1" fill="#C0C0C0"/>
<rect x="618" y="597" width="3" height="1" fill="#C0C0C0"/>
<rect x="624" y="597" width="3" height="1" fill="#C0C0C0"/>
<rect x="630" y="597" width="3" height="1" fill="#C0C0C0"/>
<rect x="636" y="597" width="3" height="1" fill="#C0C0C0"/>
<rect x="642" y="597" width="3" height="1" fill="#C0C0C0"/>
<rect x="648" y="597" width="3" height="1" fill="#C0C0C0"/>
<rect x="654" y="597" width="3" height="1" fill="#C0C0C0"/>
<rect x="660" y="597" width="3" height="1" fill="#C0C0C0"/>
<rect x="666" y="597" width="3" height="1" fill="#C0C0C0"/>
<rect x="672" y="597" width="3" height="1" fill="#C0C0C0"/>
<rect x="678" y="597" width="3" height="1" fill="#C0C0C0"/>
<rect x="684" y="597" width="3" height="1" fill="#C0C0C0"/>
<rect x="690" y="597" width="3" height="1" fill="#C0C0C0"/>
<rect x="696" y="597" width="3" height="1" fill="#C0C0C0"/>
<rect x="702" y="597" width="3" height="1" fill="#C0C0C0"/>
<rect x="708" y="597" width="3" height="1" fill="#C0C0C0"/>
<rect x="714" y="597" width="3" height="1" fill="#C0C0C0"/>
<rect x="720" y="597" width="3" height="1" fill="#C0C0C0"/>
<rect x="726" y="597" width="3" height="1" fill="#C0C0C0"/>
<rect x="732" y="597" width="3" height="1" fill="#C0C0C0"/>
<rect x="738" y="597" width="3" height="1" fill="#C0C0C0"/>
<rect x="744" y="597" width="3" height="1" fill="#C0C0C0"/>
<rect x="750" y="597" width="3" height="1" fill="#C0C0C0"/>
<rect x="756" y="597" width="3" height="1" fill="#C0C0C0"/>
<rect x="762" y="597" width="3" height="1" fill="#C0C0C0"/>
<rect x="768" y="597" width="3" height="1" fill="#C0C0C0"/>
<rect x="774" y="597" width="3" height="1" fill="#C0C0C0"/>
<rect x="780" y="597" width="3" height="1" fill="#C0C0C0"/>
<rect x="786" y="597" width="3" height="1" fill="#C0C0C0"/>
<rect x="792" y="597" width="3" height="1" fill="#C0C0C0"/>
<rect x="798" y="597" width="3" height="1" fill="#C0C0C0"/>
<rect x="804" y="597" width="3" height="1" fill="#C0C0C0"/>
<rect x="810" y="597" width="3" height="1" fill="#C0C0C0"/>
<rect x="816" y="597" width="3" height="1" fill="#C0C0C0"/>
<rect x="822" y="597" width="3" height="1" fill="#C0C0C0"/>
<rect x="828" y="597" width="3" height="1" fill="#C0C0C0"/>
<rect x="834" y="597" width="3" height="1" fill="#C0C0C0"/>
<rect x="840" y="597" width="3" height="1" fill="#C0C0C0"/>
<rect x="846" y="597" width="3" height="1" fill="#C0C0C0"/>
<rect x="852" y="597" width="3" height="1" fill="#C0C0C0"/>
<rect x="858" y="597" width="3" height="1" fill="#C0C0C0"/>
<rect x="864" y="597" width="3" height="1" fill="#C0C0C0"/>
<rect x="870" y="597" width="3" height="1" fill="#C0C0C0"/>
<rect x="876" y="597" width="3" height="1" fill="#C0C0C0"/>
<rect x="882" y="597" width="3" height="1" fill="#C0C0C0"/>
<rect x="888" y="597" width="3" height="1" fill="#C0C0C0"/>
<rect x="894" y="597" width="3" height="1" fill="#C0C0C0"/>
<rect x="900" y="597" width="3" height="1" fill="#C0C0C0"/>
<rect x="906" y="597" width="3" height="1" fill="#C0C0C0"/>
<rect x="912" y="597" width="3" height="1" fill="#C0C0C0"/>
<rect x="918" y="597" width="3" height="1" fill="#C0C0C0"/>
<rect x="924" y="597" width="3" height="1" fill="#C0C0C0"/>
<rect x="930" y="597" width="3" height="1" fill="#C0C0C0"/>
<rect x="936" y="597" width="3" height="1" fill="#C0C0C0"/>
<rect x="942" y="597" width="3" height="1" fill="#C0C0C0"/>
<rect x="948" y="597" width="3" height="1" fill="#C0C0C0"/>
<rect x="954" y="597" width="3" height="1" fill="#C0C0C0"/>
<rect x="960" y="597" width="3" height="1" fill="#C0C0C0"/>
<rect x="966" y="597" width="3" height="1" fill="#C0C0C0"/>
<rect x="972" y="597" width="3" height="1" fill="#C0C0C0"/>
<rect x="978" y="597" width="3" height="1" fill="#C0C0C0"/>
<rect x="984" y="597" width="3" height="1" fill="#C0C0C0"/>
<rect x="990" y="597" width="3" height="1" fill="#C0C0C0"/>
<rect x="996" y="597" width="3" height="1" fill="#C0C0C0"/>
<rect x="1002" y="597" width="3" height="1" fill="#C0C0C0"/>
<rect x="1008" y="597" width="3" height="1" fill="#C0C0C0"/>
<rect x="1014" y="597" width="3" height="1" fill="#C0C0C0"/>
<rect x="1020" y="597" width="3" height="1" fill="#C0C0C0"/>
<rect x="1026" y="597" width="3" height="1" fill="#C0C0C0"/>
<rect x="1032" y="597" width="3" height="1" fill="#C0C0C0"/>
<rect x="1038" y="597" width="3" height="1" fill="#C0C0C0"/>
<rect x="1044" y="597" width="3" height="1" fill="#C0C0C0"/>
<rect x="1050" y="597" width="3" height="1" fill="#C0C0C0"/>
<rect x="1056" y="597" width="3" height="1" fill="#C0C0C0"/>
<rect x="1062" y="597" width="3" height="1" fill="#C0C0C0"/>
<rect x="1068" y="597" width="3" height="1" fill="#C0C0C0"/>
<rect x="1074" y="597" width="3" height="1" fill="#C0C0C0"/>
<rect x="1080" y="597" width="3" height="1" fill="#C0C0C0"/>
<rect x="1086" y="597" width="3" height="1" fill="#C0C0C0"/>
<rect x="1092" y="597" width="3" height="1" fill="#C0C0C0"/>
<rect x="1098" y="597" width="3" height="1" fill="#C0C0C0"/>
<rect x="1104" y="597" width="3" height="1" fill="#C0C0C0"/>
<rect x="1110" y="597" width="3" height="1" fill="#C0C0C0"/>
<rect x="1116" y="597" width="3" height="1" fill="#C0C0C0"/>
<rect x="1122" y="597" width="3" height="1" fill="#C0C0C0"/>
<rect x="1128" y="597" width="3" height="1" fill="#C0C0C0"/>
<rect x="1134" y="597" width="3" height="1" fill="#C0C0C0"/>
<rect x="1140" y="597" width="3" height="1" fill="#C0C0C0"/>
<rect x="1146" y="597" width="3" height="1" fill="#C0C0C0"/>
<rect x="1152" y="597" width="3" height="1" fill="#C0C0C0"/>
<rect x="1158" y="597" width="3" height="1" fill="#C0C0C0"/>
<rect x="1164" y="597" width="3" height="1" fill="#C0C0C0"/>
<rect x="6" y="631" width="3" height="1" fill="#C0C0C0"/>
<rect x="12" y="631" width="3" height="1" fill="#C0C0C0"/>
<rect x="18" y="631" width="3" height="1" fill="#C0C0C0"/>
<rect x="24" y="631" width="3" height="1" fill="#C0C0C0"/>
<rect x="30" y="631" width="3" height="1" fill="#C0C0C0"/>
<rect x="36" y="631" width="3" height="1" fill="#C0C0C0"/>
<rect x="42" y="631" width="3" height="1" fill="#C0C0C0"/>
<rect x="48" y="631" width="3" height="1" fill="#C0C0C0"/>
<rect x="54" y="631" width="3" height="1" fill="#C0C0C0"/>
<rect x="60" y="631" width="3" height="1" fill="#C0C0C0"/>
<rect x="66" y="631" width="3" height="1" fill="#C0C0C0"/>
<rect x="72" y="631" width="3" height="1" fill="#C0C0C0"/>
<rect x="78" y="631" width="3" height="1" fill="#C0C0C0"/>
<rect x="84" y="631" width="3" height="1" fill="#C0C0C0"/>
<rect x="90" y="631" width="3" height="1" fill="#C0C0C0"/>
<rect x="96" y="631" width="3" height="1" fill="#C0C0C0"/>
<rect x="102" y="631" width="3" height="1" fill="#C0C0C0"/>
<rect x="108" y="631" width="3" height="1" fill="#C0C0C0"/>
<rect x="114" y="631" width="3" height="1" fill="#C0C0C0"/>
<rect x="120" y="631" width="3" height="1" fill="#C0C0C0"/>
<rect x="126" y="631" width="3" height="1" fill="#C0C0C0"/>
<rect x="132" y="631" width="3" height="1" fill="#C0C0C0"/>
<rect x="138" y="631" width="3" height="1" fill="#C0C0C0"/>
<rect x="144" y="631" width="3" height="1" fill="#C0C0C0"/>
<rect x="150" y="631" width="3" height="1" fill="#C0C0C0"/>
<rect x="156" y="631" width="3" height="1" fill="#C0C0C0"/>
<rect x="162" y="631" width="3" height="1" fill="#C0C0C0"/>
<rect x="168" y="631" width="3" height="1" fill="#C0C0C0"/>
<rect x="174" y="631" width="3" height="1" fill="#C0C0C0"/>
<rect x="180" y="631" width="3" height="1" fill="#C0C0C0"/>
<rect x="186" y="631" width="3" height="1" fill="#C0C0C0"/>
<rect x="192" y="631" width="3" height="1" fill="#C0C0C0"/>
<rect x="198" y="631" width="3" height="1" fill="#C0C0C0"/>
<rect x="204" y="631" width="3" height="1" fill="#C0C0C0"/>
<rect x="210" y="631" width="3" height="1" fill="#C0C0C0"/>
<rect x="216" y="631" width="3" height="1" fill="#C0C0C0"/>
<rect x="222" y="631" width="3" height="1" fill="#C0C0C0"/>
<rect x="228" y="631" width="3" height="1" fill="#C0C0C0"/>
<rect x="234" y="631" width="3" height="1" fill="#C0C0C0"/>
<rect x="240" y="631" width="3" height="1" fill="#C0C0C0"/>
<rect x="246" y="631" width="3" height="1" fill="#C0C0C0"/>
<rect x="252" y="631" width="3" height="1" fill="#C0C0C0"/>
<rect x="258" y="631" width="3" height="1" fill="#C0C0C0"/>
<rect x="264" y="631" width="3" height="1" fill="#C0C0C0"/>
<rect x="270" y="631" width="3" height="1" fill="#C0C0C0"/>
<rect x="276" y="631" width="3" height="1" fill="#C0C0C0"/>
<rect x="282" y="631" width="3" height="1" fill="#C0C0C0"/>
<rect x="288" y="631" width="3" height="1" fill="#C0C0C0"/>
<rect x="294" y="631" width="3" height="1" fill="#C0C0C0"/>
<rect x="300" y="631" width="3" height="1" fill="#C0C0C0"/>
<rect x="306" y="631" width="3" height="1" fill="#C0C0C0"/>
<rect x="312" y="631" width="3" height="1" fill="#C0C0C0"/>
<rect x="318" y="631" width="3" height="1" fill="#C0C0C0"/>
<rect x="324" y="631" width="3" height="1" fill="#C0C0C0"/>
<rect x="330" y="631" width="3" height="1" fill="#C0C0C0"/>
<rect x="336" y="631" width="3" height="1" fill="#C0C0C0"/>
<rect x="342" y="631" width="3" height="1" fill="#C0C0C0"/>
<rect x="348" y="631" width="3" height="1" fill="#C0C0C0"/>
<rect x="354" y="631" width="3" height="1" fill="#C0C0C0"/>
<rect x="360" y="631" width="3" height="1" fill="#C0C0C0"/>
<rect x="366" y="631" width="3" height="1" fill="#C0C0C0"/>
<rect x="372" y="631" width="3" height="1" fill="#C0C0C0"/>
<rect x="378" y="631" width="3" height="1" fill="#C0C0C0"/>
<rect x="384" y="631" width="3" height="1" fill="#C0C0C0"/>
<rect x="390" y="631" width="3" height="1" fill="#C0C0C0"/>
<rect x="396" y="631" width="3" height="1" fill="#C0C0C0"/>
<rect x="402" y="631" width="3" height="1" fill="#C0C0C0"/>
<rect x="408" y="631" width="3" height="1" fill="#C0C0C0"/>
<rect x="414" y="631" width="3" height="1" fill="#C0C0C0"/>
<rect x="420" y="631" width="3" height="1" fill="#C0C0C0"/>
<rect x="426" y="631" width="3" height="1" fill="#C0C0C0"/>
<rect x="432" y="631" width="3" height="1" fill="#C0C0C0"/>
<rect x="438" y="631" width="3" height="1" fill="#C0C0C0"/>
<rect x="444" y="631" width="3" height="1" fill="#C0C0C0"/>
<rect x="450" y="631" width="3" height="1" fill="#C0C0C0"/>
<rect x="456" y="631" width="3" height="1" fill="#C0C0C0"/>
<rect x="462" y="631" width="3" height="1" fill="#C0C0C0"/>
<rect x="468" y="631" width="3" height="1" fill="#C0C0C0"/>
<rect x="474" y="631" width="3" height="1" fill="#C0C0C0"/>
<rect x="480" y="631" width="3" height="1" fill="#C0C0C0"/>
<rect x="486" y="631" width="3" height="1" fill="#C0C0C0"/>
<rect x="492" y="631" width="3" height="1" fill="#C0C0C0"/>
<rect x="498" y="631" width="3" height="1" fill="#C0C0C0"/>
<rect x="504" y="631" width="3" height="1" fill="#C0C0C0"/>
<rect x="510" y="631" width="3" height="1" fill="#C0C0C0"/>
<rect x="516" y="631" width="3" height="1" fill="#C0C0C0"/>
<rect x="522" y="631" width="3" height="1" fill="#C0C0C0"/>
<rect x="528" y="631" width="3" height="1" fill="#C0C0C0"/>
<rect x="534" y="631" width="3" height="1" fill="#C0C0C0"/>
<rect x="540" y="631" width="3" height="1" fill="#C0C0C0"/>
<rect x="546" y="631" width="3" height="1" fill="#C0C0C0"/>
<rect x="552" y="631" width="3" height="1" fill="#C0C0C0"/>
<rect x="558" y="631" width="3" height="1" fill="#C0C0C0"/>
<rect x="564" y="631" width="3" height="1" fill="#C0C0C0"/>
<rect x="570" y="631" width="3" height="1" fill="#C0C0C0"/>
<rect x="576" y="631" width="3" height="1" fill="#C0C0C0"/>
<rect x="582" y="631" width="3" height="1" fill="#C0C0C0"/>
<rect x="588" y="631" width="3" height="1" fill="#C0C0C0"/>
<rect x="594" y="631" width="3" height="1" fill="#C0C0C0"/>
<rect x="600" y="631" width="3" height="1" fill="#C0C0C0"/>
<rect x="606" y="631" width="3" height="1" fill="#C0C0C0"/>
<rect x="612" y="631" width="3" height="1" fill="#C0C0C0"/>
<rect x="618" y="631" width="3" height="1" fill="#C0C0C0"/>
<rect x="624" y="631" width="3" height="1" fill="#C0C0C0"/>
<rect x="630" y="631" width="3" height="1" fill="#C0C0C0"/>
<rect x="636" y="631" width="3" height="1" fill="#C0C0C0"/>
<rect x="642" y="631" width="3" height="1" fill="#C0C0C0"/>
<rect x="648" y="631" width="3" height="1" fill="#C0C0C0"/>
<rect x="654" y="631" width="3" height="1" fill="#C0C0C0"/>
<rect x="660" y="631" width="3" height="1" fill="#C0C0C0"/>
<rect x="666" y="631" width="3" height="1" fill="#C0C0C0"/>
<rect x="672" y="631" width="3" height="1" fill="#C0C0C0"/>
<rect x="678" y="631" width="3" height="1" fill="#C0C0C0"/>
<rect x="684" y="631" width="3" height="1" fill="#C0C0C0"/>
<rect x="690" y="631" width="3" height="1" fill="#C0C0C0"/>
<rect x="696" y="631" width="3" height="1" fill="#C0C0C0"/>
<rect x="702" y="631" width="3" height="1" fill="#C0C0C0"/>
<rect x="708" y="631" width="3" height="1" fill="#C0C0C0"/>
<rect x="714" y="631" width="3" height="1" fill="#C0C0C0"/>
<rect x="720" y="631" width="3" height="1" fill="#C0C0C0"/>
<rect x="726" y="631" width="3" height="1" fill="#C0C0C0"/>
<rect x="732" y="631" width="3" height="1" fill="#C0C0C0"/>
<rect x="738" y="631" width="3" height="1" fill="#C0C0C0"/>
<rect x="744" y="631" width="3" height="1" fill="#C0C0C0"/>
<rect x="750" y="631" width="3" height="1" fill="#C0C0C0"/>
<rect x="756" y="631" width="3" height="1" fill="#C0C0C0"/>
<rect x="762" y="631" width="3" height="1" fill="#C0C0C0"/>
<rect x="768" y="631" width="3" height="1" fill="#C0C0C0"/>
<rect x="774" y="631" width="3" height="1" fill="#C0C0C0"/>
<rect x="780" y="631" width="3" height="1" fill="#C0C0C0"/>
<rect x="786" y="631" width="3" height="1" fill="#C0C0C0"/>
<rect x="792" y="631" width="3" height="1" fill="#C0C0C0"/>
<rect x="798" y="631" width="3" height="1" fill="#C0C0C0"/>
<rect x="804" y="631" width="3" height="1" fill="#C0C0C0"/>
<rect x="810" y="631" width="3" height="1" fill="#C0C0C0"/>
<rect x="816" y="631" width="3" height="1" fill="#C0C0C0"/>
<rect x="822" y="631" width="3" height="1" fill="#C0C0C0"/>
<rect x="828" y="631" width="3" height="1" fill="#C0C0C0"/>
<rect x="834" y="631" width="3" height="1" fill="#C0C0C0"/>
<rect x="840" y="631" width="3" height="1" fill="#C0C0C0"/>
<rect x="846" y="631" width="3" height="1" fill="#C0C0C0"/>
<rect x="852" y="631" width="3" height="1" fill="#C0C0C0"/>
<rect x="858" y="631" width="3" height="1" fill="#C0C0C0"/>
<rect x="864" y="631" width="3" height="1" fill="#C0C0C0"/>
<rect x="870" y="631" width="3" height="1" fill="#C0C0C0"/>
<rect x="876" y="631" width="3" height="1" fill="#C0C0C0"/>
<rect x="882" y="631" width="3" height="1" fill="#C0C0C0"/>
<rect x="888" y="631" width="3" height="1" fill="#C0C0C0"/>
<rect x="894" y="631" width="3" height="1" fill="#C0C0C0"/>
<rect x="900" y="631" width="3" height="1" fill="#C0C0C0"/>
<rect x="906" y="631" width="3" height="1" fill="#C0C0C0"/>
<rect x="912" y="631" width="3" height="1" fill="#C0C0C0"/>
<rect x="918" y="631" width="3" height="1" fill="#C0C0C0"/>
<rect x="924" y="631" width="3" height="1" fill="#C0C0C0"/>
<rect x="930" y="631" width="3" height="1" fill="#C0C0C0"/>
<rect x="936" y="631" width="3" height="1" fill="#C0C0C0"/>
<rect x="942" y="631" width="3" height="1" fill="#C0C0C0"/>
<rect x="948" y="631" width="3" height="1" fill="#C0C0C0"/>
<rect x="954" y="631" width="3" height="1" fill="#C0C0C0"/>
<rect x="960" y="631" width="3" height="1" fill="#C0C0C0"/>
<rect x="966" y="631" width="3" height="1" fill="#C0C0C0"/>
<rect x="972" y="631" width="3" height="1" fill="#C0C0C0"/>
<rect x="978" y="631" width="3" height="1" fill="#C0C0C0"/>
<rect x="984" y="631" width="3" height="1" fill="#C0C0C0"/>
<rect x="990" y="631" width="3" height="1" fill="#C0C0C0"/>
<rect x="996" y="631" width="3" height="1" fill="#C0C0C0"/>
<rect x="1002" y="631" width="3" height="1" fill="#C0C0C0"/>
<rect x="1008" y="631" width="3" height="1" fill="#C0C0C0"/>
<rect x="1014" y="631" width="3" height="1" fill="#C0C0C0"/>
<rect x="1020" y="631" width="3" height="1" fill="#C0C0C0"/>
<rect x="1026" y="631" width="3" height="1" fill="#C0C0C0"/>
<rect x="1032" y="631" width="3" height="1" fill="#C0C0C0"/>
<rect x="1038" y="631" width="3" height="1" fill="#C0C0C0"/>
<rect x="1044" y="631" width="3" height="1" fill="#C0C0C0"/>
<rect x="1050" y="631" width="3" height="1" fill="#C0C0C0"/>
<rect x="1056" y="631" width="3" height="1" fill="#C0C0C0"/>
<rect x="1062" y="631" width="3" height="1" fill="#C0C0C0"/>
<rect x="1068" y="631" width="3" height="1" fill="#C0C0C0"/>
<rect x="1074" y="631" width="3" height="1" fill="#C0C0C0"/>
<rect x="1080" y="631" width="3" height="1" fill="#C0C0C0"/>
<rect x="1086" y="631" width="3" height="1" fill="#C0C0C0"/>
<rect x="1092" y="631" width="3" height="1" fill="#C0C0C0"/>
<rect x="1098" y="631" width="3" height="1" fill="#C0C0C0"/>
<rect x="1104" y="631" width="3" height="1" fill="#C0C0C0"/>
<rect x="1110" y="631" width="3" height="1" fill="#C0C0C0"/>
<rect x="1116" y="631" width="3" height="1" fill="#C0C0C0"/>
<rect x="1122" y="631" width="3" height="1" fill="#C0C0C0"/>
<rect x="1128" y="631" width="3" height="1" fill="#C0C0C0"/>
<rect x="1134" y="631" width="3" height="1" fill="#C0C0C0"/>
<rect x="1140" y="631" width="3" height="1" fill="#C0C0C0"/>
<rect x="1146" y="631" width="3" height="1" fill="#C0C0C0"/>
<rect x="1152" y="631" width="3" height="1" fill="#C0C0C0"/>
<rect x="1158" y="631" width="3" height="1" fill="#C0C0C0"/>
<rect x="1164" y="631" width="3" height="1" fill="#C0C0C0"/>
</g>
<path d="M697 591h1v1h-1zM696 592h1v1h-1zM698 592h2v1h-2zM696 593h1v1h-1zM700 593h2v1h-2zM809 593h2v1h-2zM593 594h2v1h-2zM695 594h1v1h-1zM701 594h1v1h-1zM807 594h2v1h-2zM811 594h3v1h-3zM592 595h1v1h-1zM595 595h3v1h-3zM694 595h1v1h-1zM701 595h1v1h-1zM806 595h1v1h-1zM813 595h1v1h-1zM591 596h1v1h-1zM598 596h1v1h-1zM694 596h1v1h-1zM702 596h1v1h-1zM805 596h1v1h-1zM814 596h1v1h-1zM590 597h1v1h-1zM598 597h1v1h-1zM691 597h3v1h-3zM702 597h1v1h-1zM805 597h1v1h-1zM814 597h1v1h-1zM589 598h1v1h-1zM599 598h1v1h-1zM659 598h3v1h-3zM685 598h6v1h-6zM702 598h1v1h-1zM804 598h1v1h-1zM814 598h1v1h-1zM913 598h1v1h-1zM589 599h1v1h-1zM600 599h1v1h-1zM656 599h3v1h-3zM662 599h1v1h-1zM683 599h2v1h-2zM702 599h1v1h-1zM804 599h1v1h-1zM814 599h1v1h-1zM912 599h1v1h-1zM914 599h1v1h-1zM588 600h1v1h-1zM600 600h1v1h-1zM654 600h2v1h-2zM663 600h1v1h-1zM682 600h1v1h-1zM703 600h1v1h-1zM803 600h1v1h-1zM815 600h1v1h-1zM911 600h1v1h-1zM915 600h1v1h-1zM588 601h1v1h-1zM601 601h2v1h-2zM653 601h1v1h-1zM663 601h1v1h-1zM679 601h3v1h-3zM703 601h1v1h-1zM803 601h1v1h-1zM815 601h1v1h-1zM911 601h1v1h-1zM916 601h1v1h-1zM588 602h1v1h-1zM603 602h3v1h-3zM632 602h6v1h-6zM653 602h1v1h-1zM664 602h1v1h-1zM677 602h2v1h-2zM703 602h1v1h-1zM802 602h1v1h-1zM815 602h1v1h-1zM910 602h1v1h-1zM917 602h1v1h-1zM587 603h1v1h-1zM606 603h1v1h-1zM630 603h2v1h-2zM638 603h1v1h-1zM652 603h1v1h-1zM665 603h1v1h-1zM676 603h1v1h-1zM703 603h1v1h-1zM802 603h1v1h-1zM815 603h1v1h-1zM905 603h5v1h-5zM918 603h1v1h-1zM587 604h1v1h-1zM606 604h1v1h-1zM629 604h1v1h-1zM638 604h1v1h-1zM652 604h1v1h-1zM666 604h1v1h-1zM675 604h1v1h-1zM704 604h1v1h-1zM800 604h2v1h-2zM816 604h1v1h-1zM904 604h1v1h-1zM918 604h1v1h-1zM587 605h1v1h-1zM607 605h1v1h-1zM627 605h2v1h-2zM639 605h1v1h-1zM651 605h1v1h-1zM667 605h2v1h-2zM674 605h1v1h-1zM704 605h1v1h-1zM798 605h2v1h-2zM816 605h1v1h-1zM903 605h1v1h-1zM919 605h1v1h-1zM925 605h1v1h-1zM581 606h1v1h-1zM587 606h1v1h-1zM607 606h1v1h-1zM613 606h1v1h-1zM626 606h1v1h-1zM640 606h1v1h-1zM651 606h1v1h-1zM669 606h5v1h-5zM704 606h1v1h-1zM797 606h1v1h-1zM816 606h1v1h-1zM903 606h1v1h-1zM920 606h1v1h-1zM923 606h2v1h-2zM580 607h1v1h-1zM582 607h1v1h-1zM586 607h1v1h-1zM608 607h1v1h-1zM611 607h2v1h-2zM614 607h1v1h-1zM623 607h3v1h-3zM640 607h1v1h-1zM650 607h1v1h-1zM704 607h1v1h-1zM711 607h4v1h-4zM796 607h1v1h-1zM816 607h1v1h-1zM873 607h1v1h-1zM902 607h1v1h-1zM920 607h1v1h-1zM922 607h1v1h-1zM120 608h6v1h-6zM580 608h1v1h-1zM583 608h1v1h-1zM586 608h1v1h-1zM608 608h1v1h-1zM610 608h1v1h-1zM615 608h2v1h-2zM619 608h4v1h-4zM641 608h1v1h-1zM650 608h1v1h-1zM705 608h1v1h-1zM708 608h3v1h-3zM715 608h3v1h-3zM725 608h1v1h-1zM795 608h1v1h-1zM817 608h1v1h-1zM872 608h1v1h-1zM874 608h1v1h-1zM900 608h2v1h-2zM921 608h1v1h-1zM118 609h2v1h-2zM126 609h1v1h-1zM133 609h1v1h-1zM317 609h1v1h-1zM569 609h5v1h-5zM579 609h1v1h-1zM583 609h1v1h-1zM586 609h1v1h-1zM609 609h1v1h-1zM617 609h2v1h-2zM642 609h1v1h-1zM649 609h1v1h-1zM705 609h3v1h-3zM718 609h1v1h-1zM723 609h2v1h-2zM726 609h2v1h-2zM767 609h3v1h-3zM794 609h1v1h-1zM817 609h1v1h-1zM871 609h1v1h-1zM875 609h2v1h-2zM892 609h3v1h-3zM898 609h2v1h-2zM108 610h2v1h-2zM116 610h2v1h-2zM127 610h1v1h-1zM131 610h2v1h-2zM134 610h1v1h-1zM301 610h1v1h-1zM315 610h2v1h-2zM318 610h1v1h-1zM345 610h1v1h-1zM569 610h1v1h-1zM574 610h1v1h-1zM579 610h1v1h-1zM584 610h2v1h-2zM643 610h2v1h-2zM647 610h3v1h-3zM705 610h1v1h-1zM719 610h2v1h-2zM722 610h1v1h-1zM728 610h2v1h-2zM749 610h5v1h-5zM761 610h6v1h-6zM770 610h1v1h-1zM793 610h1v1h-1zM817 610h1v1h-1zM870 610h1v1h-1zM877 610h2v1h-2zM883 610h4v1h-4zM890 610h2v1h-2zM895 610h3v1h-3zM106 611h2v1h-2zM110 611h2v1h-2zM114 611h2v1h-2zM128 611h1v1h-1zM130 611h1v1h-1zM135 611h1v1h-1zM300 611h1v1h-1zM302 611h1v1h-1zM314 611h1v1h-1zM318 611h1v1h-1zM344 611h1v1h-1zM346 611h1v1h-1zM568 611h1v1h-1zM575 611h1v1h-1zM578 611h1v1h-1zM585 611h1v1h-1zM645 611h2v1h-2zM721 611h1v1h-1zM730 611h1v1h-1zM748 611h1v1h-1zM754 611h1v1h-1zM760 611h1v1h-1zM771 611h1v1h-1zM792 611h1v1h-1zM818 611h1v1h-1zM827 611h3v1h-3zM869 611h1v1h-1zM879 611h4v1h-4zM887 611h3v1h-3zM105 612h1v1h-1zM112 612h2v1h-2zM129 612h1v1h-1zM135 612h1v1h-1zM213 612h1v1h-1zM300 612h1v1h-1zM303 612h1v1h-1zM308 612h6v1h-6zM319 612h1v1h-1zM344 612h1v1h-1zM347 612h1v1h-1zM389 612h1v1h-1zM568 612h1v1h-1zM576 612h1v1h-1zM578 612h1v1h-1zM730 612h1v1h-1zM747 612h1v1h-1zM755 612h1v1h-1zM759 612h1v1h-1zM772 612h1v1h-1zM791 612h1v1h-1zM819 612h2v1h-2zM823 612h4v1h-4zM830 612h1v1h-1zM844 612h3v1h-3zM869 612h1v1h-1zM49 613h1v1h-1zM104 613h1v1h-1zM136 613h1v1h-1zM212 613h1v1h-1zM214 613h1v1h-1zM233 613h2v1h-2zM299 613h1v1h-1zM304 613h1v1h-1zM306 613h2v1h-2zM320 613h1v1h-1zM343 613h1v1h-1zM348 613h1v1h-1zM388 613h1v1h-1zM390 613h1v1h-1zM567 613h1v1h-1zM577 613h1v1h-1zM731 613h1v1h-1zM746 613h1v1h-1zM755 613h1v1h-1zM759 613h1v1h-1zM773 613h2v1h-2zM790 613h1v1h-1zM821 613h2v1h-2zM831 613h2v1h-2zM835 613h4v1h-4zM842 613h2v1h-2zM847 613h3v1h-3zM868 613h1v1h-1zM5 614h1v1h-1zM49 614h3v1h-3zM95 614h3v1h-3zM103 614h1v1h-1zM137 614h5v1h-5zM211 614h1v1h-1zM215 614h1v1h-1zM232 614h1v1h-1zM235 614h7v1h-7zM298 614h1v1h-1zM305 614h1v1h-1zM320 614h1v1h-1zM343 614h1v1h-1zM349 614h1v1h-1zM387 614h1v1h-1zM390 614h1v1h-1zM567 614h1v1h-1zM731 614h1v1h-1zM743 614h3v1h-3zM756 614h1v1h-1zM758 614h1v1h-1zM775 614h15v1h-15zM833 614h2v1h-2zM839 614h3v1h-3zM850 614h1v1h-1zM868 614h1v1h-1zM6 615h1v1h-1zM48 615h1v1h-1zM52 615h2v1h-2zM65 615h1v1h-1zM72 615h3v1h-3zM91 615h4v1h-4zM98 615h1v1h-1zM103 615h1v1h-1zM142 615h2v1h-2zM177 615h5v1h-5zM210 615h1v1h-1zM216 615h1v1h-1zM232 615h1v1h-1zM242 615h2v1h-2zM298 615h1v1h-1zM321 615h5v1h-5zM332 615h2v1h-2zM342 615h1v1h-1zM350 615h2v1h-2zM386 615h1v1h-1zM391 615h1v1h-1zM566 615h1v1h-1zM732 615h1v1h-1zM739 615h4v1h-4zM757 615h1v1h-1zM851 615h1v1h-1zM867 615h1v1h-1zM7 616h1v1h-1zM48 616h1v1h-1zM54 616h1v1h-1zM65 616h3v1h-3zM70 616h2v1h-2zM75 616h3v1h-3zM89 616h2v1h-2zM99 616h2v1h-2zM102 616h1v1h-1zM144 616h2v1h-2zM176 616h1v1h-1zM181 616h1v1h-1zM209 616h1v1h-1zM217 616h1v1h-1zM231 616h1v1h-1zM244 616h6v1h-6zM292 616h6v1h-6zM326 616h2v1h-2zM330 616h2v1h-2zM334 616h1v1h-1zM342 616h1v1h-1zM352 616h2v1h-2zM360 616h6v1h-6zM373 616h1v1h-1zM385 616h1v1h-1zM391 616h1v1h-1zM541 616h1v1h-1zM566 616h1v1h-1zM732 616h1v1h-1zM736 616h3v1h-3zM851 616h1v1h-1zM867 616h1v1h-1zM7 617h1v1h-1zM47 617h1v1h-1zM55 617h1v1h-1zM64 617h1v1h-1zM68 617h2v1h-2zM78 617h1v1h-1zM89 617h1v1h-1zM101 617h1v1h-1zM146 617h2v1h-2zM175 617h1v1h-1zM182 617h1v1h-1zM209 617h1v1h-1zM218 617h2v1h-2zM230 617h1v1h-1zM250 617h1v1h-1zM290 617h2v1h-2zM328 617h2v1h-2zM335 617h1v1h-1zM341 617h1v1h-1zM354 617h2v1h-2zM358 617h2v1h-2zM366 617h1v1h-1zM371 617h2v1h-2zM374 617h1v1h-1zM383 617h2v1h-2zM392 617h1v1h-1zM541 617h2v1h-2zM557 617h9v1h-9zM733 617h3v1h-3zM852 617h1v1h-1zM866 617h1v1h-1zM8 618h1v1h-1zM47 618h1v1h-1zM56 618h1v1h-1zM64 618h1v1h-1zM78 618h1v1h-1zM88 618h1v1h-1zM148 618h2v1h-2zM175 618h1v1h-1zM182 618h1v1h-1zM208 618h1v1h-1zM220 618h7v1h-7zM230 618h1v1h-1zM251 618h1v1h-1zM289 618h1v1h-1zM335 618h1v1h-1zM339 618h2v1h-2zM356 618h2v1h-2zM367 618h2v1h-2zM370 618h1v1h-1zM375 618h1v1h-1zM382 618h1v1h-1zM392 618h1v1h-1zM540 618h1v1h-1zM543 618h2v1h-2zM556 618h1v1h-1zM733 618h1v1h-1zM853 618h1v1h-1zM866 618h1v1h-1zM9 619h1v1h-1zM46 619h1v1h-1zM57 619h1v1h-1zM63 619h1v1h-1zM79 619h1v1h-1zM88 619h1v1h-1zM150 619h1v1h-1zM160 619h6v1h-6zM174 619h1v1h-1zM183 619h1v1h-1zM208 619h1v1h-1zM227 619h3v1h-3zM251 619h1v1h-1zM287 619h2v1h-2zM336 619h1v1h-1zM338 619h1v1h-1zM369 619h1v1h-1zM376 619h1v1h-1zM379 619h3v1h-3zM393 619h1v1h-1zM395 619h8v1h-8zM540 619h1v1h-1zM545 619h2v1h-2zM555 619h1v1h-1zM854 619h2v1h-2zM864 619h2v1h-2zM10 620h2v1h-2zM46 620h1v1h-1zM58 620h1v1h-1zM63 620h1v1h-1zM79 620h1v1h-1zM87 620h1v1h-1zM151 620h2v1h-2zM158 620h2v1h-2zM166 620h1v1h-1zM173 620h1v1h-1zM183 620h1v1h-1zM208 620h1v1h-1zM252 620h1v1h-1zM281 620h2v1h-2zM286 620h1v1h-1zM337 620h1v1h-1zM377 620h2v1h-2zM393 620h2v1h-2zM403 620h3v1h-3zM539 620h1v1h-1zM547 620h3v1h-3zM555 620h1v1h-1zM856 620h3v1h-3zM862 620h2v1h-2zM12 621h2v1h-2zM45 621h1v1h-1zM59 621h1v1h-1zM62 621h1v1h-1zM80 621h1v1h-1zM87 621h1v1h-1zM153 621h5v1h-5zM167 621h1v1h-1zM172 621h1v1h-1zM184 621h1v1h-1zM208 621h1v1h-1zM253 621h1v1h-1zM281 621h1v1h-1zM283 621h3v1h-3zM406 621h1v1h-1zM539 621h1v1h-1zM550 621h2v1h-2zM554 621h1v1h-1zM859 621h3v1h-3zM14 622h1v1h-1zM45 622h1v1h-1zM59 622h1v1h-1zM62 622h1v1h-1zM80 622h1v1h-1zM86 622h1v1h-1zM167 622h1v1h-1zM171 622h1v1h-1zM184 622h1v1h-1zM207 622h1v1h-1zM254 622h1v1h-1zM280 622h1v1h-1zM407 622h1v1h-1zM513 622h1v1h-1zM539 622h1v1h-1zM552 622h2v1h-2zM15 623h2v1h-2zM24 623h6v1h-6zM37 623h1v1h-1zM43 623h2v1h-2zM60 623h2v1h-2zM81 623h2v1h-2zM86 623h1v1h-1zM168 623h1v1h-1zM170 623h1v1h-1zM185 623h1v1h-1zM187 623h8v1h-8zM207 623h1v1h-1zM254 623h1v1h-1zM280 623h1v1h-1zM407 623h1v1h-1zM512 623h1v1h-1zM514 623h1v1h-1zM538 623h1v1h-1zM17 624h2v1h-2zM22 624h2v1h-2zM30 624h1v1h-1zM35 624h2v1h-2zM38 624h2v1h-2zM42 624h1v1h-1zM61 624h1v1h-1zM83 624h3v1h-3zM169 624h1v1h-1zM185 624h2v1h-2zM195 624h3v1h-3zM207 624h1v1h-1zM255 624h1v1h-1zM279 624h1v1h-1zM408 624h1v1h-1zM512 624h1v1h-1zM515 624h2v1h-2zM519 624h8v1h-8zM538 624h1v1h-1zM19 625h3v1h-3zM31 625h2v1h-2zM34 625h1v1h-1zM40 625h2v1h-2zM198 625h1v1h-1zM206 625h1v1h-1zM256 625h1v1h-1zM273 625h1v1h-1zM279 625h1v1h-1zM409 625h2v1h-2zM511 625h1v1h-1zM517 625h2v1h-2zM527 625h3v1h-3zM537 625h1v1h-1zM33 626h1v1h-1zM199 626h2v1h-2zM206 626h1v1h-1zM256 626h1v1h-1zM264 626h2v1h-2zM271 626h2v1h-2zM274 626h1v1h-1zM278 626h1v1h-1zM411 626h3v1h-3zM510 626h1v1h-1zM530 626h1v1h-1zM537 626h1v1h-1zM201 627h1v1h-1zM206 627h1v1h-1zM257 627h2v1h-2zM262 627h2v1h-2zM266 627h2v1h-2zM270 627h1v1h-1zM275 627h2v1h-2zM278 627h1v1h-1zM414 627h1v1h-1zM437 627h1v1h-1zM505 627h2v1h-2zM510 627h1v1h-1zM531 627h1v1h-1zM535 627h2v1h-2zM202 628h1v1h-1zM206 628h1v1h-1zM259 628h3v1h-3zM268 628h2v1h-2zM277 628h1v1h-1zM415 628h2v1h-2zM436 628h1v1h-1zM438 628h1v1h-1zM503 628h2v1h-2zM507 628h3v1h-3zM532 628h1v1h-1zM534 628h1v1h-1zM203 629h3v1h-3zM417 629h1v1h-1zM436 629h1v1h-1zM439 629h1v1h-1zM502 629h1v1h-1zM533 629h1v1h-1zM205 630h1v1h-1zM418 630h1v1h-1zM435 630h1v1h-1zM440 630h1v1h-1zM469 630h1v1h-1zM497 630h5v1h-5zM419 631h1v1h-1zM435 631h1v1h-1zM441 631h1v1h-1zM468 631h1v1h-1zM470 631h2v1h-2zM489 631h1v1h-1zM495 631h2v1h-2zM420 632h1v1h-1zM434 632h1v1h-1zM442 632h1v1h-1zM468 632h1v1h-1zM472 632h6v1h-6zM488 632h1v1h-1zM490 632h2v1h-2zM494 632h1v1h-1zM421 633h10v1h-10zM434 633h1v1h-1zM443 633h1v1h-1zM467 633h1v1h-1zM478 633h2v1h-2zM487 633h1v1h-1zM492 633h2v1h-2zM431 634h3v1h-3zM444 634h1v1h-1zM466 634h1v1h-1zM480 634h3v1h-3zM486 634h1v1h-1zM445 635h1v1h-1zM466 635h1v1h-1zM483 635h3v1h-3zM446 636h2v1h-2zM464 636h2v1h-2zM448 637h6v1h-6zM462 637h2v1h-2zM454 638h2v1h-2zM459 638h3v1h-3zM456 639h3v1h-3z" fill="#1E90FF" shape-rendering="crispEdges"/>
<g shape-rendering="crispEdges">
<rect x="4" y="22" width="1164" height="1" fill="#000000"/>
<rect x="4" y="22" width="1" height="636" fill="#000000"/>
<rect x="1167" y="22" width="1" height="636" fill="#000000"/>
<rect x="4" y="482" width="1164" height="1" fill="#000000"/>
<rect x="4" y="484" width="1164" height="1" fill="#000000"/>
<rect x="4" y="568" width="1164" height="1" fill="#000000"/>
<rect x="4" y="570" width="1164" height="1" fill="#000000"/>
<rect x="4" y="657" width="1164" height="1" fill="#000000"/>
<rect x="4" y="483" width="1" height="1" fill="#fff"/>
<rect x="1167" y="483" width="1" height="1" fill="#fff"/>
<rect x="4" y="569" width="1" height="1" fill="#fff"/>
<rect x="1167" y="569" width="1" height="1" fill="#fff"/>
<rect x="5" y="658" width="1" height="3" fill="#000000"/>
<rect x="69" y="658" width="1" height="3" fill="#000000"/>
<rect x="133" y="658" width="1" height="3" fill="#000000"/>
<rect x="197" y="658" width="1" height="3" fill="#000000"/>
<rect x="261" y="658" width="1" height="3" fill="#000000"/>
<rect x="325" y="658" width="1" height="3" fill="#000000"/>
<rect x="389" y="658" width="1" height="3" fill="#000000"/>
<rect x="453" y="658" width="1" height="3" fill="#000000"/>
<rect x="517" y="658" width="1" height="3" fill="#000000"/>
<rect x="581" y="658" width="1" height="3" fill="#000000"/>
<rect x="645" y="658" width="1" height="3" fill="#000000"/>
<rect x="709" y="658" width="1" height="3" fill="#000000"/>
<rect x="773" y="658" width="1" height="3" fill="#000000"/>
<rect x="837" y="658" width="1" height="3" fill="#000000"/>
<rect x="901" y="658" width="1" height="3" fill="#000000"/>
<rect x="1168" y="50" width="2" height="1" fill="#000000"/>
<rect x="1168" y="83" width="2" height="1" fill="#000000"/>
<rect x="1168" y="116" width="2" height="1" fill="#000000"/>
<rect x="1168" y="149" width="2" height="1" fill="#000000"/>
<rect x="1168" y="182" width="2" height="1" fill="#000000"/>
<rect x="1168" y="215" width="2" height="1" fill="#000000"/>
<rect x="1168" y="248" width="2" height="1" fill="#000000"/>
<rect x="1168" y="281" width="2" height="1" fill="#000000"/>
<rect x="1168" y="314" width="2" height="1" fill="#000000"/>
<rect x="1168" y="347" width="2" height="1" fill="#000000"/>
<rect x="1168" y="380" width="2" height="1" fill="#000000"/>
<rect x="1168" y="413" width="2" height="1" fill="#000000"/>
<rect x="1168" y="446" width="2" height="1" fill="#000000"/>
<rect x="1168" y="479" width="2" height="1" fill="#000000"/>
<rect x="1168" y="486" width="2" height="1" fill="#000000"/>
<rect x="1168" y="526" width="2" height="1" fill="#000000"/>
<rect x="1168" y="567" width="2" height="1" fill="#000000"/>
<rect x="1168" y="572" width="2" height="1" fill="#000000"/>
<rect x="1168" y="597" width="2" height="1" fill="#000000"/>
<rect x="1168" y="631" width="2" height="1" fill="#000000"/>
<rect x="1168" y="656" width="2" height="1" fill="#000000"/>
</g>
</svg>
<div id="oc" class="a" style="left:6px;top:40px;width:223px;height:61px;background:#fff">
  <div class="a" style="left:2px;top:2px;width:52px;height:25px;background:linear-gradient(#5c5cf8,#3a3ae2);border:1px solid #2c2ccc;border-bottom:none;box-sizing:border-box"></div>
  <div class="a" style="left:169px;top:2px;width:52px;height:25px;background:linear-gradient(#5c5cf8,#3a3ae2);border:1px solid #2c2ccc;border-bottom:none;box-sizing:border-box"></div>
  <div class="a" style="left:2px;top:26px;width:109px;height:33px;background:linear-gradient(#3434de,#0000a0);border:1px solid #1414b4;border-top:none;box-sizing:border-box"></div>
  <div class="a" style="left:113px;top:26px;width:108px;height:33px;background:linear-gradient(#3434de,#0000a0);border:1px solid #1414b4;border-top:none;box-sizing:border-box"></div>
  <div class="a" style="left:6px;top:25px;width:44px;height:1px;background:#9c9cf0"></div>
  <div class="a" style="left:173px;top:25px;width:44px;height:1px;background:#9c9cf0"></div>
  <div class="a" style="left:56px;top:2px;width:111px;height:21px;border:1px solid #b8b8b8;background:#fff;box-sizing:border-box"></div>
  <div class="a" style="left:58px;top:4px;width:19px;height:18px;background:linear-gradient(#e9e9e9,#c9c9c9);border-right:1px solid #b0b0b0;border-bottom:1px solid #b4b4b4;box-sizing:border-box"></div>
  <div class="a" style="left:146px;top:4px;width:19px;height:18px;background:linear-gradient(#e9e9e9,#c9c9c9);border-left:1px solid #c4c4c4;border-right:1px solid #b0b0b0;border-bottom:1px solid #b4b4b4;box-sizing:border-box"></div>
  <div class="a" style="left:63.8px;top:10.8px;width:0;height:0;border-left:3px solid transparent;border-right:3px solid transparent;border-top:3.4px solid #5060c4"></div>
  <div class="a" style="left:152.8px;top:10.6px;width:0;height:0;border-left:3px solid transparent;border-right:3px solid transparent;border-bottom:3.4px solid #5060c4"></div>
</div>
<div class="a" style="left:8px;top:29px;width:0;height:0;border-left:3.8px solid transparent;border-right:3.8px solid transparent;border-bottom:4px solid #000"></div>
<div class="a" style="left:0;top:678px;width:1206px;height:1px;background:#e4e4e4"></div>
<div class="a" style="left:0;top:679px;width:1206px;height:1px;background:#f2f2f2"></div>
<div class="a" style="left:0;top:680px;width:1206px;height:1px;background:#000"></div>
<div id="tabbar"></div>
<div class="a" style="left:0;top:700px;width:1206px;height:4px;background:#fbfbfb"></div>
<div class="a" style="left:0;top:704px;width:1206px;height:1px;background:#a8a8a8"></div>
<div class="a" style="left:0;top:705px;width:1206px;height:1px;background:#f0f0f0"></div>
<div class="a" style="left:0;top:681px;width:2px;height:18px;background:linear-gradient(90deg,#555,#9a9a9a)"></div>
<div class="a" style="left:290px;top:680px;width:104px;height:19px;background:#fff;border:1px solid #000;border-top:none;box-sizing:border-box"></div>
<div class="a" style="left:1182.5px;top:685.5px;width:0;height:0;border-top:3.5px solid transparent;border-bottom:3.5px solid transparent;border-right:3.5px solid #9a9a9a"></div>
<div class="a" style="left:1201px;top:685.5px;width:0;height:0;border-top:3.5px solid transparent;border-bottom:3.5px solid transparent;border-left:3.5px solid #9a9a9a"></div>
<div style="position:absolute;left:1169px;top:74px;width:37px;height:11px;background:#FF0000;z-index:2"></div>
<div style="position:absolute;left:1169px;top:113px;width:37px;height:11px;background:#000000;z-index:2"></div>
<div style="position:absolute;left:1169px;top:164px;width:37px;height:11px;background:#00FF00;z-index:2"></div>
<div style="position:absolute;left:1169px;top:241px;width:37px;height:11px;background:#0000FF;z-index:2"></div>
<div style="position:absolute;left:1169px;top:332px;width:37px;height:11px;background:#0000FF;z-index:2"></div>
<div style="position:absolute;left:1169px;top:440px;width:37px;height:11px;background:#0000FF;z-index:2"></div>
<div style="position:absolute;left:98px;top:684px;width:1px;height:13px;background:#7a7a7a"></div>
<div style="position:absolute;left:202px;top:684px;width:1px;height:13px;background:#7a7a7a"></div>
<div style="position:absolute;left:498px;top:684px;width:1px;height:13px;background:#7a7a7a"></div>
<div style="position:absolute;left:586px;top:684px;width:1px;height:13px;background:#7a7a7a"></div>
<div style="position:absolute;left:654px;top:684px;width:1px;height:13px;background:#7a7a7a"></div>
<div style="position:absolute;left:730px;top:684px;width:1px;height:13px;background:#7a7a7a"></div>
<div style="position:absolute;left:822px;top:684px;width:1px;height:13px;background:#7a7a7a"></div>
<div style="position:absolute;left:914px;top:684px;width:1px;height:13px;background:#7a7a7a"></div>
<div class="t" style="left:1172.80px;top:45.10px;font-size:9.8px;line-height:13px;color:#000;-webkit-text-stroke:0.18px currentColor;transform:scaleX(0.9350);transform-origin:0 0;">1.29360</div>
<div class="t" style="left:1172.80px;top:78.10px;font-size:9.8px;line-height:13px;color:#000;-webkit-text-stroke:0.18px currentColor;transform:scaleX(0.9350);transform-origin:0 0;">1.28640</div>
<div class="t" style="left:1172.80px;top:144.10px;font-size:9.8px;line-height:13px;color:#000;-webkit-text-stroke:0.18px currentColor;transform:scaleX(0.9350);transform-origin:0 0;">1.27180</div>
<div class="t" style="left:1172.80px;top:177.10px;font-size:9.8px;line-height:13px;color:#000;-webkit-text-stroke:0.18px currentColor;transform:scaleX(0.9350);transform-origin:0 0;">1.26440</div>
<div class="t" style="left:1172.80px;top:210.10px;font-size:9.8px;line-height:13px;color:#000;-webkit-text-stroke:0.18px currentColor;transform:scaleX(0.9350);transform-origin:0 0;">1.25720</div>
<div class="t" style="left:1172.80px;top:276.10px;font-size:9.8px;line-height:13px;color:#000;-webkit-text-stroke:0.18px currentColor;transform:scaleX(0.9350);transform-origin:0 0;">1.24260</div>
<div class="t" style="left:1172.80px;top:309.10px;font-size:9.8px;line-height:13px;color:#000;-webkit-text-stroke:0.18px currentColor;transform:scaleX(0.9350);transform-origin:0 0;">1.23520</div>
<div class="t" style="left:1172.80px;top:342.10px;font-size:9.8px;line-height:13px;color:#000;-webkit-text-stroke:0.18px currentColor;transform:scaleX(0.9350);transform-origin:0 0;">1.22800</div>
<div class="t" style="left:1172.80px;top:375.10px;font-size:9.8px;line-height:13px;color:#000;-webkit-text-stroke:0.18px currentColor;transform:scaleX(0.9350);transform-origin:0 0;">1.22060</div>
<div class="t" style="left:1172.80px;top:408.10px;font-size:9.8px;line-height:13px;color:#000;-webkit-text-stroke:0.18px currentColor;transform:scaleX(0.9350);transform-origin:0 0;">1.21340</div>
<div class="t" style="left:1172.80px;top:474.10px;font-size:9.8px;line-height:13px;color:#000;-webkit-text-stroke:0.18px currentColor;transform:scaleX(0.9350);transform-origin:0 0;">1.19880</div>
<div class="t" style="left:1172.90px;top:74.10px;font-size:9.8px;line-height:13px;color:#fff;-webkit-text-stroke:0.18px currentColor;transform:scaleX(0.9350);transform-origin:0 0;z-index:3;">1.28700</div>
<div class="t" style="left:1172.90px;top:113.10px;font-size:9.8px;line-height:13px;color:#fff;-webkit-text-stroke:0.18px currentColor;transform:scaleX(0.9350);transform-origin:0 0;z-index:3;">1.27855</div>
<div class="t" style="left:1172.90px;top:164.10px;font-size:9.8px;line-height:13px;color:#fff;-webkit-text-stroke:0.18px currentColor;transform:scaleX(0.9350);transform-origin:0 0;z-index:3;">1.26700</div>
<div class="t" style="left:1172.90px;top:241.10px;font-size:9.8px;line-height:13px;color:#fff;-webkit-text-stroke:0.18px currentColor;transform:scaleX(0.9350);transform-origin:0 0;z-index:3;">1.25003</div>
<div class="t" style="left:1172.90px;top:332.10px;font-size:9.8px;line-height:13px;color:#fff;-webkit-text-stroke:0.18px currentColor;transform:scaleX(0.9350);transform-origin:0 0;z-index:3;">1.23003</div>
<div class="t" style="left:1172.90px;top:440.10px;font-size:9.8px;line-height:13px;color:#fff;-webkit-text-stroke:0.18px currentColor;transform:scaleX(0.9350);transform-origin:0 0;z-index:3;">1.20609</div>
<div class="t" style="left:1171.30px;top:486.10px;font-size:9.8px;line-height:13px;color:#000;-webkit-text-stroke:0.18px currentColor;transform:scaleX(0.9279);transform-origin:0 0;">0.01135</div>
<div class="t" style="left:1171.30px;top:521.10px;font-size:9.8px;line-height:13px;color:#000;-webkit-text-stroke:0.18px currentColor;transform:scaleX(0.9229);transform-origin:0 0;">0.00</div>
<div class="t" style="left:1171.30px;top:556.10px;font-size:9.8px;line-height:13px;color:#000;-webkit-text-stroke:0.18px currentColor;transform:scaleX(0.9850);transform-origin:0 0;">-0.01190</div>
<div class="t" style="left:1171.80px;top:572.10px;font-size:9.8px;line-height:13px;color:#000;-webkit-text-stroke:0.18px currentColor;transform:scaleX(0.8687);transform-origin:0 0;">100</div>
<div class="t" style="left:1170.60px;top:592.10px;font-size:9.8px;line-height:13px;color:#000;-webkit-text-stroke:0.18px currentColor;transform:scaleX(0.8442);transform-origin:0 0;">70</div>
<div class="t" style="left:1170.60px;top:626.10px;font-size:9.8px;line-height:13px;color:#000;-webkit-text-stroke:0.18px currentColor;transform:scaleX(0.8442);transform-origin:0 0;">30</div>
<div class="t" style="left:1171.60px;top:645.10px;font-size:9.8px;line-height:13px;color:#000;-webkit-text-stroke:0.18px currentColor;transform:scaleX(0.7158);transform-origin:0 0;">0</div>
<div class="t" style="left:4.10px;top:661.10px;font-size:9.8px;line-height:13px;color:#000;-webkit-text-stroke:0.18px currentColor;transform:scaleX(0.9285);transform-origin:0 0;">28 Dec 2020</div>
<div class="t" style="left:68.70px;top:661.10px;font-size:9.8px;line-height:13px;color:#000;-webkit-text-stroke:0.18px currentColor;transform:scaleX(0.9083);transform-origin:0 0;">16 Jan 2021</div>
<div class="t" style="left:132.80px;top:661.10px;font-size:9.8px;line-height:13px;color:#000;-webkit-text-stroke:0.18px currentColor;transform:scaleX(0.9297);transform-origin:0 0;">4 Feb 2021</div>
<div class="t" style="left:196.70px;top:661.10px;font-size:9.8px;line-height:13px;color:#000;-webkit-text-stroke:0.18px currentColor;transform:scaleX(0.9230);transform-origin:0 0;">23 Feb 2021</div>
<div class="t" style="left:261.50px;top:661.10px;font-size:9.8px;line-height:13px;color:#000;-webkit-text-stroke:0.18px currentColor;transform:scaleX(0.9123);transform-origin:0 0;">13 Mar 2021</div>
<div class="t" style="left:325.00px;top:661.10px;font-size:9.8px;line-height:13px;color:#000;-webkit-text-stroke:0.18px currentColor;transform:scaleX(0.9409);transform-origin:0 0;">1 Apr 2021</div>
<div class="t" style="left:388.80px;top:661.10px;font-size:9.8px;line-height:13px;color:#000;-webkit-text-stroke:0.18px currentColor;transform:scaleX(0.9402);transform-origin:0 0;">20 Apr 2021</div>
<div class="t" style="left:452.80px;top:661.10px;font-size:9.8px;line-height:13px;color:#000;-webkit-text-stroke:0.18px currentColor;transform:scaleX(0.9470);transform-origin:0 0;">8 May 2021</div>
<div class="t" style="left:517.00px;top:661.10px;font-size:9.8px;line-height:13px;color:#000;-webkit-text-stroke:0.18px currentColor;transform:scaleX(0.9459);transform-origin:0 0;">27 May 2021</div>
<div class="t" style="left:581.30px;top:661.10px;font-size:9.8px;line-height:13px;color:#000;-webkit-text-stroke:0.18px currentColor;transform:scaleX(0.8990);transform-origin:0 0;">15 Jun 2021</div>
<div class="t" style="left:645.00px;top:661.10px;font-size:9.8px;line-height:13px;color:#000;-webkit-text-stroke:0.18px currentColor;transform:scaleX(0.8911);transform-origin:0 0;">3 Jul 2021</div>
<div class="t" style="left:708.60px;top:661.10px;font-size:9.8px;line-height:13px;color:#000;-webkit-text-stroke:0.18px currentColor;transform:scaleX(0.9018);transform-origin:0 0;">22 Jul 2021</div>
<div class="t" style="left:772.90px;top:661.10px;font-size:9.8px;line-height:13px;color:#000;-webkit-text-stroke:0.18px currentColor;transform:scaleX(0.9356);transform-origin:0 0;">10 Aug 2021</div>
<div class="t" style="left:836.50px;top:661.10px;font-size:9.8px;line-height:13px;color:#000;-webkit-text-stroke:0.18px currentColor;transform:scaleX(0.9537);transform-origin:0 0;">28 Aug 2021</div>
<div class="t" style="left:901.30px;top:661.10px;font-size:9.8px;line-height:13px;color:#000;-webkit-text-stroke:0.18px currentColor;transform:scaleX(0.9031);transform-origin:0 0;">16 Sep 2021</div>
<div class="t" style="left:20.50px;top:25.10px;font-size:9.8px;line-height:13px;color:#000;-webkit-text-stroke:0.18px currentColor;transform:scaleX(0.9896);transform-origin:0 0;">USDCAD,Daily</div>
<div class="t" style="left:92.40px;top:25.10px;font-size:9.8px;line-height:13px;color:#000;-webkit-text-stroke:0.18px currentColor;transform:scaleX(0.9361);transform-origin:0 0;">1.27323 1.27887 1.26973 1.27855</div>
<div class="t" style="left:9.60px;top:488.10px;font-size:9.8px;line-height:13px;color:#000;-webkit-text-stroke:0.18px currentColor;transform:scaleX(0.9474);transform-origin:0 0;">MACD(12,26,9) 0.004586 0.003074</div>
<div class="t" style="left:9.60px;top:574.10px;font-size:9.8px;line-height:13px;color:#000;-webkit-text-stroke:0.18px currentColor;transform:scaleX(0.9317);transform-origin:0 0;">RSI(14) 61.3600</div>
<div class="t" style="left:-3.90px;top:0.74px;font-size:9.4px;line-height:12px;color:#484848;transform:scaleX(0.9758);transform-origin:0 0;">15</div>
<div class="t" style="left:16.60px;top:0.74px;font-size:9.4px;line-height:12px;color:#484848;transform:scaleX(0.9791);transform-origin:0 0;">M30</div>
<div class="t" style="left:47.80px;top:0.74px;font-size:9.4px;line-height:12px;color:#484848;transform:scaleX(0.9240);transform-origin:0 0;">H1</div>
<div class="t" style="left:74.60px;top:0.74px;font-size:9.4px;line-height:12px;color:#484848;transform:scaleX(1.0322);transform-origin:0 0;">H4</div>
<div class="t" style="left:103.60px;top:0.74px;font-size:9.4px;line-height:12px;color:#484848;transform:scaleX(0.9490);transform-origin:0 0;">D1</div>
<div class="t" style="left:131.00px;top:0.74px;font-size:9.4px;line-height:12px;color:#484848;transform:scaleX(0.9929);transform-origin:0 0;">W1</div>
<div class="t" style="left:157.50px;top:0.74px;font-size:9.4px;line-height:12px;color:#484848;transform:scaleX(1.0262);transform-origin:0 0;">MN</div>
<div class="t" style="left:18.70px;top:683.91px;font-size:11.8px;line-height:15px;color:#6e6e6e;transform:scaleX(0.9840);transform-origin:0 0;">EURUSD,H4</div>
<div class="t" style="left:109.50px;top:683.91px;font-size:11.8px;line-height:15px;color:#6e6e6e;transform:scaleX(1.0273);transform-origin:0 0;">AUDUSD,Daily</div>
<div class="t" style="left:212.70px;top:683.91px;font-size:11.8px;line-height:15px;color:#6e6e6e;transform:scaleX(0.9951);transform-origin:0 0;">USDCHF,H4</div>
<div class="t" style="left:404.80px;top:683.91px;font-size:11.8px;line-height:15px;color:#6e6e6e;transform:scaleX(1.0190);transform-origin:0 0;">USDCNH,Daily</div>
<div class="t" style="left:510.30px;top:683.91px;font-size:11.8px;line-height:15px;color:#6e6e6e;transform:scaleX(1.0560);transform-origin:0 0;">UKOil,Daily</div>
<div class="t" style="left:596.40px;top:683.91px;font-size:11.8px;line-height:15px;color:#6e6e6e;transform:scaleX(0.9975);transform-origin:0 0;">DJ30,H1</div>
<div class="t" style="left:666.60px;top:683.91px;font-size:11.8px;line-height:15px;color:#6e6e6e;transform:scaleX(0.9970);transform-origin:0 0;">USDX,H1</div>
<div class="t" style="left:741.00px;top:683.91px;font-size:11.8px;line-height:15px;color:#6e6e6e;transform:scaleX(1.0142);transform-origin:0 0;">XAUUSD,H4</div>
<div class="t" style="left:834.40px;top:683.91px;font-size:11.8px;line-height:15px;color:#6e6e6e;transform:scaleX(0.9854);transform-origin:0 0;">GBPUSD,H1</div>
<div class="t" style="left:301.40px;top:684.41px;font-size:11.8px;line-height:15px;color:#000;transform:scaleX(1.0135);transform-origin:0 0;">USDCAD,Daily</div>
<div class="t" style="left:20.50px;top:45.84px;font-size:12px;line-height:16px;color:#fff;transform:scaleX(0.8585);transform-origin:0 0;">SELL</div>
<div class="t" style="left:188.80px;top:45.84px;font-size:12px;line-height:16px;color:#fff;transform:scaleX(0.9079);transform-origin:0 0;">BUY</div>
<div class="t" style="left:124.40px;top:45.62px;font-size:11.2px;line-height:15px;color:#000;transform:scaleX(1.0369);transform-origin:0 0;">3.00</div>
<div class="t" style="left:28.70px;top:81.84px;font-size:12px;line-height:16px;color:#fff;font-weight:bold;transform:scaleX(0.9935);transform-origin:0 0;">1.27</div>
<div class="t" style="left:138.70px;top:81.84px;font-size:12px;line-height:16px;color:#fff;font-weight:bold;transform:scaleX(0.9935);transform-origin:0 0;">1.27</div>
<div class="t" style="left:55.70px;top:59.71px;font-size:34.9px;line-height:45px;color:#fff;transform:scaleX(0.8632);transform-origin:0 0;">85</div>
<div class="t" style="left:166.90px;top:59.71px;font-size:34.9px;line-height:45px;color:#fff;transform:scaleX(0.8426);transform-origin:0 0;">87</div>
<div class="t" style="left:95.00px;top:65.84px;font-size:12px;line-height:16px;color:#fff;font-weight:bold;transform:scaleX(1.0641);transform-origin:0 0;">8</div>
<div class="t" style="left:205.70px;top:65.84px;font-size:12px;line-height:16px;color:#fff;font-weight:bold;transform:scaleX(1.0791);transform-origin:0 0;">0</div>
</body></html>
